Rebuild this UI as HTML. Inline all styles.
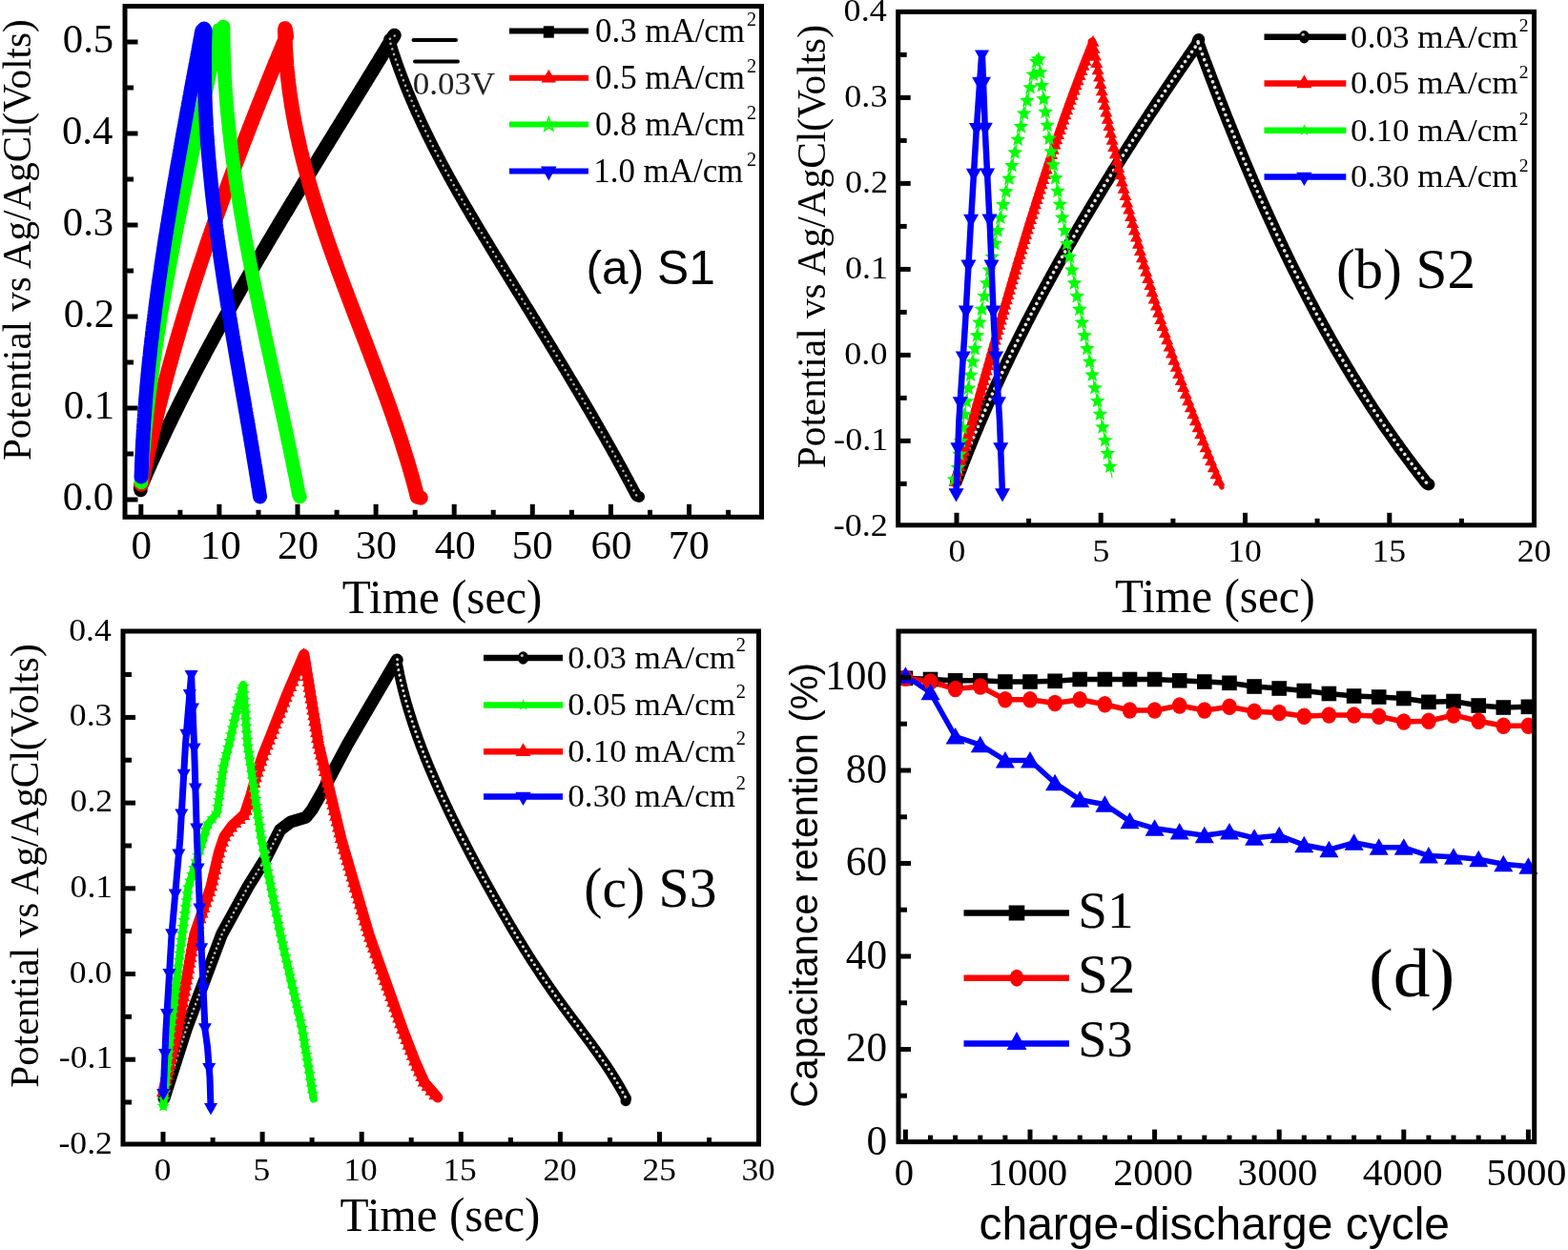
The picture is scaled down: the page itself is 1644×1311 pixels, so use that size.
<!DOCTYPE html>
<html><head><meta charset="utf-8"><title>Figure</title>
<style>html,body{margin:0;padding:0;background:#fff}body{width:1644px;height:1311px;overflow:hidden}svg{display:block}</style>
</head><body>
<svg xmlns="http://www.w3.org/2000/svg" width="1644" height="1311" viewBox="0 0 1644 1311">
<rect width="1644" height="1311" fill="#fff"/>
<text transform="translate(65.83,535.00) scale(1.0000,1)" font-family="'Liberation Serif','Times New Roman',serif" font-size="42.70" fill="#000">0.0</text>
<text transform="translate(66.69,439.00) scale(1.0000,1)" font-family="'Liberation Serif','Times New Roman',serif" font-size="42.70" fill="#000">0.1</text>
<text transform="translate(66.69,343.00) scale(1.0000,1)" font-family="'Liberation Serif','Times New Roman',serif" font-size="42.70" fill="#000">0.2</text>
<text transform="translate(65.83,247.00) scale(1.0000,1)" font-family="'Liberation Serif','Times New Roman',serif" font-size="42.70" fill="#000">0.3</text>
<text transform="translate(64.98,151.00) scale(1.0000,1)" font-family="'Liberation Serif','Times New Roman',serif" font-size="42.70" fill="#000">0.4</text>
<text transform="translate(65.83,55.00) scale(1.0000,1)" font-family="'Liberation Serif','Times New Roman',serif" font-size="42.70" fill="#000">0.5</text>
<text transform="translate(137.55,586.00) scale(1.0000,1)" font-family="'Liberation Serif','Times New Roman',serif" font-size="43.00" fill="#000">0</text>
<text transform="translate(209.63,586.00) scale(1.0000,1)" font-family="'Liberation Serif','Times New Roman',serif" font-size="43.00" fill="#000">10</text>
<text transform="translate(291.00,586.00) scale(1.0000,1)" font-family="'Liberation Serif','Times New Roman',serif" font-size="43.00" fill="#000">20</text>
<text transform="translate(372.89,586.00) scale(1.0000,1)" font-family="'Liberation Serif','Times New Roman',serif" font-size="43.00" fill="#000">30</text>
<text transform="translate(455.63,586.00) scale(1.0000,1)" font-family="'Liberation Serif','Times New Roman',serif" font-size="43.00" fill="#000">40</text>
<text transform="translate(536.87,586.00) scale(1.0000,1)" font-family="'Liberation Serif','Times New Roman',serif" font-size="43.00" fill="#000">50</text>
<text transform="translate(619.40,586.00) scale(1.0000,1)" font-family="'Liberation Serif','Times New Roman',serif" font-size="43.00" fill="#000">60</text>
<text transform="translate(700.86,586.00) scale(1.0000,1)" font-family="'Liberation Serif','Times New Roman',serif" font-size="43.00" fill="#000">70</text>
<text transform="translate(358.82,643.45) scale(0.9868,1)" font-family="'Liberation Serif','Times New Roman',serif" font-size="49.78" fill="#000">Time (sec)</text>
<text transform="translate(31.60,483.03) rotate(-90) scale(0.9976,1)" font-family="'Liberation Serif','Times New Roman',serif" font-size="41.20">Potential vs Ag/AgCl(Volts)</text>
<text transform="translate(614.52,297.67) scale(0.9821,1)" font-family="'Liberation Sans',Arial,sans-serif" font-size="50.64" fill="#000">(a) S1</text>
<line x1="433.5" y1="41.9" x2="478" y2="41.9" stroke="#000" stroke-width="4" stroke-linecap="round"/>
<line x1="435" y1="64.4" x2="480" y2="64.4" stroke="#000" stroke-width="4" stroke-linecap="round"/>
<text transform="translate(432.70,98.62) scale(1.0273,1)" font-family="'Liberation Serif','Times New Roman',serif" font-size="34.03" fill="#222">0.03V</text>
<polyline points="147.5,514.0 147.1,511.7 147.9,509.8 148.7,508.0 149.5,506.1 150.3,504.3 151.1,502.5 151.9,500.6 152.7,498.8 153.5,496.9 154.3,495.1 155.1,493.3 156.0,491.4 156.8,489.6 157.6,487.7 158.4,485.9 159.2,484.1 160.1,482.2 160.9,480.4 161.7,478.6 162.6,476.8 163.4,474.9 164.2,473.1 165.1,471.3 165.9,469.5 166.8,467.6 167.6,465.8 168.5,464.0 169.3,462.2 170.2,460.3 171.0,458.5 171.9,456.7 172.7,454.9 173.6,453.1 174.4,451.3 175.3,449.5 176.2,447.6 177.1,445.8 177.9,444.0 178.8,442.2 179.7,440.4 180.5,438.6 181.4,436.8 182.3,435.0 183.2,433.2 184.1,431.4 185.0,429.6 185.9,427.8 186.7,426.0 187.6,424.2 188.5,422.4 189.4,420.6 190.3,418.8 191.2,417.0 192.1,415.2 193.0,413.4 193.9,411.6 194.8,409.8 195.8,408.0 196.7,406.2 197.6,404.4 198.5,402.7 199.4,400.9 200.3,399.1 201.2,397.3 202.2,395.5 203.1,393.7 204.0,391.9 204.9,390.2 205.9,388.4 206.8,386.6 207.7,384.8 208.7,383.0 209.6,381.3 210.5,379.5 211.5,377.7 212.4,375.9 213.4,374.2 214.3,372.4 215.2,370.6 216.2,368.8 217.1,367.1 218.1,365.3 219.0,363.5 220.0,361.7 220.9,360.0 221.9,358.2 222.9,356.4 223.8,354.7 224.8,352.9 225.7,351.1 226.7,349.4 227.7,347.6 228.6,345.8 229.6,344.1 230.6,342.3 231.5,340.6 232.5,338.8 233.5,337.0 234.5,335.3 235.4,333.5 236.4,331.8 237.4,330.0 238.4,328.3 239.3,326.5 240.3,324.7 241.3,323.0 242.3,321.2 243.3,319.5 244.3,317.7 245.2,316.0 246.2,314.2 247.2,312.5 248.2,310.7 249.2,309.0 250.2,307.2 251.2,305.5 252.2,303.7 253.2,302.0 254.2,300.2 255.2,298.5 256.2,296.7 257.2,295.0 258.2,293.3 259.2,291.5 260.2,289.8 261.2,288.0 262.2,286.3 263.2,284.5 264.2,282.8 265.2,281.1 266.2,279.3 267.3,277.6 268.3,275.9 269.3,274.1 270.3,272.4 271.3,270.6 272.3,268.9 273.4,267.2 274.4,265.4 275.4,263.7 276.4,262.0 277.4,260.2 278.5,258.5 279.5,256.8 280.5,255.0 281.5,253.3 282.5,251.6 283.6,249.8 284.6,248.1 285.6,246.4 286.7,244.6 287.7,242.9 288.7,241.2 289.7,239.5 290.8,237.7 291.8,236.0 292.8,234.3 293.9,232.5 294.9,230.8 295.9,229.1 297.0,227.4 298.0,225.6 299.0,223.9 300.1,222.2 301.1,220.5 302.2,218.7 303.2,217.0 304.2,215.3 305.3,213.6 306.3,211.8 307.4,210.1 308.4,208.4 309.4,206.7 310.5,205.0 311.5,203.2 312.6,201.5 313.6,199.8 314.7,198.1 315.7,196.4 316.8,194.6 317.8,192.9 318.8,191.2 319.9,189.5 320.9,187.8 322.0,186.0 323.0,184.3 324.1,182.6 325.1,180.9 326.2,179.2 327.2,177.5 328.3,175.7 329.3,174.0 330.4,172.3 331.4,170.6 332.5,168.9 333.5,167.2 334.6,165.4 335.6,163.7 336.7,162.0 337.7,160.3 338.8,158.6 339.8,156.9 340.9,155.1 341.9,153.4 343.0,151.7 344.1,150.0 345.1,148.3 346.2,146.6 347.2,144.9 348.3,143.2 349.3,141.4 350.4,139.7 351.4,138.0 352.5,136.3 353.5,134.6 354.6,132.9 355.6,131.2 356.7,129.5 357.8,127.7 358.8,126.0 359.9,124.3 360.9,122.6 362.0,120.9 363.0,119.2 364.1,117.5 365.1,115.8 366.2,114.0 367.2,112.3 368.3,110.6 369.3,108.9 370.4,107.2 371.4,105.5 372.5,103.8 373.6,102.1 374.6,100.4 375.7,98.6 376.7,96.9 377.8,95.2 378.8,93.5 379.9,91.8 380.9,90.1 382.0,88.4 383.0,86.7 384.1,85.0 385.1,83.2 386.2,81.5 387.2,79.8 388.3,78.1 389.3,76.4 390.4,74.7 391.4,73.0 392.5,71.3 393.5,69.5 394.6,67.8 395.6,66.1 396.7,64.4 397.7,62.7 398.7,61.0 399.8,59.3 400.8,57.6 401.9,55.8 402.9,54.1 404.0,52.4 405.0,50.7 406.0,49.0 407.1,47.3 408.1,45.6 409.2,43.9 410.2,42.1 411.3,40.4 412.3,38.7 413.5,37.0" fill="none" stroke="#000" stroke-width="14.5" stroke-linejoin="round" stroke-linecap="round" />
<polyline points="413.8,37.5 408.1,41.3 408.7,43.2 409.3,45.1 409.9,47.0 410.5,48.9 411.1,50.8 411.7,52.7 412.3,54.6 412.9,56.5 413.6,58.4 414.2,60.3 414.8,62.1 415.5,64.0 416.1,65.9 416.8,67.8 417.5,69.6 418.1,71.5 418.8,73.4 419.5,75.3 420.2,77.1 420.9,79.0 421.6,80.8 422.3,82.7 423.0,84.5 423.7,86.4 424.5,88.2 425.2,90.1 425.9,91.9 426.7,93.8 427.4,95.6 428.2,97.5 428.9,99.3 429.7,101.1 430.5,103.0 431.2,104.8 432.0,106.6 432.8,108.4 433.6,110.3 434.4,112.1 435.2,113.9 436.0,115.7 436.8,117.5 437.6,119.4 438.5,121.2 439.3,123.0 440.1,124.8 440.9,126.6 441.8,128.4 442.6,130.2 443.5,132.0 444.3,133.8 445.2,135.6 446.1,137.4 446.9,139.2 447.8,141.0 448.7,142.8 449.6,144.6 450.4,146.4 451.3,148.1 452.2,149.9 453.1,151.7 454.0,153.5 454.9,155.3 455.8,157.0 456.7,158.8 457.7,160.6 458.6,162.4 459.5,164.1 460.4,165.9 461.4,167.7 462.3,169.5 463.2,171.2 464.2,173.0 465.1,174.7 466.1,176.5 467.0,178.3 468.0,180.0 468.9,181.8 469.9,183.5 470.8,185.3 471.8,187.1 472.8,188.8 473.7,190.6 474.7,192.3 475.7,194.1 476.7,195.8 477.7,197.6 478.7,199.3 479.6,201.1 480.6,202.8 481.6,204.6 482.6,206.3 483.6,208.0 484.6,209.8 485.6,211.5 486.6,213.3 487.6,215.0 488.6,216.7 489.7,218.5 490.7,220.2 491.7,221.9 492.7,223.7 493.7,225.4 494.7,227.1 495.8,228.9 496.8,230.6 497.8,232.3 498.9,234.1 499.9,235.8 500.9,237.5 501.9,239.3 503.0,241.0 504.0,242.7 505.1,244.4 506.1,246.2 507.1,247.9 508.2,249.6 509.2,251.3 510.3,253.1 511.3,254.8 512.4,256.5 513.4,258.2 514.4,260.0 515.5,261.7 516.5,263.4 517.6,265.1 518.6,266.9 519.7,268.6 520.7,270.3 521.8,272.0 522.9,273.7 523.9,275.5 525.0,277.2 526.0,278.9 527.1,280.6 528.1,282.3 529.2,284.1 530.2,285.8 531.3,287.5 532.3,289.2 533.4,290.9 534.5,292.7 535.5,294.4 536.6,296.1 537.6,297.8 538.7,299.5 539.7,301.2 540.8,303.0 541.8,304.7 542.9,306.4 544.0,308.1 545.0,309.8 546.1,311.6 547.1,313.3 548.2,315.0 549.2,316.7 550.3,318.4 551.3,320.2 552.4,321.9 553.5,323.6 554.5,325.3 555.6,327.0 556.6,328.8 557.7,330.5 558.7,332.2 559.8,333.9 560.8,335.6 561.9,337.4 562.9,339.1 564.0,340.8 565.0,342.5 566.1,344.2 567.1,346.0 568.2,347.7 569.2,349.4 570.3,351.1 571.3,352.8 572.4,354.6 573.4,356.3 574.5,358.0 575.5,359.7 576.6,361.5 577.6,363.2 578.7,364.9 579.7,366.6 580.7,368.3 581.8,370.1 582.8,371.8 583.9,373.5 584.9,375.2 585.9,377.0 587.0,378.7 588.0,380.4 589.1,382.1 590.1,383.9 591.1,385.6 592.2,387.3 593.2,389.0 594.2,390.8 595.3,392.5 596.3,394.2 597.3,396.0 598.4,397.7 599.4,399.4 600.4,401.1 601.5,402.9 602.5,404.6 603.5,406.3 604.5,408.1 605.6,409.8 606.6,411.5 607.6,413.2 608.6,415.0 609.6,416.7 610.7,418.4 611.7,420.2 612.7,421.9 613.7,423.6 614.7,425.4 615.7,427.1 616.8,428.9 617.8,430.6 618.8,432.3 619.8,434.1 620.8,435.8 621.8,437.5 622.8,439.3 623.8,441.0 624.8,442.8 625.8,444.5 626.8,446.2 627.8,448.0 628.8,449.7 629.8,451.5 630.8,453.2 631.8,454.9 632.8,456.7 633.8,458.4 634.8,460.2 635.7,461.9 636.7,463.7 637.7,465.4 638.7,467.2 639.7,468.9 640.7,470.7 641.6,472.4 642.6,474.2 643.6,475.9 644.6,477.7 645.5,479.4 646.5,481.2 647.5,482.9 648.4,484.7 649.4,486.4 650.4,488.2 651.3,489.9 652.3,491.7 653.2,493.4 654.2,495.2 655.1,497.0 656.1,498.7 657.0,500.5 658.0,502.2 658.9,504.0 659.9,505.8 660.8,507.5 661.8,509.3 662.7,511.1 663.6,512.8 664.6,514.6 665.5,516.4 666.4,518.1 667.4,519.9 670.0,521.0" fill="none" stroke="#000" stroke-width="12" stroke-linejoin="round" stroke-linecap="round" />
<polyline points="413.8,37.5 408.1,41.3 408.7,43.2 409.3,45.1 409.9,47.0 410.5,48.9 411.1,50.8 411.7,52.7 412.3,54.6 412.9,56.5 413.6,58.4 414.2,60.3 414.8,62.1 415.5,64.0 416.1,65.9 416.8,67.8 417.5,69.6 418.1,71.5 418.8,73.4 419.5,75.3 420.2,77.1 420.9,79.0 421.6,80.8 422.3,82.7 423.0,84.5 423.7,86.4 424.5,88.2 425.2,90.1 425.9,91.9 426.7,93.8 427.4,95.6 428.2,97.5 428.9,99.3 429.7,101.1 430.5,103.0 431.2,104.8 432.0,106.6 432.8,108.4 433.6,110.3 434.4,112.1 435.2,113.9 436.0,115.7 436.8,117.5 437.6,119.4 438.5,121.2 439.3,123.0 440.1,124.8 440.9,126.6 441.8,128.4 442.6,130.2 443.5,132.0 444.3,133.8 445.2,135.6 446.1,137.4 446.9,139.2 447.8,141.0 448.7,142.8 449.6,144.6 450.4,146.4 451.3,148.1 452.2,149.9 453.1,151.7 454.0,153.5 454.9,155.3 455.8,157.0 456.7,158.8 457.7,160.6 458.6,162.4 459.5,164.1 460.4,165.9 461.4,167.7 462.3,169.5 463.2,171.2 464.2,173.0 465.1,174.7 466.1,176.5 467.0,178.3 468.0,180.0 468.9,181.8 469.9,183.5 470.8,185.3 471.8,187.1 472.8,188.8 473.7,190.6 474.7,192.3 475.7,194.1 476.7,195.8 477.7,197.6 478.7,199.3 479.6,201.1 480.6,202.8 481.6,204.6 482.6,206.3 483.6,208.0 484.6,209.8 485.6,211.5 486.6,213.3 487.6,215.0 488.6,216.7 489.7,218.5 490.7,220.2 491.7,221.9 492.7,223.7 493.7,225.4 494.7,227.1 495.8,228.9 496.8,230.6 497.8,232.3 498.9,234.1 499.9,235.8 500.9,237.5 501.9,239.3 503.0,241.0 504.0,242.7 505.1,244.4 506.1,246.2 507.1,247.9 508.2,249.6 509.2,251.3 510.3,253.1 511.3,254.8 512.4,256.5 513.4,258.2 514.4,260.0 515.5,261.7 516.5,263.4 517.6,265.1 518.6,266.9 519.7,268.6 520.7,270.3 521.8,272.0 522.9,273.7 523.9,275.5 525.0,277.2 526.0,278.9 527.1,280.6 528.1,282.3 529.2,284.1 530.2,285.8 531.3,287.5 532.3,289.2 533.4,290.9 534.5,292.7 535.5,294.4 536.6,296.1 537.6,297.8 538.7,299.5 539.7,301.2 540.8,303.0 541.8,304.7 542.9,306.4 544.0,308.1 545.0,309.8 546.1,311.6 547.1,313.3 548.2,315.0 549.2,316.7 550.3,318.4 551.3,320.2 552.4,321.9 553.5,323.6 554.5,325.3 555.6,327.0 556.6,328.8 557.7,330.5 558.7,332.2 559.8,333.9 560.8,335.6 561.9,337.4 562.9,339.1 564.0,340.8 565.0,342.5 566.1,344.2 567.1,346.0 568.2,347.7 569.2,349.4 570.3,351.1 571.3,352.8 572.4,354.6 573.4,356.3 574.5,358.0 575.5,359.7 576.6,361.5 577.6,363.2 578.7,364.9 579.7,366.6 580.7,368.3 581.8,370.1 582.8,371.8 583.9,373.5 584.9,375.2 585.9,377.0 587.0,378.7 588.0,380.4 589.1,382.1 590.1,383.9 591.1,385.6 592.2,387.3 593.2,389.0 594.2,390.8 595.3,392.5 596.3,394.2 597.3,396.0 598.4,397.7 599.4,399.4 600.4,401.1 601.5,402.9 602.5,404.6 603.5,406.3 604.5,408.1 605.6,409.8 606.6,411.5 607.6,413.2 608.6,415.0 609.6,416.7 610.7,418.4 611.7,420.2 612.7,421.9 613.7,423.6 614.7,425.4 615.7,427.1 616.8,428.9 617.8,430.6 618.8,432.3 619.8,434.1 620.8,435.8 621.8,437.5 622.8,439.3 623.8,441.0 624.8,442.8 625.8,444.5 626.8,446.2 627.8,448.0 628.8,449.7 629.8,451.5 630.8,453.2 631.8,454.9 632.8,456.7 633.8,458.4 634.8,460.2 635.7,461.9 636.7,463.7 637.7,465.4 638.7,467.2 639.7,468.9 640.7,470.7 641.6,472.4 642.6,474.2 643.6,475.9 644.6,477.7 645.5,479.4 646.5,481.2 647.5,482.9 648.4,484.7 649.4,486.4 650.4,488.2 651.3,489.9 652.3,491.7 653.2,493.4 654.2,495.2 655.1,497.0 656.1,498.7 657.0,500.5 658.0,502.2 658.9,504.0 659.9,505.8 660.8,507.5 661.8,509.3 662.7,511.1 663.6,512.8 664.6,514.6 665.5,516.4 666.4,518.1 667.4,519.9 670.0,521.0" fill="none" stroke="#b0b0b0" stroke-width="2.6" stroke-linejoin="round" stroke-linecap="round" stroke-dasharray="0.01 5.80"/>
<polyline points="148.0,508.0 148.9,506.1 149.3,504.1 149.7,502.2 150.1,500.2 150.5,498.2 150.9,496.2 151.3,494.3 151.7,492.3 152.1,490.3 152.5,488.4 152.9,486.4 153.3,484.4 153.7,482.5 154.2,480.5 154.6,478.5 155.0,476.6 155.4,474.6 155.9,472.7 156.3,470.7 156.7,468.7 157.2,466.8 157.6,464.8 158.0,462.8 158.5,460.9 158.9,458.9 159.4,457.0 159.8,455.0 160.3,453.1 160.7,451.1 161.2,449.1 161.6,447.2 162.1,445.2 162.6,443.3 163.0,441.3 163.5,439.4 164.0,437.4 164.4,435.5 164.9,433.5 165.4,431.6 165.9,429.6 166.3,427.7 166.8,425.7 167.3,423.8 167.8,421.8 168.3,419.9 168.8,417.9 169.3,416.0 169.8,414.0 170.3,412.1 170.8,410.1 171.3,408.2 171.8,406.2 172.3,404.3 172.8,402.4 173.3,400.4 173.8,398.5 174.3,396.5 174.8,394.6 175.4,392.6 175.9,390.7 176.4,388.8 176.9,386.8 177.5,384.9 178.0,382.9 178.5,381.0 179.1,379.1 179.6,377.1 180.1,375.2 180.7,373.3 181.2,371.3 181.7,369.4 182.3,367.5 182.8,365.5 183.4,363.6 183.9,361.7 184.5,359.7 185.0,357.8 185.6,355.9 186.2,353.9 186.7,352.0 187.3,350.1 187.8,348.1 188.4,346.2 189.0,344.3 189.5,342.4 190.1,340.4 190.7,338.5 191.3,336.6 191.8,334.7 192.4,332.7 193.0,330.8 193.6,328.9 194.2,327.0 194.8,325.0 195.3,323.1 195.9,321.2 196.5,319.3 197.1,317.4 197.7,315.4 198.3,313.5 198.9,311.6 199.5,309.7 200.1,307.8 200.7,305.8 201.3,303.9 201.9,302.0 202.5,300.1 203.1,298.2 203.7,296.3 204.4,294.3 205.0,292.4 205.6,290.5 206.2,288.6 206.8,286.7 207.5,284.8 208.1,282.9 208.7,281.0 209.3,279.0 210.0,277.1 210.6,275.2 211.2,273.3 211.9,271.4 212.5,269.5 213.1,267.6 213.8,265.7 214.4,263.8 215.0,261.9 215.7,260.0 216.3,258.1 217.0,256.1 217.6,254.2 218.3,252.3 218.9,250.4 219.6,248.5 220.2,246.6 220.9,244.7 221.5,242.8 222.2,240.9 222.9,239.0 223.5,237.1 224.2,235.2 224.8,233.3 225.5,231.4 226.2,229.5 226.8,227.6 227.5,225.7 228.2,223.8 228.9,221.9 229.5,220.0 230.2,218.2 230.9,216.3 231.6,214.4 232.2,212.5 232.9,210.6 233.6,208.7 234.3,206.8 235.0,204.9 235.6,203.0 236.3,201.1 237.0,199.2 237.7,197.3 238.4,195.4 239.1,193.6 239.8,191.7 240.5,189.8 241.2,187.9 241.9,186.0 242.6,184.1 243.3,182.2 244.0,180.3 244.7,178.5 245.4,176.6 246.1,174.7 246.8,172.8 247.5,170.9 248.2,169.0 248.9,167.2 249.6,165.3 250.3,163.4 251.0,161.5 251.8,159.6 252.5,157.7 253.2,155.9 253.9,154.0 254.6,152.1 255.3,150.2 256.1,148.4 256.8,146.5 257.5,144.6 258.2,142.7 259.0,140.8 259.7,139.0 260.4,137.1 261.1,135.2 261.9,133.3 262.6,131.5 263.3,129.6 264.1,127.7 264.8,125.8 265.5,124.0 266.3,122.1 267.0,120.2 267.7,118.4 268.5,116.5 269.2,114.6 270.0,112.7 270.7,110.9 271.4,109.0 272.2,107.1 272.9,105.3 273.7,103.4 274.4,101.5 275.2,99.7 275.9,97.8 276.7,95.9 277.4,94.1 278.2,92.2 278.9,90.3 279.7,88.5 280.4,86.6 281.2,84.8 281.9,82.9 282.7,81.0 283.5,79.2 284.2,77.3 285.0,75.4 285.7,73.6 286.5,71.7 287.2,69.9 288.0,68.0 288.8,66.1 289.5,64.3 290.3,62.4 291.1,60.6 291.8,58.7 292.6,56.9 293.4,55.0 294.1,53.1 294.9,51.3 295.7,49.4 296.4,47.6 297.2,45.7 298.0,43.9 298.8,42.0 299.5,40.2 300.3,38.3 300.0,36.0 299.0,30.0 298.8,31.9 298.8,33.9 298.9,35.9 298.9,38.0 299.0,40.0 299.0,42.1 299.1,44.1 299.2,46.1 299.2,48.2 299.3,50.2 299.4,52.2 299.5,54.2 299.7,56.3 299.8,58.3 299.9,60.3 300.1,62.3 300.2,64.3 300.4,66.4 300.5,68.4 300.7,70.4 300.9,72.4 301.1,74.4 301.3,76.4 301.5,78.4 301.7,80.4 301.9,82.4 302.1,84.4 302.4,86.4 302.6,88.4 302.9,90.4 303.1,92.4 303.4,94.4 303.6,96.4 303.9,98.4 304.2,100.3 304.5,102.3 304.8,104.3 305.1,106.3 305.4,108.3 305.7,110.3 306.0,112.2 306.4,114.2 306.7,116.2 307.0,118.2 307.4,120.1 307.7,122.1 308.1,124.1 308.5,126.0 308.8,128.0 309.2,130.0 309.6,131.9 310.0,133.9 310.4,135.8 310.8,137.8 311.2,139.8 311.6,141.7 312.0,143.7 312.5,145.6 312.9,147.6 313.3,149.5 313.8,151.5 314.2,153.4 314.7,155.4 315.1,157.3 315.6,159.3 316.1,161.2 316.6,163.1 317.0,165.1 317.5,167.0 318.0,169.0 318.5,170.9 319.0,172.8 319.5,174.8 320.0,176.7 320.5,178.6 321.1,180.6 321.6,182.5 322.1,184.4 322.7,186.4 323.2,188.3 323.7,190.2 324.3,192.1 324.8,194.1 325.4,196.0 325.9,197.9 326.5,199.8 327.1,201.7 327.7,203.7 328.2,205.6 328.8,207.5 329.4,209.4 330.0,211.3 330.6,213.2 331.2,215.2 331.8,217.1 332.4,219.0 333.0,220.9 333.6,222.8 334.2,224.7 334.8,226.6 335.4,228.5 336.1,230.4 336.7,232.3 337.3,234.3 337.9,236.2 338.6,238.1 339.2,240.0 339.9,241.9 340.5,243.8 341.2,245.7 341.8,247.6 342.5,249.5 343.1,251.4 343.8,253.3 344.4,255.2 345.1,257.1 345.8,259.0 346.4,260.9 347.1,262.8 347.8,264.7 348.5,266.6 349.1,268.5 349.8,270.3 350.5,272.2 351.2,274.1 351.9,276.0 352.6,277.9 353.3,279.8 353.9,281.7 354.6,283.6 355.3,285.5 356.0,287.4 356.7,289.3 357.4,291.2 358.1,293.0 358.8,294.9 359.5,296.8 360.2,298.7 361.0,300.6 361.7,302.5 362.4,304.4 363.1,306.3 363.8,308.1 364.5,310.0 365.2,311.9 365.9,313.8 366.7,315.7 367.4,317.6 368.1,319.5 368.8,321.3 369.5,323.2 370.3,325.1 371.0,327.0 371.7,328.9 372.4,330.8 373.1,332.7 373.9,334.5 374.6,336.4 375.3,338.3 376.0,340.2 376.8,342.1 377.5,344.0 378.2,345.8 378.9,347.7 379.6,349.6 380.4,351.5 381.1,353.4 381.8,355.3 382.5,357.1 383.3,359.0 384.0,360.9 384.7,362.8 385.4,364.7 386.1,366.6 386.9,368.5 387.6,370.3 388.3,372.2 389.0,374.1 389.7,376.0 390.4,377.9 391.2,379.8 391.9,381.7 392.6,383.5 393.3,385.4 394.0,387.3 394.7,389.2 395.4,391.1 396.1,393.0 396.8,394.9 397.5,396.8 398.2,398.6 398.9,400.5 399.6,402.4 400.3,404.3 401.0,406.2 401.7,408.1 402.4,410.0 403.1,411.9 403.8,413.8 404.5,415.7 405.2,417.6 405.8,419.4 406.5,421.3 407.2,423.2 407.9,425.1 408.5,427.0 409.2,428.9 409.9,430.8 410.5,432.7 411.2,434.6 411.9,436.5 412.5,438.4 413.2,440.3 413.8,442.2 414.5,444.1 415.1,446.0 415.8,447.9 416.4,449.8 417.0,451.7 417.7,453.6 418.3,455.5 418.9,457.4 419.6,459.3 420.2,461.2 420.8,463.1 421.4,465.0 422.0,467.0 422.6,468.9 423.2,470.8 423.8,472.7 424.4,474.6 425.0,476.5 425.6,478.4 426.2,480.3 426.8,482.3 427.4,484.2 427.9,486.1 428.5,488.0 429.1,489.9 429.6,491.8 430.2,493.8 430.8,495.7 431.3,497.6 431.9,499.5 432.4,501.5 432.9,503.4 433.5,505.3 434.0,507.2 434.5,509.2 435.0,511.1 435.5,513.0 436.0,515.0 436.6,516.9 437.0,518.8 437.5,520.8 441.0,522.0" fill="none" stroke="#f00" stroke-width="15.5" stroke-linejoin="round" stroke-linecap="round" />
<polyline points="148.0,506.0 147.9,503.9 148.1,501.9 148.2,499.9 148.3,497.9 148.5,495.9 148.6,493.9 148.8,491.9 148.9,489.9 149.1,487.9 149.2,485.9 149.4,483.9 149.5,481.9 149.7,479.9 149.9,477.9 150.0,475.9 150.2,473.9 150.4,471.9 150.6,469.9 150.7,467.9 150.9,465.9 151.1,463.9 151.3,461.9 151.5,459.9 151.7,457.9 151.9,455.9 152.1,453.9 152.3,451.9 152.5,449.9 152.7,447.9 152.9,445.9 153.1,443.9 153.3,441.9 153.5,439.9 153.7,437.9 153.9,435.9 154.2,433.9 154.4,431.9 154.6,429.9 154.9,427.9 155.1,425.9 155.3,423.9 155.6,421.9 155.8,419.9 156.0,417.9 156.3,415.9 156.5,414.0 156.8,412.0 157.0,410.0 157.3,408.0 157.5,406.0 157.8,404.0 158.0,402.0 158.3,400.0 158.6,398.0 158.8,396.0 159.1,394.0 159.4,392.0 159.6,390.1 159.9,388.1 160.2,386.1 160.5,384.1 160.8,382.1 161.0,380.1 161.3,378.1 161.6,376.1 161.9,374.1 162.2,372.2 162.5,370.2 162.8,368.2 163.1,366.2 163.4,364.2 163.7,362.2 164.0,360.2 164.3,358.3 164.6,356.3 164.9,354.3 165.2,352.3 165.5,350.3 165.8,348.3 166.1,346.3 166.5,344.4 166.8,342.4 167.1,340.4 167.4,338.4 167.7,336.4 168.1,334.4 168.4,332.5 168.7,330.5 169.0,328.5 169.4,326.5 169.7,324.5 170.0,322.5 170.4,320.6 170.7,318.6 171.1,316.6 171.4,314.6 171.8,312.6 172.1,310.7 172.4,308.7 172.8,306.7 173.1,304.7 173.5,302.7 173.8,300.8 174.2,298.8 174.6,296.8 174.9,294.8 175.3,292.9 175.6,290.9 176.0,288.9 176.3,286.9 176.7,284.9 177.1,283.0 177.4,281.0 177.8,279.0 178.2,277.0 178.5,275.1 178.9,273.1 179.3,271.1 179.7,269.1 180.0,267.2 180.4,265.2 180.8,263.2 181.2,261.2 181.6,259.2 181.9,257.3 182.3,255.3 182.7,253.3 183.1,251.4 183.5,249.4 183.9,247.4 184.2,245.4 184.6,243.5 185.0,241.5 185.4,239.5 185.8,237.5 186.2,235.6 186.6,233.6 187.0,231.6 187.4,229.7 187.8,227.7 188.2,225.7 188.6,223.7 189.0,221.8 189.4,219.8 189.8,217.8 190.2,215.9 190.6,213.9 191.0,211.9 191.4,209.9 191.8,208.0 192.2,206.0 192.6,204.0 193.0,202.1 193.4,200.1 193.8,198.1 194.2,196.2 194.6,194.2 195.1,192.2 195.5,190.3 195.9,188.3 196.3,186.3 196.7,184.3 197.1,182.4 197.5,180.4 197.9,178.4 198.4,176.5 198.8,174.5 199.2,172.5 199.6,170.6 200.0,168.6 200.4,166.6 200.9,164.7 201.3,162.7 201.7,160.7 202.1,158.8 202.5,156.8 203.0,154.9 203.4,152.9 203.8,150.9 204.2,149.0 204.7,147.0 205.1,145.0 205.5,143.1 205.9,141.1 206.3,139.1 206.8,137.2 207.2,135.2 207.6,133.2 208.0,131.3 208.5,129.3 208.9,127.4 209.3,125.4 209.7,123.4 210.2,121.5 210.6,119.5 211.0,117.5 211.4,115.6 211.9,113.6 212.3,111.7 212.7,109.7 213.1,107.7 213.6,105.8 214.0,103.8 214.4,101.8 214.8,99.9 215.3,97.9 215.7,96.0 216.1,94.0 216.5,92.0 217.0,90.1 217.4,88.1 217.8,86.2 218.2,84.2 218.7,82.2 219.1,80.3 219.5,78.3 219.9,76.4 220.4,74.4 220.8,72.5 221.2,70.5 221.6,68.5 222.1,66.6 222.5,64.6 222.9,62.7 223.3,60.7 223.8,58.7 224.2,56.8 224.6,54.8 225.0,52.9 225.4,50.9 225.9,49.0 226.3,47.0 226.7,45.0 227.1,43.1 227.5,41.1 228.0,39.2 228.4,37.2 228.8,35.3 229.2,33.3 229.6,31.3 233.0,30.0 234.0,28.0 234.2,29.9 234.2,31.9 234.2,34.0 234.2,36.0 234.3,38.0 234.3,40.0 234.3,42.0 234.3,44.1 234.4,46.1 234.4,48.1 234.4,50.1 234.5,52.1 234.5,54.2 234.6,56.2 234.7,58.2 234.7,60.2 234.8,62.2 234.9,64.2 234.9,66.2 235.0,68.2 235.1,70.3 235.2,72.3 235.3,74.3 235.4,76.3 235.5,78.3 235.6,80.3 235.7,82.3 235.8,84.3 236.0,86.3 236.1,88.3 236.2,90.4 236.4,92.4 236.5,94.4 236.6,96.4 236.8,98.4 236.9,100.4 237.1,102.4 237.2,104.4 237.4,106.4 237.6,108.4 237.7,110.4 237.9,112.4 238.1,114.4 238.2,116.4 238.4,118.4 238.6,120.4 238.8,122.4 239.0,124.4 239.2,126.4 239.4,128.4 239.6,130.4 239.8,132.4 240.0,134.4 240.2,136.4 240.4,138.4 240.7,140.4 240.9,142.4 241.1,144.4 241.3,146.3 241.6,148.3 241.8,150.3 242.0,152.3 242.3,154.3 242.5,156.3 242.8,158.3 243.0,160.3 243.3,162.3 243.5,164.3 243.8,166.3 244.1,168.3 244.3,170.2 244.6,172.2 244.9,174.2 245.2,176.2 245.4,178.2 245.7,180.2 246.0,182.2 246.3,184.2 246.6,186.1 246.9,188.1 247.2,190.1 247.5,192.1 247.8,194.1 248.1,196.1 248.4,198.0 248.7,200.0 249.0,202.0 249.3,204.0 249.6,206.0 249.9,208.0 250.3,209.9 250.6,211.9 250.9,213.9 251.2,215.9 251.6,217.9 251.9,219.8 252.2,221.8 252.6,223.8 252.9,225.8 253.3,227.8 253.6,229.7 253.9,231.7 254.3,233.7 254.6,235.7 255.0,237.7 255.3,239.6 255.7,241.6 256.1,243.6 256.4,245.6 256.8,247.5 257.1,249.5 257.5,251.5 257.9,253.5 258.3,255.4 258.6,257.4 259.0,259.4 259.4,261.4 259.7,263.3 260.1,265.3 260.5,267.3 260.9,269.3 261.3,271.2 261.7,273.2 262.0,275.2 262.4,277.2 262.8,279.1 263.2,281.1 263.6,283.1 264.0,285.0 264.4,287.0 264.8,289.0 265.2,291.0 265.6,292.9 266.0,294.9 266.4,296.9 266.8,298.8 267.2,300.8 267.6,302.8 268.0,304.8 268.4,306.7 268.8,308.7 269.2,310.7 269.6,312.6 270.0,314.6 270.5,316.6 270.9,318.5 271.3,320.5 271.7,322.5 272.1,324.4 272.5,326.4 273.0,328.4 273.4,330.4 273.8,332.3 274.2,334.3 274.6,336.3 275.1,338.2 275.5,340.2 275.9,342.2 276.3,344.1 276.8,346.1 277.2,348.1 277.6,350.0 278.0,352.0 278.5,354.0 278.9,355.9 279.3,357.9 279.7,359.9 280.2,361.8 280.6,363.8 281.0,365.8 281.5,367.7 281.9,369.7 282.3,371.7 282.7,373.6 283.2,375.6 283.6,377.5 284.0,379.5 284.5,381.5 284.9,383.4 285.3,385.4 285.8,387.4 286.2,389.3 286.6,391.3 287.1,393.3 287.5,395.2 287.9,397.2 288.4,399.2 288.8,401.1 289.2,403.1 289.6,405.1 290.1,407.0 290.5,409.0 290.9,411.0 291.4,412.9 291.8,414.9 292.2,416.9 292.7,418.8 293.1,420.8 293.5,422.7 293.9,424.7 294.4,426.7 294.8,428.6 295.2,430.6 295.6,432.6 296.1,434.5 296.5,436.5 296.9,438.5 297.3,440.4 297.8,442.4 298.2,444.4 298.6,446.3 299.0,448.3 299.4,450.3 299.9,452.2 300.3,454.2 300.7,456.1 301.1,458.1 301.5,460.1 301.9,462.0 302.3,464.0 302.8,466.0 303.2,467.9 303.6,469.9 304.0,471.9 304.4,473.8 304.8,475.8 305.2,477.8 305.6,479.7 306.0,481.7 306.4,483.7 306.8,485.6 307.2,487.6 307.6,489.6 308.0,491.5 308.4,493.5 308.8,495.5 309.2,497.4 309.6,499.4 310.0,501.4 310.4,503.3 310.7,505.3 311.1,507.3 311.5,509.2 311.9,511.2 312.3,513.2 312.6,515.1 313.0,517.1 313.4,519.1 314.5,521.0" fill="none" stroke="#0f0" stroke-width="14.5" stroke-linejoin="round" stroke-linecap="round" />
<polyline points="148.0,500.0 148.1,498.0 148.2,496.0 148.3,494.0 148.4,492.0 148.4,490.0 148.5,487.9 148.6,485.9 148.7,483.9 148.8,481.9 148.8,479.9 148.9,477.9 149.0,475.9 149.1,473.9 149.2,471.8 149.3,469.8 149.4,467.8 149.5,465.8 149.6,463.8 149.7,461.8 149.9,459.8 150.0,457.8 150.1,455.8 150.2,453.8 150.3,451.7 150.5,449.7 150.6,447.7 150.7,445.7 150.9,443.7 151.0,441.7 151.1,439.7 151.3,437.7 151.4,435.7 151.6,433.7 151.7,431.7 151.9,429.7 152.0,427.7 152.2,425.7 152.3,423.7 152.5,421.6 152.6,419.6 152.8,417.6 153.0,415.6 153.1,413.6 153.3,411.6 153.5,409.6 153.7,407.6 153.8,405.6 154.0,403.6 154.2,401.6 154.4,399.6 154.6,397.6 154.8,395.6 154.9,393.6 155.1,391.6 155.3,389.6 155.5,387.6 155.7,385.6 155.9,383.6 156.1,381.6 156.3,379.6 156.5,377.6 156.7,375.6 157.0,373.6 157.2,371.6 157.4,369.6 157.6,367.6 157.8,365.6 158.0,363.6 158.3,361.6 158.5,359.6 158.7,357.6 158.9,355.6 159.2,353.6 159.4,351.6 159.6,349.6 159.9,347.6 160.1,345.6 160.3,343.6 160.6,341.6 160.8,339.6 161.1,337.6 161.3,335.6 161.6,333.6 161.8,331.6 162.1,329.6 162.3,327.6 162.6,325.6 162.8,323.6 163.1,321.7 163.3,319.7 163.6,317.7 163.9,315.7 164.1,313.7 164.4,311.7 164.7,309.7 164.9,307.7 165.2,305.7 165.5,303.7 165.7,301.7 166.0,299.7 166.3,297.7 166.6,295.7 166.8,293.7 167.1,291.8 167.4,289.8 167.7,287.8 168.0,285.8 168.3,283.8 168.6,281.8 168.8,279.8 169.1,277.8 169.4,275.8 169.7,273.8 170.0,271.8 170.3,269.8 170.6,267.9 170.9,265.9 171.2,263.9 171.5,261.9 171.8,259.9 172.1,257.9 172.4,255.9 172.7,253.9 173.0,251.9 173.3,250.0 173.6,248.0 174.0,246.0 174.3,244.0 174.6,242.0 174.9,240.0 175.2,238.0 175.5,236.0 175.9,234.0 176.2,232.1 176.5,230.1 176.8,228.1 177.1,226.1 177.5,224.1 177.8,222.1 178.1,220.1 178.4,218.2 178.8,216.2 179.1,214.2 179.4,212.2 179.7,210.2 180.1,208.2 180.4,206.2 180.7,204.3 181.1,202.3 181.4,200.3 181.7,198.3 182.1,196.3 182.4,194.3 182.8,192.3 183.1,190.4 183.4,188.4 183.8,186.4 184.1,184.4 184.5,182.4 184.8,180.4 185.1,178.5 185.5,176.5 185.8,174.5 186.2,172.5 186.5,170.5 186.9,168.5 187.2,166.6 187.6,164.6 187.9,162.6 188.3,160.6 188.6,158.6 189.0,156.6 189.3,154.7 189.7,152.7 190.0,150.7 190.4,148.7 190.7,146.7 191.1,144.8 191.4,142.8 191.8,140.8 192.2,138.8 192.5,136.8 192.9,134.9 193.2,132.9 193.6,130.9 193.9,128.9 194.3,126.9 194.7,124.9 195.0,123.0 195.4,121.0 195.7,119.0 196.1,117.0 196.5,115.1 196.8,113.1 197.2,111.1 197.5,109.1 197.9,107.1 198.3,105.2 198.6,103.2 199.0,101.2 199.4,99.2 199.7,97.2 200.1,95.3 200.4,93.3 200.8,91.3 201.2,89.3 201.5,87.3 201.9,85.4 202.3,83.4 202.6,81.4 203.0,79.4 203.4,77.5 203.7,75.5 204.1,73.5 204.5,71.5 204.8,69.5 205.2,67.6 205.6,65.6 205.9,63.6 206.3,61.6 206.7,59.7 207.0,57.7 207.4,55.7 207.8,53.7 208.1,51.8 208.5,49.8 208.8,47.8 209.2,45.8 209.6,43.9 209.9,41.9 210.3,39.9 210.7,37.9 211.0,35.9 211.4,34.0 212.0,32.0 214.0,30.0 215.1,31.9 215.0,33.9 215.0,35.9 214.9,37.9 214.8,40.0 214.8,42.0 214.7,44.0 214.7,46.0 214.6,48.1 214.6,50.1 214.6,52.1 214.5,54.1 214.5,56.1 214.5,58.2 214.5,60.2 214.5,62.2 214.5,64.2 214.5,66.3 214.5,68.3 214.5,70.3 214.5,72.3 214.5,74.3 214.5,76.3 214.5,78.4 214.5,80.4 214.6,82.4 214.6,84.4 214.6,86.4 214.7,88.4 214.7,90.5 214.8,92.5 214.8,94.5 214.9,96.5 214.9,98.5 215.0,100.5 215.0,102.6 215.1,104.6 215.2,106.6 215.3,108.6 215.3,110.6 215.4,112.6 215.5,114.6 215.6,116.6 215.7,118.6 215.8,120.7 215.9,122.7 216.0,124.7 216.1,126.7 216.2,128.7 216.3,130.7 216.4,132.7 216.6,134.7 216.7,136.7 216.8,138.7 216.9,140.8 217.1,142.8 217.2,144.8 217.3,146.8 217.5,148.8 217.6,150.8 217.8,152.8 217.9,154.8 218.1,156.8 218.2,158.8 218.4,160.8 218.6,162.8 218.7,164.8 218.9,166.8 219.1,168.8 219.3,170.8 219.4,172.8 219.6,174.8 219.8,176.8 220.0,178.8 220.2,180.8 220.4,182.8 220.6,184.8 220.8,186.8 221.0,188.8 221.2,190.8 221.4,192.8 221.6,194.8 221.8,196.8 222.0,198.8 222.2,200.8 222.4,202.8 222.6,204.8 222.9,206.8 223.1,208.8 223.3,210.8 223.6,212.8 223.8,214.8 224.0,216.8 224.3,218.8 224.5,220.8 224.7,222.8 225.0,224.8 225.2,226.8 225.5,228.8 225.7,230.8 226.0,232.8 226.2,234.8 226.5,236.8 226.7,238.8 227.0,240.8 227.3,242.8 227.5,244.8 227.8,246.8 228.1,248.8 228.3,250.8 228.6,252.8 228.9,254.7 229.1,256.7 229.4,258.7 229.7,260.7 230.0,262.7 230.3,264.7 230.6,266.7 230.8,268.7 231.1,270.7 231.4,272.7 231.7,274.7 232.0,276.7 232.3,278.7 232.6,280.6 232.9,282.6 233.2,284.6 233.5,286.6 233.8,288.6 234.1,290.6 234.4,292.6 234.7,294.6 235.0,296.6 235.3,298.6 235.6,300.6 235.9,302.5 236.2,304.5 236.6,306.5 236.9,308.5 237.2,310.5 237.5,312.5 237.8,314.5 238.1,316.5 238.5,318.5 238.8,320.4 239.1,322.4 239.4,324.4 239.7,326.4 240.1,328.4 240.4,330.4 240.7,332.4 241.1,334.4 241.4,336.3 241.7,338.3 242.0,340.3 242.4,342.3 242.7,344.3 243.0,346.3 243.4,348.3 243.7,350.3 244.0,352.2 244.4,354.2 244.7,356.2 245.1,358.2 245.4,360.2 245.7,362.2 246.1,364.2 246.4,366.1 246.7,368.1 247.1,370.1 247.4,372.1 247.8,374.1 248.1,376.1 248.4,378.1 248.8,380.0 249.1,382.0 249.5,384.0 249.8,386.0 250.2,388.0 250.5,390.0 250.8,392.0 251.2,393.9 251.5,395.9 251.9,397.9 252.2,399.9 252.6,401.9 252.9,403.9 253.3,405.8 253.6,407.8 253.9,409.8 254.3,411.8 254.6,413.8 255.0,415.8 255.3,417.8 255.7,419.7 256.0,421.7 256.4,423.7 256.7,425.7 257.0,427.7 257.4,429.7 257.7,431.6 258.1,433.6 258.4,435.6 258.8,437.6 259.1,439.6 259.4,441.6 259.8,443.5 260.1,445.5 260.5,447.5 260.8,449.5 261.1,451.5 261.5,453.5 261.8,455.5 262.2,457.4 262.5,459.4 262.8,461.4 263.2,463.4 263.5,465.4 263.8,467.4 264.2,469.3 264.5,471.3 264.8,473.3 265.2,475.3 265.5,477.3 265.8,479.3 266.1,481.2 266.5,483.2 266.8,485.2 267.1,487.2 267.5,489.2 267.8,491.2 268.1,493.2 268.4,495.1 268.7,497.1 269.1,499.1 269.4,501.1 269.7,503.1 270.0,505.1 270.3,507.0 270.6,509.0 271.0,511.0 271.3,513.0 271.6,515.0 271.9,517.0 272.2,519.0 272.5,521.0" fill="none" stroke="#00f" stroke-width="15" stroke-linejoin="round" stroke-linecap="round" />
<line x1="534" y1="32.5" x2="617" y2="32.5" stroke="#000" stroke-width="6"/>
<line x1="534" y1="81.75" x2="617" y2="81.75" stroke="#f00" stroke-width="6"/>
<line x1="534" y1="130.5" x2="617" y2="130.5" stroke="#0f0" stroke-width="6"/>
<line x1="534" y1="179.5" x2="617" y2="179.5" stroke="#00f" stroke-width="6"/>
<rect x="569.8" y="27.3" width="11" height="12.4" fill="#000"/>
<path d="M575.3,72.7 L583,86.4 L567.6,86.4Z" fill="#f00"/>
<path d="M575.3,123.3 L577.1,128.4 L582.4,128.5 L578.2,131.7 L579.7,136.9 L575.3,133.8 L570.9,136.9 L572.4,131.7 L568.2,128.5 L573.5,128.4Z" fill="none" stroke="#0f0" stroke-width="1.6"/>
<path d="M567,174.5 L583.5,174.5 L575.3,189.4Z" fill="#00f"/>
<text transform="translate(624.00,44.10) scale(1.0000,1)" font-family="'Liberation Serif','Times New Roman',serif" font-size="34.90" fill="#000">0.3 mA/cm</text>
<text transform="translate(782.89,27.00) scale(1.0000,1)" font-family="'Liberation Serif','Times New Roman',serif" font-size="20.30" fill="#000">2</text>
<text transform="translate(624.00,93.35) scale(1.0000,1)" font-family="'Liberation Serif','Times New Roman',serif" font-size="34.90" fill="#000">0.5 mA/cm</text>
<text transform="translate(782.89,76.25) scale(1.0000,1)" font-family="'Liberation Serif','Times New Roman',serif" font-size="20.30" fill="#000">2</text>
<text transform="translate(624.00,142.10) scale(1.0000,1)" font-family="'Liberation Serif','Times New Roman',serif" font-size="34.90" fill="#000">0.8 mA/cm</text>
<text transform="translate(782.89,125.00) scale(1.0000,1)" font-family="'Liberation Serif','Times New Roman',serif" font-size="20.30" fill="#000">2</text>
<text transform="translate(622.26,191.10) scale(1.0000,1)" font-family="'Liberation Serif','Times New Roman',serif" font-size="34.90" fill="#000">1.0 mA/cm</text>
<text transform="translate(782.89,174.00) scale(1.0000,1)" font-family="'Liberation Serif','Times New Roman',serif" font-size="20.30" fill="#000">2</text>
<text transform="translate(873.73,561.60) scale(1.0880,1)" font-family="'Liberation Serif','Times New Roman',serif" font-size="33.20" fill="#000">-0.2</text>
<text transform="translate(874.10,471.60) scale(1.0880,1)" font-family="'Liberation Serif','Times New Roman',serif" font-size="33.20" fill="#000">-0.1</text>
<text transform="translate(885.29,381.60) scale(1.0880,1)" font-family="'Liberation Serif','Times New Roman',serif" font-size="33.20" fill="#000">0.0</text>
<text transform="translate(886.02,291.60) scale(1.0880,1)" font-family="'Liberation Serif','Times New Roman',serif" font-size="33.20" fill="#000">0.1</text>
<text transform="translate(886.02,201.60) scale(1.0880,1)" font-family="'Liberation Serif','Times New Roman',serif" font-size="33.20" fill="#000">0.2</text>
<text transform="translate(885.29,111.60) scale(1.0880,1)" font-family="'Liberation Serif','Times New Roman',serif" font-size="33.20" fill="#000">0.3</text>
<text transform="translate(884.57,21.60) scale(1.0880,1)" font-family="'Liberation Serif','Times New Roman',serif" font-size="33.20" fill="#000">0.4</text>
<text transform="translate(994.58,588.70) scale(1.0500,1)" font-family="'Liberation Serif','Times New Roman',serif" font-size="34.00" fill="#000">0</text>
<text transform="translate(1145.47,588.70) scale(1.0500,1)" font-family="'Liberation Serif','Times New Roman',serif" font-size="34.00" fill="#000">5</text>
<text transform="translate(1287.26,588.70) scale(1.0500,1)" font-family="'Liberation Serif','Times New Roman',serif" font-size="34.00" fill="#000">10</text>
<text transform="translate(1438.51,588.70) scale(1.0500,1)" font-family="'Liberation Serif','Times New Roman',serif" font-size="34.00" fill="#000">15</text>
<text transform="translate(1590.65,588.70) scale(1.0500,1)" font-family="'Liberation Serif','Times New Roman',serif" font-size="34.00" fill="#000">20</text>
<text transform="translate(1169.12,641.87) scale(0.9899,1)" font-family="'Liberation Serif','Times New Roman',serif" font-size="49.67" fill="#000">Time (sec)</text>
<text transform="translate(864.80,491.24) rotate(-90) scale(1.0030,1)" font-family="'Liberation Serif','Times New Roman',serif" font-size="41.20">Potential vs Ag/AgCl(Volts)</text>
<text transform="translate(1400.94,301.72) scale(0.9938,1)" font-family="'Liberation Serif','Times New Roman',serif" font-size="59.44" fill="#000">(b) S2</text>
<polyline points="1002.5,505.0 1003.2,503.2 1003.9,501.3 1004.7,499.4 1005.4,497.5 1006.1,495.6 1006.8,493.8 1007.5,491.9 1008.3,490.0 1009.0,488.1 1009.7,486.2 1010.4,484.3 1011.2,482.5 1011.9,480.6 1012.7,478.7 1013.4,476.8 1014.1,475.0 1014.9,473.1 1015.6,471.2 1016.4,469.4 1017.2,467.5 1017.9,465.6 1018.7,463.8 1019.4,461.9 1020.2,460.0 1021.0,458.2 1021.7,456.3 1022.5,454.4 1023.3,452.6 1024.1,450.7 1024.9,448.9 1025.6,447.0 1026.4,445.2 1027.2,443.3 1028.0,441.5 1028.8,439.6 1029.6,437.8 1030.4,435.9 1031.2,434.1 1032.0,432.2 1032.8,430.4 1033.6,428.5 1034.4,426.7 1035.2,424.8 1036.0,423.0 1036.9,421.2 1037.7,419.3 1038.5,417.5 1039.3,415.6 1040.1,413.8 1041.0,412.0 1041.8,410.1 1042.6,408.3 1043.5,406.5 1044.3,404.7 1045.2,402.8 1046.0,401.0 1046.8,399.2 1047.7,397.3 1048.5,395.5 1049.4,393.7 1050.2,391.9 1051.1,390.1 1052.0,388.2 1052.8,386.4 1053.7,384.6 1054.5,382.8 1055.4,381.0 1056.3,379.1 1057.2,377.3 1058.0,375.5 1058.9,373.7 1059.8,371.9 1060.7,370.1 1061.5,368.3 1062.4,366.5 1063.3,364.7 1064.2,362.9 1065.1,361.1 1066.0,359.3 1066.9,357.4 1067.8,355.6 1068.7,353.8 1069.6,352.0 1070.5,350.2 1071.4,348.5 1072.3,346.7 1073.2,344.9 1074.1,343.1 1075.0,341.3 1075.9,339.5 1076.8,337.7 1077.8,335.9 1078.7,334.1 1079.6,332.3 1080.5,330.5 1081.5,328.7 1082.4,327.0 1083.3,325.2 1084.3,323.4 1085.2,321.6 1086.1,319.8 1087.1,318.1 1088.0,316.3 1088.9,314.5 1089.9,312.7 1090.8,310.9 1091.8,309.2 1092.7,307.4 1093.7,305.6 1094.6,303.8 1095.6,302.1 1096.5,300.3 1097.5,298.5 1098.5,296.8 1099.4,295.0 1100.4,293.2 1101.4,291.5 1102.3,289.7 1103.3,287.9 1104.3,286.2 1105.2,284.4 1106.2,282.7 1107.2,280.9 1108.2,279.1 1109.2,277.4 1110.1,275.6 1111.1,273.9 1112.1,272.1 1113.1,270.3 1114.1,268.6 1115.1,266.8 1116.1,265.1 1117.1,263.3 1118.1,261.6 1119.0,259.8 1120.0,258.1 1121.0,256.3 1122.1,254.6 1123.1,252.9 1124.1,251.1 1125.1,249.4 1126.1,247.6 1127.1,245.9 1128.1,244.1 1129.1,242.4 1130.1,240.7 1131.1,238.9 1132.2,237.2 1133.2,235.5 1134.2,233.7 1135.2,232.0 1136.2,230.2 1137.3,228.5 1138.3,226.8 1139.3,225.1 1140.4,223.3 1141.4,221.6 1142.4,219.9 1143.5,218.1 1144.5,216.4 1145.5,214.7 1146.6,213.0 1147.6,211.2 1148.7,209.5 1149.7,207.8 1150.7,206.1 1151.8,204.3 1152.8,202.6 1153.9,200.9 1154.9,199.2 1156.0,197.5 1157.0,195.8 1158.1,194.0 1159.2,192.3 1160.2,190.6 1161.3,188.9 1162.3,187.2 1163.4,185.5 1164.5,183.8 1165.5,182.0 1166.6,180.3 1167.6,178.6 1168.7,176.9 1169.8,175.2 1170.9,173.5 1171.9,171.8 1173.0,170.1 1174.1,168.4 1175.1,166.7 1176.2,165.0 1177.3,163.3 1178.4,161.6 1179.5,159.9 1180.5,158.2 1181.6,156.5 1182.7,154.8 1183.8,153.1 1184.9,151.4 1186.0,149.7 1187.1,148.0 1188.1,146.3 1189.2,144.6 1190.3,142.9 1191.4,141.2 1192.5,139.6 1193.6,137.9 1194.7,136.2 1195.8,134.5 1196.9,132.8 1198.0,131.1 1199.1,129.4 1200.2,127.7 1201.3,126.1 1202.4,124.4 1203.5,122.7 1204.6,121.0 1205.7,119.3 1206.8,117.7 1207.9,116.0 1209.1,114.3 1210.2,112.6 1211.3,110.9 1212.4,109.3 1213.5,107.6 1214.6,105.9 1215.7,104.2 1216.9,102.6 1218.0,100.9 1219.1,99.2 1220.2,97.5 1221.3,95.9 1222.5,94.2 1223.6,92.5 1224.7,90.9 1225.8,89.2 1227.0,87.5 1228.1,85.9 1229.2,84.2 1230.3,82.5 1231.5,80.9 1232.6,79.2 1233.7,77.5 1234.9,75.9 1236.0,74.2 1237.1,72.5 1238.3,70.9 1239.4,69.2 1240.5,67.6 1241.7,65.9 1242.8,64.2 1243.9,62.6 1245.1,60.9 1246.2,59.3 1247.3,57.6 1248.5,56.0 1249.6,54.3 1250.8,52.7 1251.9,51.0 1253.1,49.4 1254.2,47.7 1255.3,46.1 1256.0,44.0 1256.8,41.5 1255.9,44.0 1256.6,45.9 1257.3,47.8 1258.0,49.7 1258.6,51.6 1259.3,53.4 1260.0,55.3 1260.7,57.2 1261.4,59.1 1262.1,61.0 1262.8,62.9 1263.5,64.7 1264.3,66.6 1265.0,68.5 1265.7,70.4 1266.4,72.3 1267.1,74.1 1267.8,76.0 1268.5,77.9 1269.2,79.8 1269.9,81.6 1270.6,83.5 1271.4,85.4 1272.1,87.3 1272.8,89.2 1273.5,91.0 1274.2,92.9 1275.0,94.8 1275.7,96.7 1276.4,98.5 1277.1,100.4 1277.9,102.3 1278.6,104.2 1279.3,106.0 1280.0,107.9 1280.8,109.8 1281.5,111.7 1282.2,113.5 1283.0,115.4 1283.7,117.3 1284.5,119.2 1285.2,121.0 1285.9,122.9 1286.7,124.8 1287.4,126.7 1288.2,128.5 1288.9,130.4 1289.7,132.3 1290.4,134.1 1291.2,136.0 1291.9,137.9 1292.7,139.7 1293.4,141.6 1294.2,143.5 1294.9,145.3 1295.7,147.2 1296.5,149.1 1297.2,150.9 1298.0,152.8 1298.8,154.7 1299.5,156.5 1300.3,158.4 1301.1,160.3 1301.8,162.1 1302.6,164.0 1303.4,165.8 1304.2,167.7 1304.9,169.6 1305.7,171.4 1306.5,173.3 1307.3,175.1 1308.1,177.0 1308.9,178.8 1309.7,180.7 1310.4,182.6 1311.2,184.4 1312.0,186.3 1312.8,188.1 1313.6,190.0 1314.4,191.8 1315.2,193.7 1316.0,195.5 1316.8,197.4 1317.6,199.2 1318.4,201.1 1319.2,202.9 1320.1,204.8 1320.9,206.6 1321.7,208.5 1322.5,210.3 1323.3,212.1 1324.1,214.0 1325.0,215.8 1325.8,217.7 1326.6,219.5 1327.4,221.4 1328.3,223.2 1329.1,225.0 1329.9,226.9 1330.8,228.7 1331.6,230.5 1332.4,232.4 1333.3,234.2 1334.1,236.0 1335.0,237.9 1335.8,239.7 1336.6,241.5 1337.5,243.4 1338.3,245.2 1339.2,247.0 1340.1,248.8 1340.9,250.7 1341.8,252.5 1342.6,254.3 1343.5,256.1 1344.4,257.9 1345.2,259.8 1346.1,261.6 1347.0,263.4 1347.8,265.2 1348.7,267.0 1349.6,268.9 1350.5,270.7 1351.4,272.5 1352.2,274.3 1353.1,276.1 1354.0,277.9 1354.9,279.7 1355.8,281.5 1356.7,283.3 1357.6,285.1 1358.5,286.9 1359.4,288.7 1360.3,290.5 1361.2,292.3 1362.1,294.1 1363.0,295.9 1363.9,297.7 1364.8,299.5 1365.8,301.3 1366.7,303.1 1367.6,304.9 1368.5,306.7 1369.5,308.5 1370.4,310.3 1371.3,312.1 1372.2,313.8 1373.2,315.6 1374.1,317.4 1375.1,319.2 1376.0,321.0 1376.9,322.8 1377.9,324.5 1378.8,326.3 1379.8,328.1 1380.7,329.9 1381.7,331.6 1382.7,333.4 1383.6,335.2 1384.6,336.9 1385.5,338.7 1386.5,340.5 1387.5,342.2 1388.5,344.0 1389.4,345.8 1390.4,347.5 1391.4,349.3 1392.4,351.0 1393.4,352.8 1394.3,354.5 1395.3,356.3 1396.3,358.0 1397.3,359.8 1398.3,361.5 1399.3,363.3 1400.3,365.0 1401.3,366.8 1402.3,368.5 1403.4,370.3 1404.4,372.0 1405.4,373.7 1406.4,375.5 1407.4,377.2 1408.5,378.9 1409.5,380.7 1410.5,382.4 1411.5,384.1 1412.6,385.9 1413.6,387.6 1414.7,389.3 1415.7,391.0 1416.7,392.7 1417.8,394.5 1418.8,396.2 1419.9,397.9 1421.0,399.6 1422.0,401.3 1423.1,403.0 1424.1,404.7 1425.2,406.4 1426.3,408.1 1427.3,409.8 1428.4,411.5 1429.5,413.2 1430.6,414.9 1431.7,416.6 1432.8,418.3 1433.8,420.0 1434.9,421.7 1436.0,423.4 1437.1,425.1 1438.2,426.8 1439.3,428.5 1440.4,430.1 1441.6,431.8 1442.7,433.5 1443.8,435.2 1444.9,436.8 1446.0,438.5 1447.2,440.2 1448.3,441.9 1449.4,443.5 1450.5,445.2 1451.7,446.9 1452.8,448.5 1454.0,450.2 1455.1,451.8 1456.3,453.5 1457.4,455.1 1458.6,456.8 1459.7,458.4 1460.9,460.1 1462.1,461.7 1463.2,463.4 1464.4,465.0 1465.6,466.6 1466.7,468.3 1467.9,469.9 1469.1,471.6 1470.3,473.2 1471.5,474.8 1472.7,476.4 1473.9,478.1 1475.1,479.7 1476.3,481.3 1477.5,482.9 1478.7,484.5 1479.9,486.2 1481.1,487.8 1482.3,489.4 1483.6,491.0 1484.8,492.6 1486.0,494.2 1487.2,495.8 1488.5,497.4 1489.7,499.0 1491.0,500.6 1492.2,502.2 1493.4,503.8 1494.7,505.4 1496.0,506.9 1497.9,507.9" fill="none" stroke="#000" stroke-width="13" stroke-linejoin="round" stroke-linecap="round" />
<polyline points="1002.5,505.0 1003.2,503.2 1003.9,501.3 1004.7,499.4 1005.4,497.5 1006.1,495.6 1006.8,493.8 1007.5,491.9 1008.3,490.0 1009.0,488.1 1009.7,486.2 1010.4,484.3 1011.2,482.5 1011.9,480.6 1012.7,478.7 1013.4,476.8 1014.1,475.0 1014.9,473.1 1015.6,471.2 1016.4,469.4 1017.2,467.5 1017.9,465.6 1018.7,463.8 1019.4,461.9 1020.2,460.0 1021.0,458.2 1021.7,456.3 1022.5,454.4 1023.3,452.6 1024.1,450.7 1024.9,448.9 1025.6,447.0 1026.4,445.2 1027.2,443.3 1028.0,441.5 1028.8,439.6 1029.6,437.8 1030.4,435.9 1031.2,434.1 1032.0,432.2 1032.8,430.4 1033.6,428.5 1034.4,426.7 1035.2,424.8 1036.0,423.0 1036.9,421.2 1037.7,419.3 1038.5,417.5 1039.3,415.6 1040.1,413.8 1041.0,412.0 1041.8,410.1 1042.6,408.3 1043.5,406.5 1044.3,404.7 1045.2,402.8 1046.0,401.0 1046.8,399.2 1047.7,397.3 1048.5,395.5 1049.4,393.7 1050.2,391.9 1051.1,390.1 1052.0,388.2 1052.8,386.4 1053.7,384.6 1054.5,382.8 1055.4,381.0 1056.3,379.1 1057.2,377.3 1058.0,375.5 1058.9,373.7 1059.8,371.9 1060.7,370.1 1061.5,368.3 1062.4,366.5 1063.3,364.7 1064.2,362.9 1065.1,361.1 1066.0,359.3 1066.9,357.4 1067.8,355.6 1068.7,353.8 1069.6,352.0 1070.5,350.2 1071.4,348.5 1072.3,346.7 1073.2,344.9 1074.1,343.1 1075.0,341.3 1075.9,339.5 1076.8,337.7 1077.8,335.9 1078.7,334.1 1079.6,332.3 1080.5,330.5 1081.5,328.7 1082.4,327.0 1083.3,325.2 1084.3,323.4 1085.2,321.6 1086.1,319.8 1087.1,318.1 1088.0,316.3 1088.9,314.5 1089.9,312.7 1090.8,310.9 1091.8,309.2 1092.7,307.4 1093.7,305.6 1094.6,303.8 1095.6,302.1 1096.5,300.3 1097.5,298.5 1098.5,296.8 1099.4,295.0 1100.4,293.2 1101.4,291.5 1102.3,289.7 1103.3,287.9 1104.3,286.2 1105.2,284.4 1106.2,282.7 1107.2,280.9 1108.2,279.1 1109.2,277.4 1110.1,275.6 1111.1,273.9 1112.1,272.1 1113.1,270.3 1114.1,268.6 1115.1,266.8 1116.1,265.1 1117.1,263.3 1118.1,261.6 1119.0,259.8 1120.0,258.1 1121.0,256.3 1122.1,254.6 1123.1,252.9 1124.1,251.1 1125.1,249.4 1126.1,247.6 1127.1,245.9 1128.1,244.1 1129.1,242.4 1130.1,240.7 1131.1,238.9 1132.2,237.2 1133.2,235.5 1134.2,233.7 1135.2,232.0 1136.2,230.2 1137.3,228.5 1138.3,226.8 1139.3,225.1 1140.4,223.3 1141.4,221.6 1142.4,219.9 1143.5,218.1 1144.5,216.4 1145.5,214.7 1146.6,213.0 1147.6,211.2 1148.7,209.5 1149.7,207.8 1150.7,206.1 1151.8,204.3 1152.8,202.6 1153.9,200.9 1154.9,199.2 1156.0,197.5 1157.0,195.8 1158.1,194.0 1159.2,192.3 1160.2,190.6 1161.3,188.9 1162.3,187.2 1163.4,185.5 1164.5,183.8 1165.5,182.0 1166.6,180.3 1167.6,178.6 1168.7,176.9 1169.8,175.2 1170.9,173.5 1171.9,171.8 1173.0,170.1 1174.1,168.4 1175.1,166.7 1176.2,165.0 1177.3,163.3 1178.4,161.6 1179.5,159.9 1180.5,158.2 1181.6,156.5 1182.7,154.8 1183.8,153.1 1184.9,151.4 1186.0,149.7 1187.1,148.0 1188.1,146.3 1189.2,144.6 1190.3,142.9 1191.4,141.2 1192.5,139.6 1193.6,137.9 1194.7,136.2 1195.8,134.5 1196.9,132.8 1198.0,131.1 1199.1,129.4 1200.2,127.7 1201.3,126.1 1202.4,124.4 1203.5,122.7 1204.6,121.0 1205.7,119.3 1206.8,117.7 1207.9,116.0 1209.1,114.3 1210.2,112.6 1211.3,110.9 1212.4,109.3 1213.5,107.6 1214.6,105.9 1215.7,104.2 1216.9,102.6 1218.0,100.9 1219.1,99.2 1220.2,97.5 1221.3,95.9 1222.5,94.2 1223.6,92.5 1224.7,90.9 1225.8,89.2 1227.0,87.5 1228.1,85.9 1229.2,84.2 1230.3,82.5 1231.5,80.9 1232.6,79.2 1233.7,77.5 1234.9,75.9 1236.0,74.2 1237.1,72.5 1238.3,70.9 1239.4,69.2 1240.5,67.6 1241.7,65.9 1242.8,64.2 1243.9,62.6 1245.1,60.9 1246.2,59.3 1247.3,57.6 1248.5,56.0 1249.6,54.3 1250.8,52.7 1251.9,51.0 1253.1,49.4 1254.2,47.7 1255.3,46.1 1256.0,44.0 1256.8,41.5 1255.9,44.0 1256.6,45.9 1257.3,47.8 1258.0,49.7 1258.6,51.6 1259.3,53.4 1260.0,55.3 1260.7,57.2 1261.4,59.1 1262.1,61.0 1262.8,62.9 1263.5,64.7 1264.3,66.6 1265.0,68.5 1265.7,70.4 1266.4,72.3 1267.1,74.1 1267.8,76.0 1268.5,77.9 1269.2,79.8 1269.9,81.6 1270.6,83.5 1271.4,85.4 1272.1,87.3 1272.8,89.2 1273.5,91.0 1274.2,92.9 1275.0,94.8 1275.7,96.7 1276.4,98.5 1277.1,100.4 1277.9,102.3 1278.6,104.2 1279.3,106.0 1280.0,107.9 1280.8,109.8 1281.5,111.7 1282.2,113.5 1283.0,115.4 1283.7,117.3 1284.5,119.2 1285.2,121.0 1285.9,122.9 1286.7,124.8 1287.4,126.7 1288.2,128.5 1288.9,130.4 1289.7,132.3 1290.4,134.1 1291.2,136.0 1291.9,137.9 1292.7,139.7 1293.4,141.6 1294.2,143.5 1294.9,145.3 1295.7,147.2 1296.5,149.1 1297.2,150.9 1298.0,152.8 1298.8,154.7 1299.5,156.5 1300.3,158.4 1301.1,160.3 1301.8,162.1 1302.6,164.0 1303.4,165.8 1304.2,167.7 1304.9,169.6 1305.7,171.4 1306.5,173.3 1307.3,175.1 1308.1,177.0 1308.9,178.8 1309.7,180.7 1310.4,182.6 1311.2,184.4 1312.0,186.3 1312.8,188.1 1313.6,190.0 1314.4,191.8 1315.2,193.7 1316.0,195.5 1316.8,197.4 1317.6,199.2 1318.4,201.1 1319.2,202.9 1320.1,204.8 1320.9,206.6 1321.7,208.5 1322.5,210.3 1323.3,212.1 1324.1,214.0 1325.0,215.8 1325.8,217.7 1326.6,219.5 1327.4,221.4 1328.3,223.2 1329.1,225.0 1329.9,226.9 1330.8,228.7 1331.6,230.5 1332.4,232.4 1333.3,234.2 1334.1,236.0 1335.0,237.9 1335.8,239.7 1336.6,241.5 1337.5,243.4 1338.3,245.2 1339.2,247.0 1340.1,248.8 1340.9,250.7 1341.8,252.5 1342.6,254.3 1343.5,256.1 1344.4,257.9 1345.2,259.8 1346.1,261.6 1347.0,263.4 1347.8,265.2 1348.7,267.0 1349.6,268.9 1350.5,270.7 1351.4,272.5 1352.2,274.3 1353.1,276.1 1354.0,277.9 1354.9,279.7 1355.8,281.5 1356.7,283.3 1357.6,285.1 1358.5,286.9 1359.4,288.7 1360.3,290.5 1361.2,292.3 1362.1,294.1 1363.0,295.9 1363.9,297.7 1364.8,299.5 1365.8,301.3 1366.7,303.1 1367.6,304.9 1368.5,306.7 1369.5,308.5 1370.4,310.3 1371.3,312.1 1372.2,313.8 1373.2,315.6 1374.1,317.4 1375.1,319.2 1376.0,321.0 1376.9,322.8 1377.9,324.5 1378.8,326.3 1379.8,328.1 1380.7,329.9 1381.7,331.6 1382.7,333.4 1383.6,335.2 1384.6,336.9 1385.5,338.7 1386.5,340.5 1387.5,342.2 1388.5,344.0 1389.4,345.8 1390.4,347.5 1391.4,349.3 1392.4,351.0 1393.4,352.8 1394.3,354.5 1395.3,356.3 1396.3,358.0 1397.3,359.8 1398.3,361.5 1399.3,363.3 1400.3,365.0 1401.3,366.8 1402.3,368.5 1403.4,370.3 1404.4,372.0 1405.4,373.7 1406.4,375.5 1407.4,377.2 1408.5,378.9 1409.5,380.7 1410.5,382.4 1411.5,384.1 1412.6,385.9 1413.6,387.6 1414.7,389.3 1415.7,391.0 1416.7,392.7 1417.8,394.5 1418.8,396.2 1419.9,397.9 1421.0,399.6 1422.0,401.3 1423.1,403.0 1424.1,404.7 1425.2,406.4 1426.3,408.1 1427.3,409.8 1428.4,411.5 1429.5,413.2 1430.6,414.9 1431.7,416.6 1432.8,418.3 1433.8,420.0 1434.9,421.7 1436.0,423.4 1437.1,425.1 1438.2,426.8 1439.3,428.5 1440.4,430.1 1441.6,431.8 1442.7,433.5 1443.8,435.2 1444.9,436.8 1446.0,438.5 1447.2,440.2 1448.3,441.9 1449.4,443.5 1450.5,445.2 1451.7,446.9 1452.8,448.5 1454.0,450.2 1455.1,451.8 1456.3,453.5 1457.4,455.1 1458.6,456.8 1459.7,458.4 1460.9,460.1 1462.1,461.7 1463.2,463.4 1464.4,465.0 1465.6,466.6 1466.7,468.3 1467.9,469.9 1469.1,471.6 1470.3,473.2 1471.5,474.8 1472.7,476.4 1473.9,478.1 1475.1,479.7 1476.3,481.3 1477.5,482.9 1478.7,484.5 1479.9,486.2 1481.1,487.8 1482.3,489.4 1483.6,491.0 1484.8,492.6 1486.0,494.2 1487.2,495.8 1488.5,497.4 1489.7,499.0 1491.0,500.6 1492.2,502.2 1493.4,503.8 1494.7,505.4 1496.0,506.9 1497.9,507.9" fill="none" stroke="#e2e2e2" stroke-width="3.6" stroke-linejoin="round" stroke-linecap="round" stroke-dasharray="0.01 6.20"/>
<polyline points="1001.0,505.0 1001.8,503.1 1002.4,501.2 1002.9,499.3 1003.5,497.3 1004.0,495.4 1004.6,493.5 1005.2,491.5 1005.7,489.6 1006.3,487.7 1006.8,485.7 1007.4,483.8 1007.9,481.9 1008.5,479.9 1009.1,478.0 1009.6,476.1 1010.2,474.1 1010.7,472.2 1011.3,470.3 1011.8,468.3 1012.4,466.4 1012.9,464.4 1013.5,462.5 1014.0,460.6 1014.6,458.6 1015.1,456.7 1015.7,454.8 1016.2,452.8 1016.8,450.9 1017.3,449.0 1017.9,447.0 1018.4,445.1 1019.0,443.1 1019.5,441.2 1020.1,439.3 1020.6,437.3 1021.2,435.4 1021.7,433.5 1022.3,431.5 1022.8,429.6 1023.4,427.6 1023.9,425.7 1024.5,423.8 1025.0,421.8 1025.6,419.9 1026.1,418.0 1026.7,416.0 1027.2,414.1 1027.8,412.1 1028.3,410.2 1028.9,408.3 1029.4,406.3 1029.9,404.4 1030.5,402.5 1031.0,400.5 1031.6,398.6 1032.1,396.6 1032.7,394.7 1033.2,392.8 1033.8,390.8 1034.3,388.9 1034.9,387.0 1035.4,385.0 1036.0,383.1 1036.5,381.1 1037.1,379.2 1037.6,377.3 1038.1,375.3 1038.7,373.4 1039.2,371.5 1039.8,369.5 1040.3,367.6 1040.9,365.6 1041.4,363.7 1042.0,361.8 1042.5,359.8 1043.1,357.9 1043.6,356.0 1044.2,354.0 1044.7,352.1 1045.3,350.1 1045.8,348.2 1046.4,346.3 1046.9,344.3 1047.5,342.4 1048.1,340.5 1048.6,338.5 1049.2,336.6 1049.7,334.7 1050.3,332.7 1050.8,330.8 1051.4,328.9 1051.9,326.9 1052.5,325.0 1053.0,323.0 1053.6,321.1 1054.2,319.2 1054.7,317.2 1055.3,315.3 1055.8,313.4 1056.4,311.4 1057.0,309.5 1057.5,307.6 1058.1,305.6 1058.6,303.7 1059.2,301.8 1059.8,299.8 1060.3,297.9 1060.9,296.0 1061.5,294.0 1062.0,292.1 1062.6,290.2 1063.2,288.3 1063.7,286.3 1064.3,284.4 1064.9,282.5 1065.4,280.5 1066.0,278.6 1066.6,276.7 1067.2,274.7 1067.7,272.8 1068.3,270.9 1068.9,269.0 1069.5,267.0 1070.0,265.1 1070.6,263.2 1071.2,261.2 1071.8,259.3 1072.3,257.4 1072.9,255.5 1073.5,253.5 1074.1,251.6 1074.7,249.7 1075.3,247.8 1075.8,245.8 1076.4,243.9 1077.0,242.0 1077.6,240.1 1078.2,238.1 1078.8,236.2 1079.4,234.3 1080.0,232.4 1080.6,230.4 1081.2,228.5 1081.8,226.6 1082.4,224.7 1083.0,222.8 1083.6,220.8 1084.2,218.9 1084.8,217.0 1085.4,215.1 1086.0,213.1 1086.6,211.2 1087.2,209.3 1087.8,207.4 1088.4,205.5 1089.0,203.6 1089.6,201.6 1090.2,199.7 1090.8,197.8 1091.4,195.9 1092.1,194.0 1092.7,192.1 1093.3,190.1 1093.9,188.2 1094.5,186.3 1095.2,184.4 1095.8,182.5 1096.4,180.6 1097.0,178.7 1097.7,176.8 1098.3,174.8 1098.9,172.9 1099.6,171.0 1100.2,169.1 1100.8,167.2 1101.5,165.3 1102.1,163.4 1102.7,161.5 1103.4,159.6 1104.0,157.7 1104.7,155.7 1105.3,153.8 1106.0,151.9 1106.6,150.0 1107.3,148.1 1107.9,146.2 1108.6,144.3 1109.2,142.4 1109.9,140.5 1110.5,138.6 1111.2,136.7 1111.9,134.8 1112.5,132.9 1113.2,131.0 1113.9,129.1 1114.5,127.2 1115.2,125.3 1115.9,123.4 1116.5,121.5 1117.2,119.6 1117.9,117.7 1118.6,115.8 1119.3,113.9 1119.9,112.0 1120.6,110.1 1121.3,108.2 1122.0,106.4 1122.7,104.5 1123.4,102.6 1124.1,100.7 1124.8,98.8 1125.5,96.9 1126.2,95.0 1126.9,93.1 1127.6,91.2 1128.3,89.3 1129.0,87.5 1129.7,85.6 1130.4,83.7 1131.1,81.8 1131.8,79.9 1132.5,78.0 1133.3,76.1 1134.0,74.3 1134.7,72.4 1135.4,70.5 1136.1,68.6 1136.9,66.7 1137.6,64.9 1138.3,63.0 1139.1,61.1 1139.8,59.2 1140.6,57.4 1141.3,55.5 1142.0,53.6 1142.8,51.7 1143.5,49.9 1144.3,48.0 1145.0,46.1 1145.0,44.0" fill="none" stroke="#f00" stroke-width="9" stroke-linejoin="round" stroke-linecap="round" />
<path d="M1001.0,498.0 L1007.5,509.7 L994.5,509.7Z M1002.8,492.8 L1009.3,504.5 L996.3,504.5Z M1004.3,487.5 L1010.8,499.2 L997.8,499.2Z M1005.8,482.2 L1012.3,493.9 L999.3,493.9Z M1007.3,476.9 L1013.8,488.6 L1000.8,488.6Z M1008.9,471.6 L1015.4,483.3 L1002.4,483.3Z M1010.4,466.4 L1016.9,478.1 L1003.9,478.1Z M1011.9,461.1 L1018.4,472.8 L1005.4,472.8Z M1013.4,455.8 L1019.9,467.5 L1006.9,467.5Z M1014.9,450.5 L1021.4,462.2 L1008.4,462.2Z M1016.4,445.2 L1022.9,456.9 L1009.9,456.9Z M1017.9,439.9 L1024.4,451.6 L1011.4,451.6Z M1019.4,434.6 L1025.9,446.3 L1012.9,446.3Z M1020.9,429.3 L1027.4,441.0 L1014.4,441.0Z M1022.4,424.0 L1028.9,435.7 L1015.9,435.7Z M1023.9,418.7 L1030.4,430.4 L1017.4,430.4Z M1025.4,413.4 L1031.9,425.1 L1018.9,425.1Z M1026.9,408.2 L1033.4,419.9 L1020.4,419.9Z M1028.4,402.9 L1034.9,414.6 L1021.9,414.6Z M1029.9,397.6 L1036.4,409.3 L1023.4,409.3Z M1031.4,392.3 L1037.9,404.0 L1024.9,404.0Z M1032.9,387.0 L1039.4,398.7 L1026.4,398.7Z M1034.4,381.7 L1040.9,393.4 L1027.9,393.4Z M1035.9,376.4 L1042.4,388.1 L1029.4,388.1Z M1037.4,371.1 L1043.9,382.8 L1030.9,382.8Z M1038.9,365.8 L1045.4,377.5 L1032.4,377.5Z M1040.4,360.5 L1046.9,372.2 L1033.9,372.2Z M1041.9,355.2 L1048.4,366.9 L1035.4,366.9Z M1043.4,349.9 L1049.9,361.6 L1036.9,361.6Z M1044.9,344.6 L1051.4,356.3 L1038.4,356.3Z M1046.4,339.4 L1052.9,351.1 L1039.9,351.1Z M1047.9,334.1 L1054.4,345.8 L1041.4,345.8Z M1049.4,328.8 L1055.9,340.5 L1042.9,340.5Z M1050.9,323.5 L1057.4,335.2 L1044.4,335.2Z M1052.4,318.2 L1058.9,329.9 L1045.9,329.9Z M1053.9,312.9 L1060.4,324.6 L1047.4,324.6Z M1055.5,307.6 L1062.0,319.3 L1049.0,319.3Z M1057.0,302.4 L1063.5,314.1 L1050.5,314.1Z M1058.5,297.1 L1065.0,308.8 L1052.0,308.8Z M1060.1,291.8 L1066.6,303.5 L1053.6,303.5Z M1061.6,286.5 L1068.1,298.2 L1055.1,298.2Z M1063.2,281.2 L1069.7,292.9 L1056.7,292.9Z M1064.7,276.0 L1071.2,287.7 L1058.2,287.7Z M1066.3,270.7 L1072.8,282.4 L1059.8,282.4Z M1067.8,265.4 L1074.3,277.1 L1061.3,277.1Z M1069.4,260.1 L1075.9,271.8 L1062.9,271.8Z M1071.0,254.9 L1077.5,266.6 L1064.5,266.6Z M1072.6,249.6 L1079.1,261.3 L1066.1,261.3Z M1074.2,244.3 L1080.7,256.0 L1067.7,256.0Z M1075.8,239.1 L1082.3,250.8 L1069.3,250.8Z M1077.4,233.8 L1083.9,245.5 L1070.9,245.5Z M1079.0,228.6 L1085.5,240.3 L1072.5,240.3Z M1080.6,223.3 L1087.1,235.0 L1074.1,235.0Z M1082.2,218.0 L1088.7,229.7 L1075.7,229.7Z M1083.9,212.8 L1090.4,224.5 L1077.4,224.5Z M1085.5,207.6 L1092.0,219.3 L1079.0,219.3Z M1087.2,202.3 L1093.7,214.0 L1080.7,214.0Z M1088.8,197.1 L1095.3,208.8 L1082.3,208.8Z M1090.5,191.8 L1097.0,203.5 L1084.0,203.5Z M1092.2,186.6 L1098.7,198.3 L1085.7,198.3Z M1093.9,181.4 L1100.4,193.1 L1087.4,193.1Z M1095.6,176.1 L1102.1,187.8 L1089.1,187.8Z M1097.3,170.9 L1103.8,182.6 L1090.8,182.6Z M1099.0,165.7 L1105.5,177.4 L1092.5,177.4Z M1100.7,160.5 L1107.2,172.2 L1094.2,172.2Z M1102.5,155.2 L1109.0,166.9 L1096.0,166.9Z M1104.2,150.0 L1110.7,161.7 L1097.7,161.7Z M1106.0,144.8 L1112.5,156.5 L1099.5,156.5Z M1107.8,139.6 L1114.3,151.3 L1101.3,151.3Z M1109.6,134.4 L1116.1,146.1 L1103.1,146.1Z M1111.4,129.2 L1117.9,140.9 L1104.9,140.9Z M1113.2,124.0 L1119.7,135.7 L1106.7,135.7Z M1115.0,118.8 L1121.5,130.5 L1108.5,130.5Z M1116.8,113.6 L1123.3,125.3 L1110.3,125.3Z M1118.7,108.5 L1125.2,120.2 L1112.2,120.2Z M1120.6,103.3 L1127.1,115.0 L1114.1,115.0Z M1122.4,98.1 L1128.9,109.8 L1115.9,109.8Z M1124.3,93.0 L1130.8,104.7 L1117.8,104.7Z M1126.2,87.8 L1132.7,99.5 L1119.7,99.5Z M1128.1,82.6 L1134.6,94.3 L1121.6,94.3Z M1130.1,77.5 L1136.6,89.2 L1123.6,89.2Z M1132.0,72.3 L1138.5,84.0 L1125.5,84.0Z M1134.0,67.2 L1140.5,78.9 L1127.5,78.9Z M1136.0,62.1 L1142.5,73.8 L1129.5,73.8Z M1138.0,57.0 L1144.5,68.7 L1131.5,68.7Z M1140.0,51.8 L1146.5,63.5 L1133.5,63.5Z M1142.0,46.7 L1148.5,58.4 L1135.5,58.4Z M1144.0,41.6 L1150.5,53.3 L1137.5,53.3Z" fill="#f00"/>
<polyline points="1146.0,44.0 1146.1,46.1 1146.5,48.1 1146.8,50.0 1147.2,52.0 1147.5,54.0 1147.9,56.0 1148.2,58.0 1148.6,59.9 1148.9,61.9 1149.3,63.9 1149.7,65.9 1150.0,67.8 1150.4,69.8 1150.7,71.8 1151.1,73.8 1151.5,75.8 1151.9,77.7 1152.2,79.7 1152.6,81.7 1153.0,83.7 1153.4,85.6 1153.7,87.6 1154.1,89.6 1154.5,91.6 1154.9,93.5 1155.3,95.5 1155.7,97.5 1156.1,99.5 1156.5,101.4 1156.9,103.4 1157.3,105.4 1157.7,107.3 1158.1,109.3 1158.5,111.3 1158.9,113.3 1159.3,115.2 1159.7,117.2 1160.1,119.2 1160.5,121.1 1160.9,123.1 1161.3,125.1 1161.8,127.0 1162.2,129.0 1162.6,131.0 1163.0,132.9 1163.4,134.9 1163.9,136.9 1164.3,138.8 1164.7,140.8 1165.2,142.8 1165.6,144.7 1166.0,146.7 1166.5,148.7 1166.9,150.6 1167.4,152.6 1167.8,154.6 1168.2,156.5 1168.7,158.5 1169.1,160.4 1169.6,162.4 1170.0,164.4 1170.5,166.3 1171.0,168.3 1171.4,170.2 1171.9,172.2 1172.3,174.2 1172.8,176.1 1173.3,178.1 1173.7,180.0 1174.2,182.0 1174.7,184.0 1175.1,185.9 1175.6,187.9 1176.1,189.8 1176.6,191.8 1177.0,193.7 1177.5,195.7 1178.0,197.6 1178.5,199.6 1179.0,201.6 1179.5,203.5 1180.0,205.5 1180.5,207.4 1181.0,209.4 1181.4,211.3 1181.9,213.3 1182.4,215.2 1182.9,217.2 1183.4,219.1 1184.0,221.1 1184.5,223.0 1185.0,225.0 1185.5,226.9 1186.0,228.9 1186.5,230.8 1187.0,232.8 1187.5,234.7 1188.1,236.6 1188.6,238.6 1189.1,240.5 1189.6,242.5 1190.1,244.4 1190.7,246.4 1191.2,248.3 1191.7,250.2 1192.3,252.2 1192.8,254.1 1193.3,256.1 1193.9,258.0 1194.4,260.0 1195.0,261.9 1195.5,263.8 1196.0,265.8 1196.6,267.7 1197.1,269.6 1197.7,271.6 1198.2,273.5 1198.8,275.5 1199.4,277.4 1199.9,279.3 1200.5,281.3 1201.0,283.2 1201.6,285.1 1202.2,287.1 1202.7,289.0 1203.3,290.9 1203.9,292.9 1204.4,294.8 1205.0,296.7 1205.6,298.6 1206.2,300.6 1206.7,302.5 1207.3,304.4 1207.9,306.4 1208.5,308.3 1209.1,310.2 1209.7,312.1 1210.2,314.1 1210.8,316.0 1211.4,317.9 1212.0,319.8 1212.6,321.8 1213.2,323.7 1213.8,325.6 1214.4,327.5 1215.0,329.5 1215.6,331.4 1216.2,333.3 1216.8,335.2 1217.4,337.1 1218.0,339.1 1218.7,341.0 1219.3,342.9 1219.9,344.8 1220.5,346.7 1221.1,348.6 1221.7,350.6 1222.4,352.5 1223.0,354.4 1223.6,356.3 1224.3,358.2 1224.9,360.1 1225.5,362.0 1226.1,363.9 1226.8,365.9 1227.4,367.8 1228.1,369.7 1228.7,371.6 1229.3,373.5 1230.0,375.4 1230.6,377.3 1231.3,379.2 1231.9,381.1 1232.6,383.0 1233.2,384.9 1233.9,386.8 1234.5,388.7 1235.2,390.6 1235.8,392.5 1236.5,394.5 1237.2,396.4 1237.8,398.3 1238.5,400.2 1239.2,402.1 1239.8,404.0 1240.5,405.8 1241.2,407.7 1241.8,409.6 1242.5,411.5 1243.2,413.4 1243.9,415.3 1244.5,417.2 1245.2,419.1 1245.9,421.0 1246.6,422.9 1247.3,424.8 1248.0,426.7 1248.7,428.6 1249.3,430.5 1250.0,432.4 1250.7,434.2 1251.4,436.1 1252.1,438.0 1252.8,439.9 1253.5,441.8 1254.2,443.7 1254.9,445.6 1255.6,447.5 1256.3,449.3 1257.1,451.2 1257.8,453.1 1258.5,455.0 1259.2,456.9 1259.9,458.7 1260.6,460.6 1261.3,462.5 1262.1,464.4 1262.8,466.3 1263.5,468.1 1264.2,470.0 1265.0,471.9 1265.7,473.8 1266.4,475.6 1267.2,477.5 1267.9,479.4 1268.6,481.3 1269.4,483.1 1270.1,485.0 1270.8,486.9 1271.6,488.7 1272.3,490.6 1273.1,492.5 1273.8,494.3 1274.6,496.2 1275.3,498.1 1276.1,499.9 1276.8,501.8 1277.6,503.7 1278.3,505.5 1279.1,507.4 1279.8,509.2 1281.0,511.0" fill="none" stroke="#f00" stroke-width="5" stroke-linejoin="round" stroke-linecap="round" />
<path d="M1146.0,37.0 L1152.5,48.7 L1139.5,48.7Z M1147.1,44.4 L1153.6,56.1 L1140.6,56.1Z M1148.4,51.8 L1154.9,63.5 L1141.9,63.5Z M1149.7,59.2 L1156.2,70.9 L1143.2,70.9Z M1151.1,66.5 L1157.6,78.2 L1144.6,78.2Z M1152.5,73.9 L1159.0,85.6 L1146.0,85.6Z M1153.9,81.3 L1160.4,93.0 L1147.4,93.0Z M1155.3,88.6 L1161.8,100.3 L1148.8,100.3Z M1156.8,96.0 L1163.3,107.7 L1150.3,107.7Z M1158.3,103.3 L1164.8,115.0 L1151.8,115.0Z M1159.8,110.7 L1166.3,122.4 L1153.3,122.4Z M1161.3,118.0 L1167.8,129.7 L1154.8,129.7Z M1162.9,125.4 L1169.4,137.1 L1156.4,137.1Z M1164.5,132.7 L1171.0,144.4 L1158.0,144.4Z M1166.1,140.0 L1172.6,151.7 L1159.6,151.7Z M1167.7,147.3 L1174.2,159.0 L1161.2,159.0Z M1169.4,154.6 L1175.9,166.3 L1162.9,166.3Z M1171.1,161.9 L1177.6,173.6 L1164.6,173.6Z M1172.8,169.2 L1179.3,180.9 L1166.3,180.9Z M1174.6,176.5 L1181.1,188.2 L1168.1,188.2Z M1176.3,183.8 L1182.8,195.5 L1169.8,195.5Z M1178.1,191.1 L1184.6,202.8 L1171.6,202.8Z M1180.0,198.4 L1186.5,210.1 L1173.5,210.1Z M1181.8,205.7 L1188.3,217.4 L1175.3,217.4Z M1183.7,212.9 L1190.2,224.6 L1177.2,224.6Z M1185.6,220.2 L1192.1,231.9 L1179.1,231.9Z M1187.5,227.4 L1194.0,239.1 L1181.0,239.1Z M1189.4,234.7 L1195.9,246.4 L1182.9,246.4Z M1191.4,241.9 L1197.9,253.6 L1184.9,253.6Z M1193.4,249.1 L1199.9,260.8 L1186.9,260.8Z M1195.4,256.4 L1201.9,268.1 L1188.9,268.1Z M1197.4,263.6 L1203.9,275.3 L1190.9,275.3Z M1199.5,270.8 L1206.0,282.5 L1193.0,282.5Z M1201.6,278.0 L1208.1,289.7 L1195.1,289.7Z M1203.7,285.2 L1210.2,296.9 L1197.2,296.9Z M1205.8,292.4 L1212.3,304.1 L1199.3,304.1Z M1208.0,299.6 L1214.5,311.3 L1201.5,311.3Z M1210.1,306.7 L1216.6,318.4 L1203.6,318.4Z M1212.4,313.9 L1218.9,325.6 L1205.9,325.6Z M1214.6,321.1 L1221.1,332.8 L1208.1,332.8Z M1216.8,328.2 L1223.3,339.9 L1210.3,339.9Z M1219.1,335.4 L1225.6,347.1 L1212.6,347.1Z M1221.4,342.5 L1227.9,354.2 L1214.9,354.2Z M1223.7,349.6 L1230.2,361.3 L1217.2,361.3Z M1226.1,356.8 L1232.6,368.5 L1219.6,368.5Z M1228.5,363.9 L1235.0,375.6 L1222.0,375.6Z M1230.9,371.0 L1237.4,382.7 L1224.4,382.7Z M1233.3,378.1 L1239.8,389.8 L1226.8,389.8Z M1235.7,385.2 L1242.2,396.9 L1229.2,396.9Z M1238.2,392.3 L1244.7,404.0 L1231.7,404.0Z M1240.7,399.3 L1247.2,411.0 L1234.2,411.0Z M1243.2,406.4 L1249.7,418.1 L1236.7,418.1Z M1245.7,413.5 L1252.2,425.2 L1239.2,425.2Z M1248.3,420.5 L1254.8,432.2 L1241.8,432.2Z M1250.9,427.6 L1257.4,439.3 L1244.4,439.3Z M1253.5,434.6 L1260.0,446.3 L1247.0,446.3Z M1256.1,441.6 L1262.6,453.3 L1249.6,453.3Z M1258.7,448.6 L1265.2,460.3 L1252.2,460.3Z M1261.4,455.6 L1267.9,467.3 L1254.9,467.3Z M1264.1,462.6 L1270.6,474.3 L1257.6,474.3Z M1266.8,469.6 L1273.3,481.3 L1260.3,481.3Z M1269.6,476.6 L1276.1,488.3 L1263.1,488.3Z M1272.3,483.6 L1278.8,495.3 L1265.8,495.3Z M1275.1,490.5 L1281.6,502.2 L1268.6,502.2Z M1277.9,497.5 L1284.4,509.2 L1271.4,509.2Z" fill="#f00"/>
<polyline points="1000.5,503.0 1003.1,501.4 1003.3,499.4 1003.5,497.4 1003.8,495.4 1004.0,493.4 1004.2,491.4 1004.4,489.4 1004.7,487.4 1004.9,485.4 1005.1,483.4 1005.4,481.4 1005.6,479.4 1005.8,477.4 1006.1,475.4 1006.3,473.4 1006.5,471.4 1006.8,469.4 1007.0,467.4 1007.3,465.4 1007.5,463.4 1007.8,461.4 1008.0,459.4 1008.3,457.4 1008.6,455.4 1008.8,453.4 1009.1,451.4 1009.4,449.4 1009.6,447.4 1009.9,445.4 1010.2,443.4 1010.4,441.4 1010.7,439.4 1011.0,437.5 1011.3,435.5 1011.5,433.5 1011.8,431.5 1012.1,429.5 1012.4,427.5 1012.7,425.5 1013.0,423.5 1013.3,421.5 1013.5,419.5 1013.8,417.5 1014.1,415.5 1014.4,413.6 1014.7,411.6 1015.0,409.6 1015.3,407.6 1015.6,405.6 1015.9,403.6 1016.3,401.6 1016.6,399.6 1016.9,397.7 1017.2,395.7 1017.5,393.7 1017.8,391.7 1018.1,389.7 1018.5,387.7 1018.8,385.7 1019.1,383.8 1019.4,381.8 1019.7,379.8 1020.1,377.8 1020.4,375.8 1020.7,373.8 1021.1,371.9 1021.4,369.9 1021.7,367.9 1022.1,365.9 1022.4,363.9 1022.7,361.9 1023.1,360.0 1023.4,358.0 1023.8,356.0 1024.1,354.0 1024.5,352.0 1024.8,350.1 1025.2,348.1 1025.5,346.1 1025.9,344.1 1026.2,342.1 1026.6,340.2 1026.9,338.2 1027.3,336.2 1027.7,334.2 1028.0,332.3 1028.4,330.3 1028.7,328.3 1029.1,326.3 1029.5,324.3 1029.8,322.4 1030.2,320.4 1030.6,318.4 1031.0,316.4 1031.3,314.5 1031.7,312.5 1032.1,310.5 1032.5,308.5 1032.8,306.6 1033.2,304.6 1033.6,302.6 1034.0,300.7 1034.4,298.7 1034.8,296.7 1035.1,294.7 1035.5,292.8 1035.9,290.8 1036.3,288.8 1036.7,286.8 1037.1,284.9 1037.5,282.9 1037.9,280.9 1038.3,279.0 1038.7,277.0 1039.1,275.0 1039.5,273.0 1039.9,271.1 1040.3,269.1 1040.7,267.1 1041.1,265.2 1041.5,263.2 1041.9,261.2 1042.3,259.3 1042.7,257.3 1043.1,255.3 1043.5,253.3 1043.9,251.4 1044.4,249.4 1044.8,247.4 1045.2,245.5 1045.6,243.5 1046.0,241.5 1046.4,239.6 1046.8,237.6 1047.3,235.6 1047.7,233.7 1048.1,231.7 1048.5,229.7 1049.0,227.8 1049.4,225.8 1049.8,223.8 1050.2,221.9 1050.7,219.9 1051.1,217.9 1051.5,216.0 1051.9,214.0 1052.4,212.0 1052.8,210.1 1053.2,208.1 1053.7,206.2 1054.1,204.2 1054.5,202.2 1055.0,200.3 1055.4,198.3 1055.8,196.3 1056.3,194.4 1056.7,192.4 1057.2,190.4 1057.6,188.5 1058.0,186.5 1058.5,184.6 1058.9,182.6 1059.4,180.6 1059.8,178.7 1060.3,176.7 1060.7,174.7 1061.2,172.8 1061.6,170.8 1062.0,168.9 1062.5,166.9 1062.9,164.9 1063.4,163.0 1063.8,161.0 1064.3,159.0 1064.7,157.1 1065.2,155.1 1065.7,153.2 1066.1,151.2 1066.6,149.2 1067.0,147.3 1067.5,145.3 1067.9,143.4 1068.4,141.4 1068.8,139.4 1069.3,137.5 1069.8,135.5 1070.2,133.6 1070.7,131.6 1071.1,129.6 1071.6,127.7 1072.1,125.7 1072.5,123.8 1073.0,121.8 1073.4,119.8 1073.9,117.9 1074.4,115.9 1074.8,114.0 1075.3,112.0 1075.8,110.0 1076.2,108.1 1076.7,106.1 1077.1,104.2 1077.6,102.2 1078.1,100.3 1078.5,98.3 1079.0,96.3 1079.5,94.4 1079.9,92.4 1080.4,90.5 1080.9,88.5 1081.4,86.5 1081.8,84.6 1082.3,82.6 1082.8,80.7 1083.2,78.7 1083.7,76.8 1084.2,74.8 1084.6,72.8 1085.1,70.9 1085.6,68.9 1086.1,67.0 1086.5,65.0 1087.0,63.0 1087.5,61.1 1087.9,59.1 1087.5,57.0 1088.5,57.0 1088.6,59.0 1088.8,61.0 1089.1,63.0 1089.3,65.0 1089.5,67.0 1089.7,69.0 1090.0,71.0 1090.2,73.0 1090.5,75.0 1090.7,77.0 1090.9,79.0 1091.2,81.0 1091.4,83.0 1091.7,85.0 1091.9,87.0 1092.2,89.0 1092.4,91.0 1092.7,93.0 1092.9,95.0 1093.2,97.0 1093.5,99.0 1093.7,101.0 1094.0,103.0 1094.3,105.0 1094.5,107.0 1094.8,109.0 1095.1,110.9 1095.3,112.9 1095.6,114.9 1095.9,116.9 1096.2,118.9 1096.4,120.9 1096.7,122.9 1097.0,124.9 1097.3,126.9 1097.6,128.9 1097.9,130.9 1098.2,132.9 1098.4,134.9 1098.7,136.8 1099.0,138.8 1099.3,140.8 1099.6,142.8 1099.9,144.8 1100.2,146.8 1100.5,148.8 1100.8,150.8 1101.1,152.8 1101.4,154.8 1101.8,156.7 1102.1,158.7 1102.4,160.7 1102.7,162.7 1103.0,164.7 1103.3,166.7 1103.6,168.7 1104.0,170.7 1104.3,172.6 1104.6,174.6 1104.9,176.6 1105.2,178.6 1105.6,180.6 1105.9,182.6 1106.2,184.6 1106.5,186.5 1106.9,188.5 1107.2,190.5 1107.5,192.5 1107.9,194.5 1108.2,196.5 1108.5,198.5 1108.9,200.4 1109.2,202.4 1109.5,204.4 1109.9,206.4 1110.2,208.4 1110.6,210.4 1110.9,212.3 1111.3,214.3 1111.6,216.3 1112.0,218.3 1112.3,220.3 1112.6,222.2 1113.0,224.2 1113.3,226.2 1113.7,228.2 1114.1,230.2 1114.4,232.2 1114.8,234.1 1115.1,236.1 1115.5,238.1 1115.8,240.1 1116.2,242.1 1116.5,244.0 1116.9,246.0 1117.3,248.0 1117.6,250.0 1118.0,252.0 1118.4,253.9 1118.7,255.9 1119.1,257.9 1119.4,259.9 1119.8,261.9 1120.2,263.8 1120.6,265.8 1120.9,267.8 1121.3,269.8 1121.7,271.8 1122.0,273.7 1122.4,275.7 1122.8,277.7 1123.1,279.7 1123.5,281.6 1123.9,283.6 1124.3,285.6 1124.6,287.6 1125.0,289.6 1125.4,291.5 1125.8,293.5 1126.1,295.5 1126.5,297.5 1126.9,299.4 1127.3,301.4 1127.7,303.4 1128.0,305.4 1128.4,307.4 1128.8,309.3 1129.2,311.3 1129.6,313.3 1130.0,315.3 1130.3,317.2 1130.7,319.2 1131.1,321.2 1131.5,323.2 1131.9,325.1 1132.3,327.1 1132.6,329.1 1133.0,331.1 1133.4,333.0 1133.8,335.0 1134.2,337.0 1134.6,339.0 1135.0,340.9 1135.3,342.9 1135.7,344.9 1136.1,346.9 1136.5,348.9 1136.9,350.8 1137.3,352.8 1137.7,354.8 1138.1,356.8 1138.4,358.7 1138.8,360.7 1139.2,362.7 1139.6,364.7 1140.0,366.6 1140.4,368.6 1140.8,370.6 1141.2,372.6 1141.6,374.5 1141.9,376.5 1142.3,378.5 1142.7,380.5 1143.1,382.4 1143.5,384.4 1143.9,386.4 1144.3,388.4 1144.7,390.3 1145.1,392.3 1145.4,394.3 1145.8,396.3 1146.2,398.2 1146.6,400.2 1147.0,402.2 1147.4,404.2 1147.8,406.1 1148.2,408.1 1148.5,410.1 1148.9,412.1 1149.3,414.0 1149.7,416.0 1150.1,418.0 1150.5,420.0 1150.9,421.9 1151.3,423.9 1151.6,425.9 1152.0,427.9 1152.4,429.8 1152.8,431.8 1153.2,433.8 1153.6,435.8 1153.9,437.7 1154.3,439.7 1154.7,441.7 1155.1,443.7 1155.5,445.6 1155.9,447.6 1156.2,449.6 1156.6,451.6 1157.0,453.5 1157.4,455.5 1157.8,457.5 1158.1,459.5 1158.5,461.4 1158.9,463.4 1159.3,465.4 1159.6,467.4 1160.0,469.4 1160.4,471.3 1160.8,473.3 1161.1,475.3 1161.5,477.3 1161.9,479.2 1162.3,481.2 1162.6,483.2 1163.0,485.2 1163.4,487.1 1163.7,489.1 1164.1,491.1 1164.5,493.1 1164.8,495.1 1165.2,497.0 1165.6,499.0 1166.0,501.0" fill="none" stroke="#0f0" stroke-width="1.2" stroke-linejoin="round" stroke-linecap="round" />
<path d="M1000.5,494.8 L1002.7,500.0 L1008.3,500.5 L1004.0,504.1 L1005.3,509.6 L1000.5,506.7 L995.7,509.6 L997.0,504.1 L992.7,500.5 L998.3,500.0Z M1004.3,482.3 L1006.5,487.5 L1012.1,488.0 L1007.8,491.7 L1009.1,497.2 L1004.3,494.2 L999.5,497.2 L1000.8,491.7 L996.5,488.0 L1002.1,487.5Z M1005.9,468.4 L1008.1,473.6 L1013.7,474.1 L1009.4,477.8 L1010.7,483.3 L1005.9,480.3 L1001.1,483.3 L1002.4,477.8 L998.1,474.1 L1003.7,473.6Z M1007.6,454.5 L1009.8,459.7 L1015.4,460.2 L1011.1,463.9 L1012.4,469.4 L1007.6,466.4 L1002.8,469.4 L1004.1,463.9 L999.8,460.2 L1005.5,459.7Z M1009.4,440.6 L1011.6,445.9 L1017.2,446.3 L1012.9,450.0 L1014.2,455.5 L1009.4,452.5 L1004.6,455.5 L1005.9,450.0 L1001.6,446.3 L1007.3,445.9Z M1011.3,426.8 L1013.5,432.0 L1019.1,432.4 L1014.8,436.1 L1016.1,441.6 L1011.3,438.7 L1006.5,441.6 L1007.8,436.1 L1003.5,432.4 L1009.2,432.0Z M1013.3,412.9 L1015.5,418.1 L1021.1,418.6 L1016.8,422.3 L1018.1,427.7 L1013.3,424.8 L1008.5,427.7 L1009.8,422.3 L1005.5,418.6 L1011.1,418.1Z M1015.4,399.1 L1017.6,404.3 L1023.2,404.7 L1018.9,408.4 L1020.2,413.9 L1015.4,411.0 L1010.6,413.9 L1011.9,408.4 L1007.6,404.7 L1013.2,404.3Z M1017.5,385.2 L1019.7,390.5 L1025.3,390.9 L1021.0,394.6 L1022.4,400.1 L1017.5,397.1 L1012.7,400.1 L1014.0,394.6 L1009.7,390.9 L1015.4,390.5Z M1019.8,371.4 L1021.9,376.6 L1027.6,377.1 L1023.3,380.8 L1024.6,386.2 L1019.8,383.3 L1015.0,386.2 L1016.3,380.8 L1012.0,377.1 L1017.6,376.6Z M1022.1,357.6 L1024.3,362.8 L1029.9,363.3 L1025.6,366.9 L1026.9,372.4 L1022.1,369.5 L1017.3,372.4 L1018.6,366.9 L1014.3,363.3 L1019.9,362.8Z M1024.5,343.8 L1026.6,349.0 L1032.3,349.5 L1028.0,353.2 L1029.3,358.6 L1024.5,355.7 L1019.7,358.6 L1021.0,353.2 L1016.7,349.5 L1022.3,349.0Z M1026.9,330.0 L1029.1,335.2 L1034.7,335.7 L1030.4,339.4 L1031.8,344.9 L1026.9,341.9 L1022.1,344.9 L1023.4,339.4 L1019.1,335.7 L1024.8,335.2Z M1029.5,316.3 L1031.6,321.5 L1037.3,321.9 L1033.0,325.6 L1034.3,331.1 L1029.5,328.2 L1024.6,331.1 L1025.9,325.6 L1021.7,321.9 L1027.3,321.5Z M1032.1,302.5 L1034.2,307.7 L1039.8,308.2 L1035.6,311.8 L1036.9,317.3 L1032.1,314.4 L1027.2,317.3 L1028.5,311.8 L1024.3,308.2 L1029.9,307.7Z M1034.7,288.8 L1036.9,294.0 L1042.5,294.4 L1038.2,298.1 L1039.5,303.6 L1034.7,300.6 L1029.9,303.6 L1031.2,298.1 L1026.9,294.4 L1032.5,294.0Z M1037.4,275.0 L1039.6,280.2 L1045.2,280.7 L1040.9,284.4 L1042.2,289.9 L1037.4,286.9 L1032.6,289.9 L1033.9,284.4 L1029.6,280.7 L1035.3,280.2Z M1040.2,261.3 L1042.4,266.5 L1048.0,267.0 L1043.7,270.6 L1045.0,276.1 L1040.2,273.2 L1035.4,276.1 L1036.7,270.6 L1032.4,267.0 L1038.0,266.5Z M1043.0,247.6 L1045.2,252.8 L1050.8,253.3 L1046.5,256.9 L1047.8,262.4 L1043.0,259.5 L1038.2,262.4 L1039.5,256.9 L1035.2,253.3 L1040.9,252.8Z M1045.9,233.9 L1048.1,239.1 L1053.7,239.6 L1049.4,243.2 L1050.7,248.7 L1045.9,245.8 L1041.1,248.7 L1042.4,243.2 L1038.1,239.6 L1043.7,239.1Z M1048.8,220.2 L1051.0,225.4 L1056.6,225.9 L1052.3,229.5 L1053.6,235.0 L1048.8,232.1 L1044.0,235.0 L1045.3,229.5 L1041.0,225.9 L1046.7,225.4Z M1051.8,206.5 L1054.0,211.7 L1059.6,212.2 L1055.3,215.9 L1056.6,221.3 L1051.8,218.4 L1047.0,221.3 L1048.3,215.9 L1044.0,212.2 L1049.6,211.7Z M1054.8,192.8 L1057.0,198.1 L1062.6,198.5 L1058.3,202.2 L1059.6,207.7 L1054.8,204.7 L1050.0,207.7 L1051.3,202.2 L1047.0,198.5 L1052.6,198.1Z M1057.9,179.2 L1060.0,184.4 L1065.7,184.8 L1061.4,188.5 L1062.7,194.0 L1057.9,191.1 L1053.0,194.0 L1054.3,188.5 L1050.1,184.8 L1055.7,184.4Z M1060.9,165.5 L1063.1,170.7 L1068.7,171.2 L1064.4,174.9 L1065.8,180.4 L1060.9,177.4 L1056.1,180.4 L1057.4,174.9 L1053.1,171.2 L1058.8,170.7Z M1064.1,151.9 L1066.2,157.1 L1071.9,157.5 L1067.6,161.2 L1068.9,166.7 L1064.1,163.8 L1059.2,166.7 L1060.6,161.2 L1056.3,157.5 L1061.9,157.1Z M1067.2,138.2 L1069.4,143.4 L1075.0,143.9 L1070.7,147.6 L1072.0,153.1 L1067.2,150.1 L1062.4,153.1 L1063.7,147.6 L1059.4,143.9 L1065.0,143.4Z M1070.4,124.6 L1072.6,129.8 L1078.2,130.3 L1073.9,133.9 L1075.2,139.4 L1070.4,136.5 L1065.6,139.4 L1066.9,133.9 L1062.6,130.3 L1068.2,129.8Z M1073.6,111.0 L1075.8,116.2 L1081.4,116.6 L1077.1,120.3 L1078.4,125.8 L1073.6,122.9 L1068.8,125.8 L1070.1,120.3 L1065.8,116.6 L1071.4,116.2Z M1076.8,97.3 L1079.0,102.6 L1084.6,103.0 L1080.3,106.7 L1081.6,112.2 L1076.8,109.2 L1072.0,112.2 L1073.3,106.7 L1069.0,103.0 L1074.7,102.6Z M1080.1,83.7 L1082.2,88.9 L1087.9,89.4 L1083.6,93.1 L1084.9,98.6 L1080.1,95.6 L1075.2,98.6 L1076.6,93.1 L1072.3,89.4 L1077.9,88.9Z M1083.3,70.1 L1085.5,75.3 L1091.1,75.8 L1086.8,79.5 L1088.1,84.9 L1083.3,82.0 L1078.5,84.9 L1079.8,79.5 L1075.5,75.8 L1081.2,75.3Z M1086.6,56.5 L1088.8,61.7 L1094.4,62.2 L1090.1,65.8 L1091.4,71.3 L1086.6,68.4 L1081.8,71.3 L1083.1,65.8 L1078.8,62.2 L1084.4,61.7Z M1088.9,53.9 L1091.1,59.1 L1096.7,59.5 L1092.5,63.2 L1093.8,68.7 L1088.9,65.8 L1084.1,68.7 L1085.4,63.2 L1081.1,59.5 L1086.8,59.1Z M1090.6,67.8 L1092.7,73.0 L1098.4,73.4 L1094.1,77.1 L1095.4,82.6 L1090.6,79.7 L1085.7,82.6 L1087.1,77.1 L1082.8,73.4 L1088.4,73.0Z M1092.3,81.7 L1094.5,86.9 L1100.1,87.3 L1095.8,91.0 L1097.1,96.5 L1092.3,93.6 L1087.5,96.5 L1088.8,91.0 L1084.5,87.3 L1090.1,86.9Z M1094.1,95.6 L1096.3,100.8 L1101.9,101.2 L1097.6,104.9 L1098.9,110.4 L1094.1,107.4 L1089.3,110.4 L1090.6,104.9 L1086.3,101.2 L1091.9,100.8Z M1096.0,109.4 L1098.1,114.6 L1103.8,115.1 L1099.5,118.8 L1100.8,124.3 L1096.0,121.3 L1091.2,124.3 L1092.5,118.8 L1088.2,115.1 L1093.8,114.6Z M1098.0,123.3 L1100.1,128.5 L1105.8,128.9 L1101.5,132.6 L1102.8,138.1 L1098.0,135.2 L1093.1,138.1 L1094.4,132.6 L1090.2,128.9 L1095.8,128.5Z M1100.0,137.1 L1102.2,142.3 L1107.8,142.8 L1103.5,146.5 L1104.8,152.0 L1100.0,149.0 L1095.2,152.0 L1096.5,146.5 L1092.2,142.8 L1097.8,142.3Z M1102.1,151.0 L1104.3,156.2 L1109.9,156.6 L1105.6,160.3 L1107.0,165.8 L1102.1,162.9 L1097.3,165.8 L1098.6,160.3 L1094.3,156.6 L1100.0,156.2Z M1104.3,164.8 L1106.5,170.0 L1112.1,170.5 L1107.8,174.1 L1109.1,179.6 L1104.3,176.7 L1099.5,179.6 L1100.8,174.1 L1096.5,170.5 L1102.2,170.0Z M1106.6,178.6 L1108.8,183.8 L1114.4,184.3 L1110.1,188.0 L1111.4,193.4 L1106.6,190.5 L1101.8,193.4 L1103.1,188.0 L1098.8,184.3 L1104.4,183.8Z M1108.9,192.4 L1111.1,197.6 L1116.7,198.1 L1112.4,201.8 L1113.7,207.3 L1108.9,204.3 L1104.1,207.3 L1105.4,201.8 L1101.1,198.1 L1106.7,197.6Z M1111.3,206.2 L1113.4,211.4 L1119.1,211.9 L1114.8,215.6 L1116.1,221.1 L1111.3,218.1 L1106.5,221.1 L1107.8,215.6 L1103.5,211.9 L1109.1,211.4Z M1113.7,220.0 L1115.9,225.2 L1121.5,225.7 L1117.2,229.3 L1118.5,234.8 L1113.7,231.9 L1108.9,234.8 L1110.2,229.3 L1105.9,225.7 L1111.5,225.2Z M1116.2,233.8 L1118.3,239.0 L1124.0,239.5 L1119.7,243.1 L1121.0,248.6 L1116.2,245.7 L1111.4,248.6 L1112.7,243.1 L1108.4,239.5 L1114.0,239.0Z M1118.7,247.6 L1120.9,252.8 L1126.5,253.2 L1122.2,256.9 L1123.5,262.4 L1118.7,259.4 L1113.9,262.4 L1115.2,256.9 L1110.9,253.2 L1116.5,252.8Z M1121.2,261.3 L1123.4,266.5 L1129.0,267.0 L1124.8,270.7 L1126.1,276.2 L1121.2,273.2 L1116.4,276.2 L1117.7,270.7 L1113.4,267.0 L1119.1,266.5Z M1123.8,275.1 L1126.0,280.3 L1131.6,280.7 L1127.3,284.4 L1128.6,289.9 L1123.8,287.0 L1119.0,289.9 L1120.3,284.4 L1116.0,280.7 L1121.7,280.3Z M1126.4,288.8 L1128.6,294.1 L1134.2,294.5 L1130.0,298.2 L1131.3,303.7 L1126.4,300.7 L1121.6,303.7 L1122.9,298.2 L1118.6,294.5 L1124.3,294.1Z M1129.1,302.6 L1131.3,307.8 L1136.9,308.3 L1132.6,311.9 L1133.9,317.4 L1129.1,314.5 L1124.3,317.4 L1125.6,311.9 L1121.3,308.3 L1126.9,307.8Z M1131.8,316.3 L1133.9,321.5 L1139.5,322.0 L1135.3,325.7 L1136.6,331.2 L1131.8,328.2 L1126.9,331.2 L1128.2,325.7 L1124.0,322.0 L1129.6,321.5Z M1134.4,330.1 L1136.6,335.3 L1142.2,335.7 L1137.9,339.4 L1139.3,344.9 L1134.4,342.0 L1129.6,344.9 L1130.9,339.4 L1126.6,335.7 L1132.3,335.3Z M1137.1,343.8 L1139.3,349.0 L1144.9,349.5 L1140.6,353.1 L1141.9,358.6 L1137.1,355.7 L1132.3,358.6 L1133.6,353.1 L1129.3,349.5 L1135.0,349.0Z M1139.8,357.5 L1142.0,362.8 L1147.6,363.2 L1143.3,366.9 L1144.6,372.4 L1139.8,369.4 L1135.0,372.4 L1136.3,366.9 L1132.0,363.2 L1137.7,362.8Z M1142.5,371.3 L1144.7,376.5 L1150.3,376.9 L1146.0,380.6 L1147.3,386.1 L1142.5,383.2 L1137.7,386.1 L1139.0,380.6 L1134.7,376.9 L1140.4,376.5Z M1145.2,385.0 L1147.4,390.2 L1153.0,390.7 L1148.7,394.4 L1150.1,399.9 L1145.2,396.9 L1140.4,399.9 L1141.7,394.4 L1137.4,390.7 L1143.1,390.2Z M1147.9,398.8 L1150.1,404.0 L1155.7,404.4 L1151.4,408.1 L1152.8,413.6 L1147.9,410.6 L1143.1,413.6 L1144.4,408.1 L1140.1,404.4 L1145.8,404.0Z M1150.6,412.5 L1152.8,417.7 L1158.4,418.2 L1154.1,421.8 L1155.4,427.3 L1150.6,424.4 L1145.8,427.3 L1147.1,421.8 L1142.8,418.2 L1148.5,417.7Z M1153.3,426.2 L1155.5,431.4 L1161.1,431.9 L1156.8,435.6 L1158.1,441.1 L1153.3,438.1 L1148.5,441.1 L1149.8,435.6 L1145.5,431.9 L1151.1,431.4Z M1156.0,440.0 L1158.1,445.2 L1163.8,445.6 L1159.5,449.3 L1160.8,454.8 L1156.0,451.9 L1151.1,454.8 L1152.5,449.3 L1148.2,445.6 L1153.8,445.2Z M1158.6,453.7 L1160.8,458.9 L1166.4,459.4 L1162.1,463.1 L1163.4,468.6 L1158.6,465.6 L1153.8,468.6 L1155.1,463.1 L1150.8,459.4 L1156.4,458.9Z M1161.2,467.5 L1163.4,472.7 L1169.0,473.1 L1164.7,476.8 L1166.0,482.3 L1161.2,479.4 L1156.4,482.3 L1157.7,476.8 L1153.4,473.1 L1159.0,472.7Z M1163.8,481.2 L1166.0,486.5 L1171.6,486.9 L1167.3,490.6 L1168.6,496.1 L1163.8,493.1 L1159.0,496.1 L1160.3,490.6 L1156.0,486.9 L1161.6,486.5Z" fill="#0f0"/>
<polyline points="1002.5,518.0 1005.5,440.0 1012.0,340.0 1017.5,240.0 1023.5,140.0 1029.0,60.0 1030.0,60.0 1033.0,140.0 1038.0,240.0 1042.0,340.0 1048.0,440.0 1051.0,518.0" fill="none" stroke="#00f" stroke-width="6.5" stroke-linejoin="round" stroke-linecap="round" />
<path d="M1029.5,66.1 L1037.0,52.6 L1022.0,52.6Z" fill="#00f"/>
<path d="M1002.5,526.6 L1010.5,512.2 L994.5,512.2Z M1004.3,478.7 L1012.3,464.3 L996.3,464.3Z M1006.7,430.7 L1014.7,416.3 L998.7,416.3Z M1009.8,382.8 L1017.8,368.4 L1001.8,368.4Z M1012.8,334.9 L1020.8,320.5 L1004.8,320.5Z M1015.4,287.0 L1023.4,272.6 L1007.4,272.6Z M1018.1,239.1 L1026.1,224.7 L1010.1,224.7Z M1020.9,191.2 L1028.9,176.8 L1012.9,176.8Z M1023.9,143.3 L1031.9,128.9 L1015.9,128.9Z M1027.2,95.4 L1035.2,81.0 L1019.2,81.0Z" fill="#00f"/>
<path d="M1051.0,526.6 L1059.0,512.2 L1043.0,512.2Z M1049.2,478.7 L1057.2,464.3 L1041.2,464.3Z M1046.9,430.7 L1054.9,416.3 L1038.9,416.3Z M1044.1,382.8 L1052.1,368.4 L1036.1,368.4Z M1041.4,334.9 L1049.4,320.5 L1033.4,320.5Z M1039.5,286.9 L1047.5,272.5 L1031.5,272.5Z M1037.5,239.0 L1045.5,224.6 L1029.5,224.6Z M1035.1,191.0 L1043.1,176.6 L1027.1,176.6Z M1032.8,143.1 L1040.8,128.7 L1024.8,128.7Z M1031.0,95.1 L1039.0,80.7 L1023.0,80.7Z" fill="#00f"/>
<line x1="1325.5" y1="38.75" x2="1411.3" y2="38.75" stroke="#000" stroke-width="6.5"/>
<ellipse cx="1367.4" cy="38.75" rx="5.5" ry="6.8" fill="#000"/>
<circle cx="1366.2" cy="36.25" r="1.6" fill="#bbb"/>
<text transform="translate(1416.10,49.60) scale(1.0330,1)" font-family="'Liberation Serif','Times New Roman',serif" font-size="34.00" fill="#000">0.03 mA/cm</text>
<text transform="translate(1592.82,33.15) scale(1.0000,1)" font-family="'Liberation Serif','Times New Roman',serif" font-size="19.60" fill="#000">2</text>
<line x1="1325.5" y1="87.5" x2="1411.3" y2="87.5" stroke="#f00" stroke-width="6.5"/>
<path d="M1367.4,78.5 L1375.4,92.3 L1359.4,92.3Z" fill="#f00"/>
<text transform="translate(1416.10,98.35) scale(1.0330,1)" font-family="'Liberation Serif','Times New Roman',serif" font-size="34.00" fill="#000">0.05 mA/cm</text>
<text transform="translate(1592.82,81.90) scale(1.0000,1)" font-family="'Liberation Serif','Times New Roman',serif" font-size="19.60" fill="#000">2</text>
<line x1="1325.5" y1="136.75" x2="1411.3" y2="136.75" stroke="#0f0" stroke-width="6.5"/>
<path d="M1367.4,130.2 L1368.9,134.6 L1373.6,134.7 L1369.9,137.6 L1371.2,142.0 L1367.4,139.3 L1363.6,142.0 L1364.9,137.6 L1361.2,134.7 L1365.9,134.6Z" fill="#0f0"/>
<text transform="translate(1416.10,147.60) scale(1.0330,1)" font-family="'Liberation Serif','Times New Roman',serif" font-size="34.00" fill="#000">0.10 mA/cm</text>
<text transform="translate(1592.82,131.15) scale(1.0000,1)" font-family="'Liberation Serif','Times New Roman',serif" font-size="19.60" fill="#000">2</text>
<line x1="1325.5" y1="185.5" x2="1411.3" y2="185.5" stroke="#00f" stroke-width="6.5"/>
<path d="M1359.2,180.7 L1375.6000000000001,180.7 L1367.4,195.1Z" fill="#00f"/>
<text transform="translate(1416.10,196.35) scale(1.0330,1)" font-family="'Liberation Serif','Times New Roman',serif" font-size="34.00" fill="#000">0.30 mA/cm</text>
<text transform="translate(1592.82,179.90) scale(1.0000,1)" font-family="'Liberation Serif','Times New Roman',serif" font-size="19.60" fill="#000">2</text>
<text transform="translate(61.44,1209.90) scale(1.0550,1)" font-family="'Liberation Serif','Times New Roman',serif" font-size="33.80" fill="#000">-0.2</text>
<text transform="translate(61.80,1120.20) scale(1.0550,1)" font-family="'Liberation Serif','Times New Roman',serif" font-size="33.80" fill="#000">-0.1</text>
<text transform="translate(72.85,1030.50) scale(1.0550,1)" font-family="'Liberation Serif','Times New Roman',serif" font-size="33.80" fill="#000">0.0</text>
<text transform="translate(73.57,940.80) scale(1.0550,1)" font-family="'Liberation Serif','Times New Roman',serif" font-size="33.80" fill="#000">0.1</text>
<text transform="translate(73.57,851.10) scale(1.0550,1)" font-family="'Liberation Serif','Times New Roman',serif" font-size="33.80" fill="#000">0.2</text>
<text transform="translate(72.85,761.40) scale(1.0550,1)" font-family="'Liberation Serif','Times New Roman',serif" font-size="33.80" fill="#000">0.3</text>
<text transform="translate(72.14,671.70) scale(1.0550,1)" font-family="'Liberation Serif','Times New Roman',serif" font-size="33.80" fill="#000">0.4</text>
<text transform="translate(161.85,1237.80) scale(1.0500,1)" font-family="'Liberation Serif','Times New Roman',serif" font-size="33.70" fill="#000">0</text>
<text transform="translate(265.60,1237.80) scale(1.0500,1)" font-family="'Liberation Serif','Times New Roman',serif" font-size="33.70" fill="#000">5</text>
<text transform="translate(360.32,1237.80) scale(1.0500,1)" font-family="'Liberation Serif','Times New Roman',serif" font-size="33.70" fill="#000">10</text>
<text transform="translate(464.42,1237.80) scale(1.0500,1)" font-family="'Liberation Serif','Times New Roman',serif" font-size="33.70" fill="#000">15</text>
<text transform="translate(569.41,1237.80) scale(1.0500,1)" font-family="'Liberation Serif','Times New Roman',serif" font-size="33.70" fill="#000">20</text>
<text transform="translate(673.51,1237.80) scale(1.0500,1)" font-family="'Liberation Serif','Times New Roman',serif" font-size="33.70" fill="#000">25</text>
<text transform="translate(777.43,1237.80) scale(1.0500,1)" font-family="'Liberation Serif','Times New Roman',serif" font-size="33.70" fill="#000">30</text>
<text transform="translate(356.62,1290.90) scale(0.9838,1)" font-family="'Liberation Serif','Times New Roman',serif" font-size="50.00" fill="#000">Time (sec)</text>
<text transform="translate(39.80,1140.84) rotate(-90) scale(1.0036,1)" font-family="'Liberation Serif','Times New Roman',serif" font-size="41.20">Potential vs Ag/AgCl(Volts)</text>
<text transform="translate(612.30,951.12) scale(0.9691,1)" font-family="'Liberation Serif','Times New Roman',serif" font-size="59.44" fill="#000">(c) S3</text>
<polyline points="172.0,1152.0 195.0,1080.0 232.5,980.0 260.0,930.0 278.7,900.0 293.6,870.5 304.8,862.0 320.8,857.2 327.2,849.2 338.5,829.4 364.7,780.0 388.0,740.0 416.2,692.0" fill="none" stroke="#000" stroke-width="13" stroke-linejoin="round" stroke-linecap="round" />
<polyline points="172.0,1152.0 172.6,1150.1 173.2,1148.2 173.8,1146.3 174.4,1144.4 175.0,1142.5 175.7,1140.6 176.3,1138.7 176.9,1136.8 177.5,1134.9 178.1,1132.9 178.7,1131.0 179.3,1129.1 179.9,1127.2 180.5,1125.3 181.1,1123.4 181.7,1121.5 182.3,1119.6 183.0,1117.7 183.6,1115.8 184.2,1113.9 184.8,1112.0 185.4,1110.1 186.0,1108.2 186.6,1106.3 187.2,1104.4 187.8,1102.5 188.4,1100.6 189.0,1098.7 189.6,1096.8 190.3,1094.8 190.9,1092.9 191.5,1091.0 192.1,1089.1 192.7,1087.2 193.3,1085.3 193.9,1083.4 194.5,1081.5 195.1,1079.6 195.8,1077.7 196.6,1075.9 197.3,1074.0 198.0,1072.1 198.7,1070.2 199.4,1068.4 200.1,1066.5 200.8,1064.6 201.5,1062.8 202.2,1060.9 202.9,1059.0 203.6,1057.1 204.3,1055.3 205.0,1053.4 205.7,1051.5 206.4,1049.6 207.1,1047.8 207.8,1045.9 208.5,1044.0 209.2,1042.2 209.9,1040.3 210.6,1038.4 211.3,1036.5 212.0,1034.7 212.7,1032.8 213.4,1030.9 214.1,1029.0 214.8,1027.2 215.5,1025.3 216.2,1023.4 216.9,1021.6 217.6,1019.7 218.3,1017.8 219.0,1015.9 219.7,1014.1 220.4,1012.2 221.1,1010.3 221.8,1008.4 222.5,1006.6 223.2,1004.7 223.9,1002.8 224.6,1001.0 225.3,999.1 226.0,997.2 226.7,995.3 227.4,993.5 228.2,991.6 228.9,989.7 229.6,987.9 230.3,986.0 231.0,984.1 231.7,982.2 232.4,980.4 233.3,978.6 234.2,976.8 235.2,975.1 236.2,973.3 237.1,971.6 238.1,969.8 239.1,968.1 240.0,966.3 241.0,964.6 242.0,962.8 242.9,961.1 243.9,959.3 244.8,957.6 245.8,955.8 246.8,954.1 247.7,952.3 248.7,950.5 249.7,948.8 250.6,947.0 251.6,945.3 252.6,943.5 253.5,941.8 254.5,940.0 255.4,938.3 256.4,936.5 257.4,934.8 258.3,933.0 259.3,931.3 260.3,929.5 261.3,927.8 262.4,926.1 263.5,924.4 264.5,922.7 265.6,921.0 266.6,919.3 267.7,917.7 268.8,916.0 269.8,914.3 270.9,912.6 271.9,910.9 273.0,909.2 274.0,907.5 275.1,905.8 276.2,904.1 277.2,902.4 278.3,900.7 279.2,898.9 280.1,897.1 281.0,895.4 281.9,893.6 282.8,891.8 283.7,890.0 284.7,888.2 285.6,886.4 286.5,884.6 287.4,882.9 288.3,881.1 289.2,879.3 290.1,877.5 291.0,875.7 291.9,873.9 292.8,872.1 293.7,870.4 295.3,869.2" fill="none" stroke="#b8b8b8" stroke-width="2.6" stroke-linecap="round" stroke-dasharray="0.01 5.2"/>
<polyline points="416.6,691.6 416.1,693.6 416.5,695.6 416.8,697.6 417.2,699.6 417.6,701.6 418.0,703.5 418.4,705.5 418.8,707.5 419.2,709.4 419.6,711.4 420.1,713.4 420.5,715.3 421.0,717.3 421.5,719.2 421.9,721.2 422.4,723.1 422.9,725.1 423.4,727.0 423.9,729.0 424.4,730.9 425.0,732.8 425.5,734.8 426.0,736.7 426.6,738.6 427.2,740.6 427.7,742.5 428.3,744.4 428.9,746.3 429.5,748.2 430.1,750.1 430.7,752.1 431.3,754.0 431.9,755.9 432.5,757.8 433.1,759.7 433.8,761.6 434.4,763.5 435.1,765.4 435.7,767.2 436.4,769.1 437.1,771.0 437.7,772.9 438.4,774.8 439.1,776.7 439.8,778.5 440.5,780.4 441.2,782.3 441.9,784.2 442.6,786.0 443.3,787.9 444.1,789.8 444.8,791.6 445.5,793.5 446.3,795.4 447.0,797.2 447.8,799.1 448.5,800.9 449.3,802.8 450.1,804.6 450.8,806.5 451.6,808.3 452.4,810.2 453.2,812.0 454.0,813.9 454.8,815.7 455.6,817.5 456.4,819.4 457.2,821.2 458.0,823.0 458.8,824.9 459.6,826.7 460.4,828.5 461.2,830.4 462.1,832.2 462.9,834.0 463.7,835.8 464.6,837.7 465.4,839.5 466.3,841.3 467.1,843.1 468.0,844.9 468.8,846.7 469.7,848.6 470.5,850.4 471.4,852.2 472.3,854.0 473.1,855.8 474.0,857.6 474.9,859.4 475.8,861.2 476.7,863.0 477.5,864.8 478.4,866.6 479.3,868.4 480.2,870.2 481.1,872.0 482.0,873.8 482.9,875.6 483.8,877.4 484.7,879.2 485.7,881.0 486.6,882.8 487.5,884.5 488.4,886.3 489.3,888.1 490.3,889.9 491.2,891.7 492.1,893.5 493.0,895.2 494.0,897.0 494.9,898.8 495.9,900.6 496.8,902.3 497.7,904.1 498.7,905.9 499.6,907.7 500.6,909.4 501.5,911.2 502.5,913.0 503.5,914.7 504.4,916.5 505.4,918.3 506.3,920.0 507.3,921.8 508.3,923.6 509.2,925.3 510.2,927.1 511.2,928.8 512.2,930.6 513.1,932.3 514.1,934.1 515.1,935.8 516.1,937.6 517.0,939.3 518.0,941.1 519.0,942.8 520.0,944.6 521.0,946.3 522.0,948.1 523.0,949.8 524.0,951.6 525.0,953.3 526.0,955.1 527.0,956.8 528.0,958.5 529.0,960.3 530.0,962.0 531.0,963.7 532.0,965.5 533.0,967.2 534.0,968.9 535.0,970.7 536.1,972.4 537.1,974.1 538.1,975.8 539.1,977.6 540.2,979.3 541.2,981.0 542.2,982.7 543.3,984.4 544.3,986.1 545.4,987.9 546.4,989.6 547.5,991.3 548.5,993.0 549.6,994.7 550.6,996.4 551.7,998.1 552.8,999.8 553.8,1001.5 554.9,1003.2 556.0,1004.9 557.0,1006.6 558.1,1008.2 559.2,1009.9 560.3,1011.6 561.4,1013.3 562.5,1015.0 563.6,1016.6 564.7,1018.3 565.8,1020.0 566.9,1021.7 568.0,1023.3 569.1,1025.0 570.2,1026.7 571.3,1028.3 572.5,1030.0 573.6,1031.6 574.7,1033.3 575.9,1034.9 577.0,1036.6 578.2,1038.2 579.3,1039.9 580.5,1041.5 581.6,1043.2 582.8,1044.8 583.9,1046.4 585.1,1048.1 586.3,1049.7 587.5,1051.3 588.6,1052.9 589.8,1054.6 591.0,1056.2 592.2,1057.8 593.4,1059.4 594.6,1061.0 595.8,1062.6 597.0,1064.3 598.2,1065.9 599.4,1067.5 600.6,1069.1 601.8,1070.7 603.0,1072.3 604.2,1073.9 605.4,1075.5 606.6,1077.1 607.8,1078.7 609.0,1080.4 610.2,1082.0 611.4,1083.6 612.6,1085.2 613.8,1086.8 615.0,1088.4 616.2,1090.0 617.4,1091.6 618.6,1093.3 619.8,1094.9 620.9,1096.5 622.1,1098.1 623.3,1099.8 624.5,1101.4 625.6,1103.0 626.8,1104.6 627.9,1106.3 629.1,1107.9 630.2,1109.6 631.4,1111.2 632.5,1112.9 633.6,1114.5 634.8,1116.2 635.9,1117.8 637.0,1119.5 638.1,1121.2 639.2,1122.8 640.3,1124.5 641.4,1126.2 642.4,1127.9 643.5,1129.6 644.5,1131.3 645.6,1133.0 646.6,1134.7 647.7,1136.4 648.7,1138.1 649.7,1139.9 650.7,1141.6 651.7,1143.3 652.7,1145.1 653.6,1146.8 654.6,1148.6 655.5,1150.4 656.5,1152.1 656.0,1154.7" fill="none" stroke="#000" stroke-width="11" stroke-linejoin="round" stroke-linecap="round" />
<polyline points="416.6,691.6 416.1,693.6 416.5,695.6 416.8,697.6 417.2,699.6 417.6,701.6 418.0,703.5 418.4,705.5 418.8,707.5 419.2,709.4 419.6,711.4 420.1,713.4 420.5,715.3 421.0,717.3 421.5,719.2 421.9,721.2 422.4,723.1 422.9,725.1 423.4,727.0 423.9,729.0 424.4,730.9 425.0,732.8 425.5,734.8 426.0,736.7 426.6,738.6 427.2,740.6 427.7,742.5 428.3,744.4 428.9,746.3 429.5,748.2 430.1,750.1 430.7,752.1 431.3,754.0 431.9,755.9 432.5,757.8 433.1,759.7 433.8,761.6 434.4,763.5 435.1,765.4 435.7,767.2 436.4,769.1 437.1,771.0 437.7,772.9 438.4,774.8 439.1,776.7 439.8,778.5 440.5,780.4 441.2,782.3 441.9,784.2 442.6,786.0 443.3,787.9 444.1,789.8 444.8,791.6 445.5,793.5 446.3,795.4 447.0,797.2 447.8,799.1 448.5,800.9 449.3,802.8 450.1,804.6 450.8,806.5 451.6,808.3 452.4,810.2 453.2,812.0 454.0,813.9 454.8,815.7 455.6,817.5 456.4,819.4 457.2,821.2 458.0,823.0 458.8,824.9 459.6,826.7 460.4,828.5 461.2,830.4 462.1,832.2 462.9,834.0 463.7,835.8 464.6,837.7 465.4,839.5 466.3,841.3 467.1,843.1 468.0,844.9 468.8,846.7 469.7,848.6 470.5,850.4 471.4,852.2 472.3,854.0 473.1,855.8 474.0,857.6 474.9,859.4 475.8,861.2 476.7,863.0 477.5,864.8 478.4,866.6 479.3,868.4 480.2,870.2 481.1,872.0 482.0,873.8 482.9,875.6 483.8,877.4 484.7,879.2 485.7,881.0 486.6,882.8 487.5,884.5 488.4,886.3 489.3,888.1 490.3,889.9 491.2,891.7 492.1,893.5 493.0,895.2 494.0,897.0 494.9,898.8 495.9,900.6 496.8,902.3 497.7,904.1 498.7,905.9 499.6,907.7 500.6,909.4 501.5,911.2 502.5,913.0 503.5,914.7 504.4,916.5 505.4,918.3 506.3,920.0 507.3,921.8 508.3,923.6 509.2,925.3 510.2,927.1 511.2,928.8 512.2,930.6 513.1,932.3 514.1,934.1 515.1,935.8 516.1,937.6 517.0,939.3 518.0,941.1 519.0,942.8 520.0,944.6 521.0,946.3 522.0,948.1 523.0,949.8 524.0,951.6 525.0,953.3 526.0,955.1 527.0,956.8 528.0,958.5 529.0,960.3 530.0,962.0 531.0,963.7 532.0,965.5 533.0,967.2 534.0,968.9 535.0,970.7 536.1,972.4 537.1,974.1 538.1,975.8 539.1,977.6 540.2,979.3 541.2,981.0 542.2,982.7 543.3,984.4 544.3,986.1 545.4,987.9 546.4,989.6 547.5,991.3 548.5,993.0 549.6,994.7 550.6,996.4 551.7,998.1 552.8,999.8 553.8,1001.5 554.9,1003.2 556.0,1004.9 557.0,1006.6 558.1,1008.2 559.2,1009.9 560.3,1011.6 561.4,1013.3 562.5,1015.0 563.6,1016.6 564.7,1018.3 565.8,1020.0 566.9,1021.7 568.0,1023.3 569.1,1025.0 570.2,1026.7 571.3,1028.3 572.5,1030.0 573.6,1031.6 574.7,1033.3 575.9,1034.9 577.0,1036.6 578.2,1038.2 579.3,1039.9 580.5,1041.5 581.6,1043.2 582.8,1044.8 583.9,1046.4 585.1,1048.1 586.3,1049.7 587.5,1051.3 588.6,1052.9 589.8,1054.6 591.0,1056.2 592.2,1057.8 593.4,1059.4 594.6,1061.0 595.8,1062.6 597.0,1064.3 598.2,1065.9 599.4,1067.5 600.6,1069.1 601.8,1070.7 603.0,1072.3 604.2,1073.9 605.4,1075.5 606.6,1077.1 607.8,1078.7 609.0,1080.4 610.2,1082.0 611.4,1083.6 612.6,1085.2 613.8,1086.8 615.0,1088.4 616.2,1090.0 617.4,1091.6 618.6,1093.3 619.8,1094.9 620.9,1096.5 622.1,1098.1 623.3,1099.8 624.5,1101.4 625.6,1103.0 626.8,1104.6 627.9,1106.3 629.1,1107.9 630.2,1109.6 631.4,1111.2 632.5,1112.9 633.6,1114.5 634.8,1116.2 635.9,1117.8 637.0,1119.5 638.1,1121.2 639.2,1122.8 640.3,1124.5 641.4,1126.2 642.4,1127.9 643.5,1129.6 644.5,1131.3 645.6,1133.0 646.6,1134.7 647.7,1136.4 648.7,1138.1 649.7,1139.9 650.7,1141.6 651.7,1143.3 652.7,1145.1 653.6,1146.8 654.6,1148.6 655.5,1150.4 656.5,1152.1 656.0,1154.7" fill="none" stroke="#d8d8d8" stroke-width="3.0" stroke-linejoin="round" stroke-linecap="round" stroke-dasharray="0.01 5.60"/>
<polyline points="171.0,1145.0 186.0,1080.0 203.8,980.0 221.0,930.0 229.5,893.5 234.9,877.5 243.4,865.7 256.2,854.0 262.7,834.8 268.5,813.0 275.4,792.0 284.0,770.7 300.0,730.0 318.8,686.0 318.8,686.0 334.0,780.0 357.9,880.0 387.0,980.0 422.5,1080.0 435.0,1112.5 445.0,1135.0 458.8,1151.0" fill="none" stroke="#f00" stroke-width="11" stroke-linejoin="round" stroke-linecap="round" />
<path d="M171.0,1137.4 L178.0,1150.0 L164.0,1150.0Z M172.3,1131.6 L179.3,1144.2 L165.3,1144.2Z M173.7,1125.7 L180.7,1138.3 L166.7,1138.3Z M175.0,1119.9 L182.0,1132.5 L168.0,1132.5Z M176.4,1114.1 L183.4,1126.7 L169.4,1126.7Z M177.7,1108.2 L184.7,1120.8 L170.7,1120.8Z M179.1,1102.4 L186.1,1115.0 L172.1,1115.0Z M180.4,1096.5 L187.4,1109.1 L173.4,1109.1Z M181.8,1090.7 L188.8,1103.3 L174.8,1103.3Z M183.1,1084.8 L190.1,1097.4 L176.1,1097.4Z M184.5,1079.0 L191.5,1091.6 L177.5,1091.6Z M185.8,1073.1 L192.8,1085.7 L178.8,1085.7Z M186.9,1067.2 L193.9,1079.8 L179.9,1079.8Z M188.0,1061.3 L195.0,1073.9 L181.0,1073.9Z M189.0,1055.4 L196.0,1068.0 L182.0,1068.0Z M190.1,1049.5 L197.1,1062.1 L183.1,1062.1Z M191.1,1043.6 L198.1,1056.2 L184.1,1056.2Z M192.2,1037.7 L199.2,1050.3 L185.2,1050.3Z M193.2,1031.8 L200.2,1044.4 L186.2,1044.4Z M194.3,1025.9 L201.3,1038.5 L187.3,1038.5Z M195.3,1020.0 L202.3,1032.6 L188.3,1032.6Z M196.4,1014.1 L203.4,1026.7 L189.4,1026.7Z M197.4,1008.2 L204.4,1020.8 L190.4,1020.8Z M198.5,1002.2 L205.5,1014.8 L191.5,1014.8Z M199.5,996.3 L206.5,1008.9 L192.5,1008.9Z M200.6,990.4 L207.6,1003.0 L193.6,1003.0Z M201.6,984.5 L208.6,997.1 L194.6,997.1Z M202.7,978.6 L209.7,991.2 L195.7,991.2Z M203.7,972.7 L210.7,985.3 L196.7,985.3Z M205.6,967.0 L212.6,979.6 L198.6,979.6Z M207.6,961.4 L214.6,974.0 L200.6,974.0Z M209.5,955.7 L216.5,968.3 L202.5,968.3Z M211.5,950.0 L218.5,962.6 L204.5,962.6Z M213.4,944.3 L220.4,956.9 L206.4,956.9Z M215.4,938.7 L222.4,951.3 L208.4,951.3Z M217.4,933.0 L224.4,945.6 L210.4,945.6Z M219.3,927.3 L226.3,939.9 L212.3,939.9Z M221.2,921.6 L228.2,934.2 L214.2,934.2Z M222.6,915.8 L229.6,928.4 L215.6,928.4Z M223.9,909.9 L230.9,922.5 L216.9,922.5Z M225.3,904.1 L232.3,916.7 L218.3,916.7Z M226.6,898.3 L233.6,910.9 L219.6,910.9Z M228.0,892.4 L235.0,905.0 L221.0,905.0Z M229.4,886.6 L236.4,899.2 L222.4,899.2Z M231.2,880.9 L238.2,893.5 L224.2,893.5Z M233.1,875.2 L240.1,887.8 L226.1,887.8Z M235.2,869.6 L242.2,882.2 L228.2,882.2Z M238.7,864.7 L245.7,877.3 L231.7,877.3Z M242.2,859.8 L249.2,872.4 L235.2,872.4Z M246.3,855.5 L253.3,868.1 L239.3,868.1Z M250.7,851.4 L257.7,864.0 L243.7,864.0Z M255.2,847.4 L262.2,860.0 L248.2,860.0Z M257.7,842.1 L264.7,854.7 L250.7,854.7Z M259.6,836.4 L266.6,849.0 L252.6,849.0Z M261.5,830.7 L268.5,843.3 L254.5,843.3Z M263.3,825.0 L270.3,837.6 L256.3,837.6Z M264.8,819.2 L271.8,831.8 L257.8,831.8Z M266.4,813.4 L273.4,826.0 L259.4,826.0Z M267.9,807.6 L274.9,820.2 L260.9,820.2Z M269.7,801.9 L276.7,814.5 L262.7,814.5Z M271.5,796.2 L278.5,808.8 L264.5,808.8Z M273.4,790.5 L280.4,803.1 L266.4,803.1Z M275.3,784.8 L282.3,797.4 L268.3,797.4Z M277.5,779.2 L284.5,791.8 L270.5,791.8Z M279.8,773.6 L286.8,786.2 L272.8,786.2Z M282.0,768.1 L289.0,780.7 L275.0,780.7Z M284.3,762.5 L291.3,775.1 L277.3,775.1Z M286.4,756.9 L293.4,769.5 L279.4,769.5Z M288.6,751.3 L295.6,763.9 L281.6,763.9Z M290.8,745.8 L297.8,758.4 L283.8,758.4Z M293.0,740.2 L300.0,752.8 L286.0,752.8Z M295.2,734.6 L302.2,747.2 L288.2,747.2Z M297.4,729.0 L304.4,741.6 L290.4,741.6Z M299.6,723.4 L306.6,736.0 L292.6,736.0Z M301.9,717.9 L308.9,730.5 L294.9,730.5Z M304.3,712.4 L311.3,725.0 L297.3,725.0Z M306.6,706.8 L313.6,719.4 L299.6,719.4Z M309.0,701.3 L316.0,713.9 L302.0,713.9Z M311.4,695.8 L318.4,708.4 L304.4,708.4Z M313.7,690.3 L320.7,702.9 L306.7,702.9Z M316.1,684.8 L323.1,697.4 L309.1,697.4Z M318.4,679.2 L325.4,691.8 L311.4,691.8Z M319.6,683.5 L326.6,696.1 L312.6,696.1Z M320.5,689.4 L327.5,702.0 L313.5,702.0Z M321.5,695.3 L328.5,707.9 L314.5,707.9Z M322.5,701.3 L329.5,713.9 L315.5,713.9Z M323.4,707.2 L330.4,719.8 L316.4,719.8Z M324.4,713.1 L331.4,725.7 L317.4,725.7Z M325.3,719.0 L332.3,731.6 L318.3,731.6Z M326.3,725.0 L333.3,737.6 L319.3,737.6Z M327.3,730.9 L334.3,743.5 L320.3,743.5Z M328.2,736.8 L335.2,749.4 L321.2,749.4Z M329.2,742.7 L336.2,755.3 L322.2,755.3Z M330.1,748.6 L337.1,761.2 L323.1,761.2Z M331.1,754.6 L338.1,767.2 L324.1,767.2Z M332.1,760.5 L339.1,773.1 L325.1,773.1Z M333.0,766.4 L340.0,779.0 L326.0,779.0Z M334.0,772.3 L341.0,784.9 L327.0,784.9Z M335.4,778.2 L342.4,790.8 L328.4,790.8Z M336.8,784.0 L343.8,796.6 L329.8,796.6Z M338.2,789.8 L345.2,802.4 L331.2,802.4Z M339.6,795.7 L346.6,808.3 L332.6,808.3Z M340.9,801.5 L347.9,814.1 L333.9,814.1Z M342.3,807.4 L349.3,820.0 L335.3,820.0Z M343.7,813.2 L350.7,825.8 L336.7,825.8Z M345.1,819.0 L352.1,831.6 L338.1,831.6Z M346.5,824.9 L353.5,837.5 L339.5,837.5Z M347.9,830.7 L354.9,843.3 L340.9,843.3Z M349.3,836.5 L356.3,849.1 L342.3,849.1Z M350.7,842.4 L357.7,855.0 L343.7,855.0Z M352.1,848.2 L359.1,860.8 L345.1,860.8Z M353.5,854.0 L360.5,866.6 L346.5,866.6Z M354.9,859.9 L361.9,872.5 L347.9,872.5Z M356.3,865.7 L363.3,878.3 L349.3,878.3Z M357.7,871.5 L364.7,884.1 L350.7,884.1Z M359.3,877.3 L366.3,889.9 L352.3,889.9Z M361.0,883.1 L368.0,895.7 L354.0,895.7Z M362.7,888.8 L369.7,901.4 L355.7,901.4Z M364.3,894.6 L371.3,907.2 L357.3,907.2Z M366.0,900.4 L373.0,913.0 L359.0,913.0Z M367.7,906.1 L374.7,918.7 L360.7,918.7Z M369.4,911.9 L376.4,924.5 L362.4,924.5Z M371.1,917.6 L378.1,930.2 L364.1,930.2Z M372.7,923.4 L379.7,936.0 L365.7,936.0Z M374.4,929.2 L381.4,941.8 L367.4,941.8Z M376.1,934.9 L383.1,947.5 L369.1,947.5Z M377.8,940.7 L384.8,953.3 L370.8,953.3Z M379.4,946.4 L386.4,959.0 L372.4,959.0Z M381.1,952.2 L388.1,964.8 L374.1,964.8Z M382.8,958.0 L389.8,970.6 L375.8,970.6Z M384.5,963.7 L391.5,976.3 L377.5,976.3Z M386.1,969.5 L393.1,982.1 L379.1,982.1Z M388.0,975.2 L395.0,987.8 L381.0,987.8Z M390.0,980.9 L397.0,993.5 L383.0,993.5Z M392.0,986.5 L399.0,999.1 L385.0,999.1Z M394.0,992.2 L401.0,1004.8 L387.0,1004.8Z M396.0,997.8 L403.0,1010.4 L389.0,1010.4Z M398.0,1003.5 L405.0,1016.1 L391.0,1016.1Z M400.0,1009.1 L407.0,1021.7 L393.0,1021.7Z M402.0,1014.8 L409.0,1027.4 L395.0,1027.4Z M404.0,1020.4 L411.0,1033.0 L397.0,1033.0Z M406.0,1026.1 L413.0,1038.7 L399.0,1038.7Z M408.1,1031.7 L415.1,1044.3 L401.1,1044.3Z M410.1,1037.4 L417.1,1050.0 L403.1,1050.0Z M412.1,1043.1 L419.1,1055.7 L405.1,1055.7Z M414.1,1048.7 L421.1,1061.3 L407.1,1061.3Z M416.1,1054.4 L423.1,1067.0 L409.1,1067.0Z M418.1,1060.0 L425.1,1072.6 L411.1,1072.6Z M420.1,1065.7 L427.1,1078.3 L413.1,1078.3Z M422.1,1071.3 L429.1,1083.9 L415.1,1083.9Z M424.2,1076.9 L431.2,1089.5 L417.2,1089.5Z M426.4,1082.5 L433.4,1095.1 L419.4,1095.1Z M428.5,1088.1 L435.5,1100.7 L421.5,1100.7Z M430.7,1093.7 L437.7,1106.3 L423.7,1106.3Z M432.8,1099.3 L439.8,1111.9 L425.8,1111.9Z M435.0,1104.9 L442.0,1117.5 L428.0,1117.5Z M437.4,1110.4 L444.4,1123.0 L430.4,1123.0Z M439.9,1115.9 L446.9,1128.5 L432.9,1128.5Z M442.3,1121.4 L449.3,1134.0 L435.3,1134.0Z M444.7,1126.9 L451.7,1139.5 L437.7,1139.5Z M448.5,1131.5 L455.5,1144.1 L441.5,1144.1Z M452.4,1136.1 L459.4,1148.7 L445.4,1148.7Z M456.3,1140.6 L463.3,1153.2 L449.3,1153.2Z" fill="#f00"/>
<polyline points="171.2,1160.0 179.0,1080.0 191.0,980.0 197.5,930.0 213.0,880.0 217.5,865.0 227.5,852.5 234.0,805.0 240.3,780.0 247.0,750.0 255.0,718.0 255.0,718.0 259.4,780.0 274.0,880.0 294.0,980.0 317.0,1080.0 328.8,1152.5" fill="none" stroke="#0f0" stroke-width="8" stroke-linejoin="round" stroke-linecap="round" />
<path d="M171.2,1153.2 L173.0,1157.5 L177.7,1157.9 L174.2,1160.9 L175.2,1165.5 L171.2,1163.1 L167.3,1165.5 L168.3,1160.9 L164.8,1157.9 L169.5,1157.5Z M171.9,1146.2 L173.7,1150.6 L178.4,1150.9 L174.8,1154.0 L175.9,1158.5 L171.9,1156.1 L167.9,1158.5 L169.0,1154.0 L165.5,1150.9 L170.1,1150.6Z M172.6,1139.3 L174.4,1143.6 L179.1,1144.0 L175.5,1147.0 L176.6,1151.6 L172.6,1149.1 L168.6,1151.6 L169.7,1147.0 L166.1,1144.0 L170.8,1143.6Z M173.3,1132.3 L175.1,1136.6 L179.7,1137.0 L176.2,1140.0 L177.3,1144.6 L173.3,1142.2 L169.3,1144.6 L170.4,1140.0 L166.8,1137.0 L171.5,1136.6Z M173.9,1125.3 L175.7,1129.7 L180.4,1130.0 L176.9,1133.1 L177.9,1137.6 L173.9,1135.2 L170.0,1137.6 L171.0,1133.1 L167.5,1130.0 L172.2,1129.7Z M174.6,1118.4 L176.4,1122.7 L181.1,1123.1 L177.5,1126.1 L178.6,1130.7 L174.6,1128.2 L170.6,1130.7 L171.7,1126.1 L168.2,1123.1 L172.8,1122.7Z M175.3,1111.4 L177.1,1115.7 L181.8,1116.1 L178.2,1119.1 L179.3,1123.7 L175.3,1121.3 L171.3,1123.7 L172.4,1119.1 L168.8,1116.1 L173.5,1115.7Z M176.0,1104.4 L177.8,1108.8 L182.4,1109.1 L178.9,1112.2 L180.0,1116.7 L176.0,1114.3 L172.0,1116.7 L173.1,1112.2 L169.5,1109.1 L174.2,1108.8Z M176.6,1097.5 L178.4,1101.8 L183.1,1102.2 L179.6,1105.2 L180.6,1109.8 L176.6,1107.3 L172.7,1109.8 L173.7,1105.2 L170.2,1102.2 L174.9,1101.8Z M177.3,1090.5 L179.1,1094.8 L183.8,1095.2 L180.2,1098.2 L181.3,1102.8 L177.3,1100.4 L173.3,1102.8 L174.4,1098.2 L170.9,1095.2 L175.5,1094.8Z M178.0,1083.5 L179.8,1087.9 L184.5,1088.2 L180.9,1091.3 L182.0,1095.8 L178.0,1093.4 L174.0,1095.8 L175.1,1091.3 L171.5,1088.2 L176.2,1087.9Z M178.7,1076.6 L180.5,1080.9 L185.1,1081.3 L181.6,1084.3 L182.7,1088.9 L178.7,1086.4 L174.7,1088.9 L175.8,1084.3 L172.2,1081.3 L176.9,1080.9Z M179.4,1069.6 L181.2,1073.9 L185.9,1074.3 L182.3,1077.3 L183.4,1081.9 L179.4,1079.5 L175.4,1081.9 L176.5,1077.3 L173.0,1074.3 L177.6,1073.9Z M180.3,1062.7 L182.1,1067.0 L186.7,1067.3 L183.2,1070.4 L184.3,1075.0 L180.3,1072.5 L176.3,1075.0 L177.4,1070.4 L173.8,1067.3 L178.5,1067.0Z M181.1,1055.7 L182.9,1060.0 L187.6,1060.4 L184.0,1063.4 L185.1,1068.0 L181.1,1065.6 L177.1,1068.0 L178.2,1063.4 L174.6,1060.4 L179.3,1060.0Z M181.9,1048.7 L183.7,1053.1 L188.4,1053.4 L184.8,1056.5 L185.9,1061.1 L181.9,1058.6 L177.9,1061.1 L179.0,1056.5 L175.5,1053.4 L180.1,1053.1Z M182.8,1041.8 L184.6,1046.1 L189.2,1046.5 L185.7,1049.5 L186.8,1054.1 L182.8,1051.7 L178.8,1054.1 L179.9,1049.5 L176.3,1046.5 L181.0,1046.1Z M183.6,1034.8 L185.4,1039.2 L190.1,1039.5 L186.5,1042.6 L187.6,1047.2 L183.6,1044.7 L179.6,1047.2 L180.7,1042.6 L177.1,1039.5 L181.8,1039.2Z M184.4,1027.9 L186.2,1032.2 L190.9,1032.6 L187.3,1035.6 L188.4,1040.2 L184.4,1037.8 L180.4,1040.2 L181.5,1035.6 L178.0,1032.6 L182.6,1032.2Z M185.3,1020.9 L187.1,1025.3 L191.7,1025.6 L188.2,1028.7 L189.3,1033.3 L185.3,1030.8 L181.3,1033.3 L182.4,1028.7 L178.8,1025.6 L183.5,1025.3Z M186.1,1014.0 L187.9,1018.3 L192.6,1018.7 L189.0,1021.7 L190.1,1026.3 L186.1,1023.9 L182.1,1026.3 L183.2,1021.7 L179.6,1018.7 L184.3,1018.3Z M186.9,1007.0 L188.7,1011.4 L193.4,1011.7 L189.8,1014.8 L190.9,1019.4 L186.9,1016.9 L182.9,1019.4 L184.0,1014.8 L180.5,1011.7 L185.1,1011.4Z M187.8,1000.1 L189.6,1004.4 L194.2,1004.8 L190.7,1007.8 L191.8,1012.4 L187.8,1010.0 L183.8,1012.4 L184.9,1007.8 L181.3,1004.8 L186.0,1004.4Z M188.6,993.1 L190.4,997.5 L195.1,997.8 L191.5,1000.9 L192.6,1005.5 L188.6,1003.0 L184.6,1005.5 L185.7,1000.9 L182.1,997.8 L186.8,997.5Z M189.4,986.2 L191.2,990.5 L195.9,990.9 L192.4,993.9 L193.4,998.5 L189.4,996.1 L185.4,998.5 L186.5,993.9 L183.0,990.9 L187.6,990.5Z M190.3,979.2 L192.1,983.6 L196.7,983.9 L193.2,987.0 L194.3,991.5 L190.3,989.1 L186.3,991.5 L187.4,987.0 L183.8,983.9 L188.5,983.6Z M191.1,972.3 L192.9,976.6 L197.6,977.0 L194.0,980.0 L195.1,984.6 L191.1,982.2 L187.1,984.6 L188.2,980.0 L184.6,977.0 L189.3,976.6Z M192.0,965.4 L193.8,969.7 L198.5,970.1 L194.9,973.1 L196.0,977.7 L192.0,975.2 L188.0,977.7 L189.1,973.1 L185.6,970.1 L190.2,969.7Z M192.9,958.4 L194.7,962.7 L199.4,963.1 L195.8,966.2 L196.9,970.7 L192.9,968.3 L188.9,970.7 L190.0,966.2 L186.5,963.1 L191.1,962.7Z M193.8,951.5 L195.6,955.8 L200.3,956.2 L196.7,959.2 L197.8,963.8 L193.8,961.3 L189.8,963.8 L190.9,959.2 L187.4,956.2 L192.0,955.8Z M194.7,944.5 L196.5,948.9 L201.2,949.2 L197.6,952.3 L198.7,956.8 L194.7,954.4 L190.7,956.8 L191.8,952.3 L188.3,949.2 L192.9,948.9Z M195.6,937.6 L197.4,941.9 L202.1,942.3 L198.5,945.3 L199.6,949.9 L195.6,947.5 L191.6,949.9 L192.7,945.3 L189.2,942.3 L193.8,941.9Z M196.5,930.6 L198.3,935.0 L203.0,935.3 L199.4,938.4 L200.5,943.0 L196.5,940.5 L192.5,943.0 L193.6,938.4 L190.1,935.3 L194.7,935.0Z M197.4,923.7 L199.2,928.0 L203.9,928.4 L200.3,931.5 L201.4,936.0 L197.4,933.6 L193.4,936.0 L194.5,931.5 L191.0,928.4 L195.6,928.0Z M199.4,917.0 L201.2,921.3 L205.9,921.7 L202.3,924.7 L203.4,929.3 L199.4,926.9 L195.4,929.3 L196.5,924.7 L193.0,921.7 L197.6,921.3Z M201.5,910.3 L203.3,914.6 L208.0,915.0 L204.4,918.1 L205.5,922.6 L201.5,920.2 L197.5,922.6 L198.6,918.1 L195.0,915.0 L199.7,914.6Z M203.6,903.6 L205.4,908.0 L210.0,908.3 L206.5,911.4 L207.6,915.9 L203.6,913.5 L199.6,915.9 L200.7,911.4 L197.1,908.3 L201.8,908.0Z M205.6,896.9 L207.4,901.3 L212.1,901.6 L208.5,904.7 L209.6,909.2 L205.6,906.8 L201.6,909.2 L202.7,904.7 L199.2,901.6 L203.8,901.3Z M207.7,890.3 L209.5,894.6 L214.2,895.0 L210.6,898.0 L211.7,902.6 L207.7,900.1 L203.7,902.6 L204.8,898.0 L201.2,895.0 L205.9,894.6Z M209.8,883.6 L211.6,887.9 L216.3,888.3 L212.7,891.3 L213.8,895.9 L209.8,893.4 L205.8,895.9 L206.9,891.3 L203.3,888.3 L208.0,887.9Z M211.9,876.9 L213.7,881.2 L218.3,881.6 L214.8,884.6 L215.9,889.2 L211.9,886.7 L207.9,889.2 L208.9,884.6 L205.4,881.6 L210.1,881.2Z M213.9,870.2 L215.7,874.5 L220.4,874.9 L216.8,877.9 L217.9,882.5 L213.9,880.1 L209.9,882.5 L211.0,877.9 L207.4,874.9 L212.1,874.5Z M215.9,863.5 L217.7,867.8 L222.4,868.2 L218.8,871.2 L219.9,875.8 L215.9,873.3 L211.9,875.8 L213.0,871.2 L209.4,868.2 L214.1,867.8Z M218.4,857.0 L220.2,861.4 L224.9,861.7 L221.3,864.8 L222.4,869.3 L218.4,866.9 L214.4,869.3 L215.5,864.8 L212.0,861.7 L216.6,861.4Z M222.8,851.6 L224.6,855.9 L229.3,856.3 L225.7,859.3 L226.8,863.9 L222.8,861.4 L218.8,863.9 L219.9,859.3 L216.3,856.3 L221.0,855.9Z M227.2,846.1 L229.0,850.4 L233.6,850.8 L230.1,853.9 L231.2,858.4 L227.2,856.0 L223.2,858.4 L224.3,853.9 L220.7,850.8 L225.4,850.4Z M228.4,839.3 L230.2,843.6 L234.8,844.0 L231.3,847.0 L232.4,851.6 L228.4,849.1 L224.4,851.6 L225.5,847.0 L221.9,844.0 L226.6,843.6Z M229.3,832.4 L231.1,836.7 L235.8,837.1 L232.2,840.1 L233.3,844.7 L229.3,842.2 L225.3,844.7 L226.4,840.1 L222.9,837.1 L227.5,836.7Z M230.3,825.4 L232.1,829.7 L236.7,830.1 L233.2,833.2 L234.3,837.7 L230.3,835.3 L226.3,837.7 L227.4,833.2 L223.8,830.1 L228.5,829.7Z M231.2,818.5 L233.0,822.8 L237.7,823.2 L234.1,826.2 L235.2,830.8 L231.2,828.3 L227.2,830.8 L228.3,826.2 L224.8,823.2 L229.4,822.8Z M232.2,811.5 L234.0,815.9 L238.6,816.2 L235.1,819.3 L236.2,823.8 L232.2,821.4 L228.2,823.8 L229.3,819.3 L225.7,816.2 L230.4,815.9Z M233.1,804.6 L234.9,808.9 L239.6,809.3 L236.0,812.4 L237.1,816.9 L233.1,814.5 L229.1,816.9 L230.2,812.4 L226.7,809.3 L231.3,808.9Z M234.1,797.7 L235.9,802.0 L240.6,802.4 L237.0,805.4 L238.1,810.0 L234.1,807.5 L230.1,810.0 L231.2,805.4 L227.7,802.4 L232.3,802.0Z M235.8,790.9 L237.6,795.2 L242.3,795.6 L238.8,798.6 L239.8,803.2 L235.8,800.8 L231.8,803.2 L232.9,798.6 L229.4,795.6 L234.0,795.2Z M237.6,784.1 L239.3,788.4 L244.0,788.8 L240.5,791.9 L241.5,796.4 L237.6,794.0 L233.6,796.4 L234.6,791.9 L231.1,788.8 L235.8,788.4Z M239.3,777.3 L241.1,781.6 L245.7,782.0 L242.2,785.1 L243.3,789.6 L239.3,787.2 L235.3,789.6 L236.4,785.1 L232.8,782.0 L237.5,781.6Z M240.9,770.5 L242.7,774.8 L247.4,775.2 L243.8,778.3 L244.9,782.8 L240.9,780.4 L236.9,782.8 L238.0,778.3 L234.4,775.2 L239.1,774.8Z M242.4,763.7 L244.2,768.0 L248.9,768.4 L245.3,771.4 L246.4,776.0 L242.4,773.5 L238.4,776.0 L239.5,771.4 L236.0,768.4 L240.6,768.0Z M244.0,756.9 L245.7,761.2 L250.4,761.6 L246.9,764.6 L247.9,769.2 L244.0,766.7 L240.0,769.2 L241.0,764.6 L237.5,761.6 L242.2,761.2Z M245.5,750.0 L247.3,754.3 L251.9,754.7 L248.4,757.8 L249.5,762.3 L245.5,759.9 L241.5,762.3 L242.6,757.8 L239.0,754.7 L243.7,754.3Z M247.0,743.2 L248.8,747.5 L253.5,747.9 L249.9,750.9 L251.0,755.5 L247.0,753.1 L243.0,755.5 L244.1,750.9 L240.5,747.9 L245.2,747.5Z M248.7,736.4 L250.5,740.7 L255.2,741.1 L251.6,744.1 L252.7,748.7 L248.7,746.3 L244.7,748.7 L245.8,744.1 L242.2,741.1 L246.9,740.7Z M250.4,729.6 L252.2,733.9 L256.9,734.3 L253.3,737.4 L254.4,741.9 L250.4,739.5 L246.4,741.9 L247.5,737.4 L243.9,734.3 L248.6,733.9Z M252.1,722.8 L253.9,727.1 L258.6,727.5 L255.0,730.6 L256.1,735.1 L252.1,732.7 L248.1,735.1 L249.2,730.6 L245.6,727.5 L250.3,727.1Z M253.8,716.0 L255.6,720.4 L260.3,720.7 L256.7,723.8 L257.8,728.3 L253.8,725.9 L249.8,728.3 L250.9,723.8 L247.3,720.7 L252.0,720.4Z M255.1,713.2 L256.9,717.5 L261.6,717.9 L258.1,721.0 L259.1,725.5 L255.1,723.1 L251.1,725.5 L252.2,721.0 L248.7,717.9 L253.3,717.5Z M255.6,720.2 L257.4,724.5 L262.1,724.9 L258.5,727.9 L259.6,732.5 L255.6,730.1 L251.6,732.5 L252.7,727.9 L249.2,724.9 L253.8,724.5Z M256.1,727.2 L257.9,731.5 L262.6,731.9 L259.0,734.9 L260.1,739.5 L256.1,737.0 L252.1,739.5 L253.2,734.9 L249.7,731.9 L254.3,731.5Z M256.6,734.2 L258.4,738.5 L263.1,738.9 L259.5,741.9 L260.6,746.5 L256.6,744.0 L252.6,746.5 L253.7,741.9 L250.2,738.9 L254.8,738.5Z M257.1,741.1 L258.9,745.5 L263.6,745.8 L260.0,748.9 L261.1,753.4 L257.1,751.0 L253.1,753.4 L254.2,748.9 L250.7,745.8 L255.3,745.5Z M257.6,748.1 L259.4,752.5 L264.1,752.8 L260.5,755.9 L261.6,760.4 L257.6,758.0 L253.6,760.4 L254.7,755.9 L251.2,752.8 L255.8,752.5Z M258.1,755.1 L259.9,759.4 L264.6,759.8 L261.0,762.9 L262.1,767.4 L258.1,765.0 L254.1,767.4 L255.2,762.9 L251.6,759.8 L256.3,759.4Z M258.6,762.1 L260.4,766.4 L265.1,766.8 L261.5,769.8 L262.6,774.4 L258.6,772.0 L254.6,774.4 L255.7,769.8 L252.1,766.8 L256.8,766.4Z M259.1,769.1 L260.9,773.4 L265.6,773.8 L262.0,776.8 L263.1,781.4 L259.1,778.9 L255.1,781.4 L256.2,776.8 L252.6,773.8 L257.3,773.4Z M259.8,776.0 L261.6,780.4 L266.3,780.7 L262.7,783.8 L263.8,788.3 L259.8,785.9 L255.8,788.3 L256.9,783.8 L253.3,780.7 L258.0,780.4Z M260.8,783.0 L262.6,787.3 L267.3,787.7 L263.7,790.7 L264.8,795.3 L260.8,792.8 L256.8,795.3 L257.9,790.7 L254.4,787.7 L259.0,787.3Z M261.8,789.9 L263.6,794.2 L268.3,794.6 L264.7,797.6 L265.8,802.2 L261.8,799.8 L257.8,802.2 L258.9,797.6 L255.4,794.6 L260.0,794.2Z M262.8,796.8 L264.6,801.1 L269.3,801.5 L265.8,804.6 L266.8,809.1 L262.8,806.7 L258.9,809.1 L259.9,804.6 L256.4,801.5 L261.0,801.1Z M263.9,803.7 L265.7,808.1 L270.3,808.4 L266.8,811.5 L267.9,816.0 L263.9,813.6 L259.9,816.0 L260.9,811.5 L257.4,808.4 L262.1,808.1Z M264.9,810.7 L266.7,815.0 L271.3,815.4 L267.8,818.4 L268.9,823.0 L264.9,820.5 L260.9,823.0 L262.0,818.4 L258.4,815.4 L263.1,815.0Z M265.9,817.6 L267.7,821.9 L272.3,822.3 L268.8,825.3 L269.9,829.9 L265.9,827.5 L261.9,829.9 L263.0,825.3 L259.4,822.3 L264.1,821.9Z M266.9,824.5 L268.7,828.8 L273.4,829.2 L269.8,832.3 L270.9,836.8 L266.9,834.4 L262.9,836.8 L264.0,832.3 L260.4,829.2 L265.1,828.8Z M267.9,831.5 L269.7,835.8 L274.4,836.1 L270.8,839.2 L271.9,843.8 L267.9,841.3 L263.9,843.8 L265.0,839.2 L261.4,836.1 L266.1,835.8Z M268.9,838.4 L270.7,842.7 L275.4,843.1 L271.8,846.1 L272.9,850.7 L268.9,848.2 L264.9,850.7 L266.0,846.1 L262.4,843.1 L267.1,842.7Z M269.9,845.3 L271.7,849.6 L276.4,850.0 L272.8,853.0 L273.9,857.6 L269.9,855.2 L265.9,857.6 L267.0,853.0 L263.5,850.0 L268.1,849.6Z M270.9,852.2 L272.7,856.6 L277.4,856.9 L273.8,860.0 L274.9,864.5 L270.9,862.1 L266.9,864.5 L268.0,860.0 L264.5,856.9 L269.1,856.6Z M271.9,859.2 L273.7,863.5 L278.4,863.9 L274.9,866.9 L275.9,871.5 L271.9,869.0 L268.0,871.5 L269.0,866.9 L265.5,863.9 L270.2,863.5Z M273.0,866.1 L274.8,870.4 L279.4,870.8 L275.9,873.8 L277.0,878.4 L273.0,875.9 L269.0,878.4 L270.1,873.8 L266.5,870.8 L271.2,870.4Z M274.0,873.0 L275.8,877.3 L280.4,877.7 L276.9,880.8 L278.0,885.3 L274.0,882.9 L270.0,885.3 L271.1,880.8 L267.5,877.7 L272.2,877.3Z M275.3,879.9 L277.1,884.2 L281.8,884.6 L278.2,887.6 L279.3,892.2 L275.3,889.7 L271.3,892.2 L272.4,887.6 L268.9,884.6 L273.5,884.2Z M276.7,886.7 L278.5,891.1 L283.2,891.4 L279.6,894.5 L280.7,899.0 L276.7,896.6 L272.7,899.0 L273.8,894.5 L270.2,891.4 L274.9,891.1Z M278.1,893.6 L279.9,897.9 L284.5,898.3 L281.0,901.3 L282.1,905.9 L278.1,903.5 L274.1,905.9 L275.2,901.3 L271.6,898.3 L276.3,897.9Z M279.5,900.5 L281.3,904.8 L285.9,905.2 L282.4,908.2 L283.5,912.8 L279.5,910.3 L275.5,912.8 L276.5,908.2 L273.0,905.2 L277.7,904.8Z M280.8,907.3 L282.6,911.7 L287.3,912.0 L283.7,915.1 L284.8,919.6 L280.8,917.2 L276.8,919.6 L277.9,915.1 L274.4,912.0 L279.0,911.7Z M282.2,914.2 L284.0,918.5 L288.7,918.9 L285.1,921.9 L286.2,926.5 L282.2,924.1 L278.2,926.5 L279.3,921.9 L275.7,918.9 L280.4,918.5Z M283.6,921.1 L285.4,925.4 L290.0,925.8 L286.5,928.8 L287.6,933.4 L283.6,930.9 L279.6,933.4 L280.7,928.8 L277.1,925.8 L281.8,925.4Z M284.9,927.9 L286.7,932.2 L291.4,932.6 L287.9,935.7 L288.9,940.2 L284.9,937.8 L280.9,940.2 L282.0,935.7 L278.5,932.6 L283.1,932.2Z M286.3,934.8 L288.1,939.1 L292.8,939.5 L289.2,942.5 L290.3,947.1 L286.3,944.6 L282.3,947.1 L283.4,942.5 L279.9,939.5 L284.5,939.1Z M287.7,941.7 L289.5,946.0 L294.2,946.4 L290.6,949.4 L291.7,954.0 L287.7,951.5 L283.7,954.0 L284.8,949.4 L281.2,946.4 L285.9,946.0Z M289.1,948.5 L290.9,952.8 L295.5,953.2 L292.0,956.3 L293.1,960.8 L289.1,958.4 L285.1,960.8 L286.2,956.3 L282.6,953.2 L287.3,952.8Z M290.4,955.4 L292.2,959.7 L296.9,960.1 L293.3,963.1 L294.4,967.7 L290.4,965.2 L286.4,967.7 L287.5,963.1 L284.0,960.1 L288.6,959.7Z M291.8,962.2 L293.6,966.6 L298.3,966.9 L294.7,970.0 L295.8,974.5 L291.8,972.1 L287.8,974.5 L288.9,970.0 L285.3,966.9 L290.0,966.6Z M293.2,969.1 L295.0,973.4 L299.6,973.8 L296.1,976.9 L297.2,981.4 L293.2,979.0 L289.2,981.4 L290.3,976.9 L286.7,973.8 L291.4,973.4Z M294.6,976.0 L296.4,980.3 L301.1,980.7 L297.5,983.7 L298.6,988.3 L294.6,985.8 L290.6,988.3 L291.7,983.7 L288.2,980.7 L292.8,980.3Z M296.2,982.8 L298.0,987.1 L302.7,987.5 L299.1,990.5 L300.2,995.1 L296.2,992.6 L292.2,995.1 L293.3,990.5 L289.7,987.5 L294.4,987.1Z M297.8,989.6 L299.6,993.9 L304.2,994.3 L300.7,997.3 L301.8,1001.9 L297.8,999.5 L293.8,1001.9 L294.9,997.3 L291.3,994.3 L296.0,993.9Z M299.3,996.4 L301.1,1000.7 L305.8,1001.1 L302.3,1004.2 L303.3,1008.7 L299.3,1006.3 L295.3,1008.7 L296.4,1004.2 L292.9,1001.1 L297.5,1000.7Z M300.9,1003.2 L302.7,1007.6 L307.4,1007.9 L303.8,1011.0 L304.9,1015.5 L300.9,1013.1 L296.9,1015.5 L298.0,1011.0 L294.4,1007.9 L299.1,1007.6Z M302.5,1010.1 L304.3,1014.4 L308.9,1014.8 L305.4,1017.8 L306.5,1022.4 L302.5,1019.9 L298.5,1022.4 L299.6,1017.8 L296.0,1014.8 L300.7,1014.4Z M304.0,1016.9 L305.8,1021.2 L310.5,1021.6 L307.0,1024.6 L308.0,1029.2 L304.0,1026.7 L300.1,1029.2 L301.1,1024.6 L297.6,1021.6 L302.2,1021.2Z M305.6,1023.7 L307.4,1028.0 L312.1,1028.4 L308.5,1031.5 L309.6,1036.0 L305.6,1033.6 L301.6,1036.0 L302.7,1031.5 L299.1,1028.4 L303.8,1028.0Z M307.2,1030.5 L309.0,1034.9 L313.7,1035.2 L310.1,1038.3 L311.2,1042.8 L307.2,1040.4 L303.2,1042.8 L304.3,1038.3 L300.7,1035.2 L305.4,1034.9Z M308.8,1037.4 L310.6,1041.7 L315.2,1042.1 L311.7,1045.1 L312.8,1049.7 L308.8,1047.2 L304.8,1049.7 L305.8,1045.1 L302.3,1042.1 L307.0,1041.7Z M310.3,1044.2 L312.1,1048.5 L316.8,1048.9 L313.2,1051.9 L314.3,1056.5 L310.3,1054.0 L306.3,1056.5 L307.4,1051.9 L303.9,1048.9 L308.5,1048.5Z M311.9,1051.0 L313.7,1055.3 L318.4,1055.7 L314.8,1058.7 L315.9,1063.3 L311.9,1060.9 L307.9,1063.3 L309.0,1058.7 L305.4,1055.7 L310.1,1055.3Z M313.5,1057.8 L315.3,1062.1 L319.9,1062.5 L316.4,1065.6 L317.5,1070.1 L313.5,1067.7 L309.5,1070.1 L310.6,1065.6 L307.0,1062.5 L311.7,1062.1Z M315.0,1064.6 L316.8,1069.0 L321.5,1069.3 L317.9,1072.4 L319.0,1076.9 L315.0,1074.5 L311.0,1076.9 L312.1,1072.4 L308.6,1069.3 L313.2,1069.0Z M316.6,1071.5 L318.4,1075.8 L323.1,1076.2 L319.5,1079.2 L320.6,1083.8 L316.6,1081.3 L312.6,1083.8 L313.7,1079.2 L310.1,1076.2 L314.8,1075.8Z M317.8,1078.3 L319.6,1082.7 L324.3,1083.0 L320.7,1086.1 L321.8,1090.7 L317.8,1088.2 L313.8,1090.7 L314.9,1086.1 L311.4,1083.0 L316.0,1082.7Z M319.0,1085.3 L320.8,1089.6 L325.4,1090.0 L321.9,1093.0 L323.0,1097.6 L319.0,1095.1 L315.0,1097.6 L316.0,1093.0 L312.5,1090.0 L317.2,1089.6Z M320.1,1092.2 L321.9,1096.5 L326.5,1096.9 L323.0,1099.9 L324.1,1104.5 L320.1,1102.0 L316.1,1104.5 L317.2,1099.9 L313.6,1096.9 L318.3,1096.5Z M321.2,1099.1 L323.0,1103.4 L327.7,1103.8 L324.1,1106.8 L325.2,1111.4 L321.2,1108.9 L317.2,1111.4 L318.3,1106.8 L314.7,1103.8 L319.4,1103.4Z M322.3,1106.0 L324.1,1110.3 L328.8,1110.7 L325.2,1113.7 L326.3,1118.3 L322.3,1115.8 L318.3,1118.3 L319.4,1113.7 L315.8,1110.7 L320.5,1110.3Z M323.4,1112.9 L325.2,1117.2 L329.9,1117.6 L326.3,1120.6 L327.4,1125.2 L323.4,1122.8 L319.4,1125.2 L320.5,1120.6 L317.0,1117.6 L321.6,1117.2Z M324.6,1119.8 L326.4,1124.1 L331.0,1124.5 L327.5,1127.6 L328.6,1132.1 L324.6,1129.7 L320.6,1132.1 L321.6,1127.6 L318.1,1124.5 L322.8,1124.1Z M325.7,1126.7 L327.5,1131.0 L332.1,1131.4 L328.6,1134.5 L329.7,1139.0 L325.7,1136.6 L321.7,1139.0 L322.8,1134.5 L319.2,1131.4 L323.9,1131.0Z M326.8,1133.6 L328.6,1138.0 L333.3,1138.3 L329.7,1141.4 L330.8,1145.9 L326.8,1143.5 L322.8,1145.9 L323.9,1141.4 L320.3,1138.3 L325.0,1138.0Z M327.9,1140.5 L329.7,1144.9 L334.4,1145.2 L330.8,1148.3 L331.9,1152.8 L327.9,1150.4 L323.9,1152.8 L325.0,1148.3 L321.4,1145.2 L326.1,1144.9Z" fill="#0f0"/>
<polyline points="171.2,1147.0 174.0,1080.0 180.0,980.0 188.8,880.0 194.5,780.0 200.6,707.0 200.6,707.0 203.5,780.0 206.5,880.0 210.5,980.0 215.0,1080.0 217.5,1098.0 220.0,1130.0 221.0,1162.0" fill="none" stroke="#00f" stroke-width="7" stroke-linejoin="round" stroke-linecap="round" />
<path d="M200.6,715.6 L207.6,703.0 L193.6,703.0Z" fill="#00f"/>
<path d="M171.2,1154.6 L178.2,1142.0 L164.2,1142.0Z M173.0,1112.6 L180.0,1100.0 L166.0,1100.0Z M175.0,1070.6 L182.0,1058.0 L168.0,1058.0Z M177.5,1028.7 L184.5,1016.1 L170.5,1016.1Z M180.1,986.8 L187.1,974.2 L173.1,974.2Z M183.7,945.0 L190.7,932.4 L176.7,932.4Z M187.4,903.1 L194.4,890.5 L180.4,890.5Z M190.3,861.2 L197.3,848.6 L183.3,848.6Z M192.7,819.3 L199.7,806.7 L185.7,806.7Z M195.4,777.4 L202.4,764.8 L188.4,764.8Z M198.8,735.5 L205.8,722.9 L191.8,722.9Z" fill="#00f"/>
<path d="M221.0,1169.6 L228.0,1157.0 L214.0,1157.0Z M219.2,1127.6 L226.2,1115.0 L212.2,1115.0Z M214.9,1085.8 L221.9,1073.2 L207.9,1073.2Z M213.0,1043.9 L220.0,1031.3 L206.0,1031.3Z M211.1,1001.9 L218.1,989.3 L204.1,989.3Z M209.4,960.0 L216.4,947.4 L202.4,947.4Z M207.7,918.0 L214.7,905.4 L200.7,905.4Z M206.2,876.0 L213.2,863.4 L199.2,863.4Z M204.9,834.1 L211.9,821.5 L197.9,821.5Z M203.6,792.1 L210.6,779.5 L196.6,779.5Z M202.0,750.1 L209.0,737.5 L195.0,737.5Z" fill="#00f"/>
<line x1="507" y1="690" x2="590" y2="690" stroke="#000" stroke-width="6.5"/>
<ellipse cx="548.5" cy="690" rx="5.5" ry="6.8" fill="#000"/>
<circle cx="547.3" cy="687.5" r="1.6" fill="#bbb"/>
<text transform="translate(595.29,700.80) scale(1.0630,1)" font-family="'Liberation Serif','Times New Roman',serif" font-size="33.10" fill="#000">0.03 mA/cm</text>
<text transform="translate(771.68,682.80) scale(1.0000,1)" font-family="'Liberation Serif','Times New Roman',serif" font-size="20.40" fill="#000">2</text>
<line x1="507" y1="739.5" x2="590" y2="739.5" stroke="#0f0" stroke-width="6.5"/>
<path d="M548.5,733.0 L550.0,737.4 L554.7,737.5 L551.0,740.3 L552.3,744.8 L548.5,742.1 L544.7,744.8 L546.0,740.3 L542.3,737.5 L547.0,737.4Z" fill="#0f0"/>
<text transform="translate(595.29,750.30) scale(1.0630,1)" font-family="'Liberation Serif','Times New Roman',serif" font-size="33.10" fill="#000">0.05 mA/cm</text>
<text transform="translate(771.68,732.30) scale(1.0000,1)" font-family="'Liberation Serif','Times New Roman',serif" font-size="20.40" fill="#000">2</text>
<line x1="507" y1="788.25" x2="590" y2="788.25" stroke="#f00" stroke-width="6.5"/>
<path d="M548.5,779.25 L556.5,793.05 L540.5,793.05Z" fill="#f00"/>
<text transform="translate(595.29,799.05) scale(1.0630,1)" font-family="'Liberation Serif','Times New Roman',serif" font-size="33.10" fill="#000">0.10 mA/cm</text>
<text transform="translate(771.68,781.05) scale(1.0000,1)" font-family="'Liberation Serif','Times New Roman',serif" font-size="20.40" fill="#000">2</text>
<line x1="507" y1="835.5" x2="590" y2="835.5" stroke="#00f" stroke-width="6.5"/>
<path d="M540.3,830.7 L556.7,830.7 L548.5,845.1Z" fill="#00f"/>
<text transform="translate(595.29,846.30) scale(1.0630,1)" font-family="'Liberation Serif','Times New Roman',serif" font-size="33.10" fill="#000">0.30 mA/cm</text>
<text transform="translate(771.68,828.30) scale(1.0000,1)" font-family="'Liberation Serif','Times New Roman',serif" font-size="20.40" fill="#000">2</text>
<text transform="translate(908.48,1210.50) scale(1.0000,1)" font-family="'Liberation Serif','Times New Roman',serif" font-size="43.30" fill="#000">0</text>
<text transform="translate(886.83,1113.00) scale(1.0000,1)" font-family="'Liberation Serif','Times New Roman',serif" font-size="43.30" fill="#000">20</text>
<text transform="translate(886.83,1015.50) scale(1.0000,1)" font-family="'Liberation Serif','Times New Roman',serif" font-size="43.30" fill="#000">40</text>
<text transform="translate(886.83,918.00) scale(1.0000,1)" font-family="'Liberation Serif','Times New Roman',serif" font-size="43.30" fill="#000">60</text>
<text transform="translate(886.83,820.50) scale(1.0000,1)" font-family="'Liberation Serif','Times New Roman',serif" font-size="43.30" fill="#000">80</text>
<text transform="translate(865.18,723.00) scale(1.0000,1)" font-family="'Liberation Serif','Times New Roman',serif" font-size="43.30" fill="#000">100</text>
<text transform="translate(937.73,1243.00) scale(1.0300,1)" font-family="'Liberation Serif','Times New Roman',serif" font-size="39.50" fill="#000">0</text>
<text transform="translate(1035.58,1243.00) scale(1.0600,1)" font-family="'Liberation Serif','Times New Roman',serif" font-size="39.50" fill="#000">1000</text>
<text transform="translate(1167.23,1243.00) scale(1.0600,1)" font-family="'Liberation Serif','Times New Roman',serif" font-size="39.50" fill="#000">2000</text>
<text transform="translate(1297.62,1243.00) scale(1.0600,1)" font-family="'Liberation Serif','Times New Roman',serif" font-size="39.50" fill="#000">3000</text>
<text transform="translate(1428.85,1243.00) scale(1.0600,1)" font-family="'Liberation Serif','Times New Roman',serif" font-size="39.50" fill="#000">4000</text>
<text transform="translate(1558.61,1243.00) scale(1.0600,1)" font-family="'Liberation Serif','Times New Roman',serif" font-size="39.50" fill="#000">5000</text>
<text transform="translate(1026.48,1299.60) scale(1.0000,1)" font-family="'Liberation Sans',Arial,sans-serif" font-size="48.00" fill="#000">charge-discharge cycle</text>
<text transform="translate(856.60,1161.82) rotate(-90) scale(0.9731,1)" font-family="'Liberation Sans',Arial,sans-serif" font-size="41.50">Capacitance retention (%)</text>
<text transform="translate(1435.00,1045.22) scale(1.0864,1)" font-family="'Liberation Serif','Times New Roman',serif" font-size="71.33" fill="#000">(d)</text>
<polyline points="949.4,711.2 975.5,712.5 1001.6,713.8 1027.8,713.8 1053.9,715.0 1080.0,715.0 1106.1,714.2 1132.2,712.5 1158.4,712.5 1184.5,712.5 1210.6,712.5 1236.7,713.8 1262.8,715.0 1289.0,716.2 1315.1,720.0 1341.2,722.0 1367.3,724.5 1393.4,727.5 1419.6,730.0 1445.7,731.0 1471.8,732.5 1497.9,736.2 1524.0,735.5 1550.2,740.0 1576.3,742.0 1602.4,741.2" fill="none" stroke="#000" stroke-width="5.5" stroke-linejoin="round" stroke-linecap="round" />
<polyline points="949.4,711.2 975.5,715.0 1001.6,722.5 1027.8,720.0 1053.9,733.8 1080.0,733.8 1106.1,737.5 1132.2,733.8 1158.4,738.8 1184.5,745.0 1210.6,745.0 1236.7,740.0 1262.8,745.0 1289.0,741.2 1315.1,746.2 1341.2,747.5 1367.3,751.2 1393.4,750.0 1419.6,750.0 1445.7,751.2 1471.8,757.0 1497.9,756.2 1524.0,750.0 1550.2,756.2 1576.3,761.2 1602.4,761.2" fill="none" stroke="#f00" stroke-width="5.5" stroke-linejoin="round" stroke-linecap="round" />
<polyline points="949.4,708.8 975.5,726.2 1001.6,772.5 1027.8,781.2 1053.9,797.5 1080.0,797.5 1106.1,821.2 1132.2,838.8 1158.4,843.8 1184.5,861.2 1210.6,868.8 1236.7,872.5 1262.8,876.2 1289.0,872.5 1315.1,878.8 1341.2,876.2 1367.3,886.2 1393.4,891.2 1419.6,883.8 1445.7,888.8 1471.8,888.8 1497.9,897.5 1524.0,898.8 1550.2,901.2 1576.3,906.2 1602.4,908.8" fill="none" stroke="#00f" stroke-width="5.5" stroke-linejoin="round" stroke-linecap="round" />
<rect x="941.6" y="703.5" width="15.6" height="15.6" fill="#000"/>
<rect x="967.7" y="704.7" width="15.6" height="15.6" fill="#000"/>
<rect x="993.8" y="706.0" width="15.6" height="15.6" fill="#000"/>
<rect x="1020.0" y="706.0" width="15.6" height="15.6" fill="#000"/>
<rect x="1046.1" y="707.2" width="15.6" height="15.6" fill="#000"/>
<rect x="1072.2" y="707.2" width="15.6" height="15.6" fill="#000"/>
<rect x="1098.3" y="706.5" width="15.6" height="15.6" fill="#000"/>
<rect x="1124.4" y="704.7" width="15.6" height="15.6" fill="#000"/>
<rect x="1150.6" y="704.7" width="15.6" height="15.6" fill="#000"/>
<rect x="1176.7" y="704.7" width="15.6" height="15.6" fill="#000"/>
<rect x="1202.8" y="704.7" width="15.6" height="15.6" fill="#000"/>
<rect x="1228.9" y="706.0" width="15.6" height="15.6" fill="#000"/>
<rect x="1255.0" y="707.2" width="15.6" height="15.6" fill="#000"/>
<rect x="1281.2" y="708.5" width="15.6" height="15.6" fill="#000"/>
<rect x="1307.3" y="712.2" width="15.6" height="15.6" fill="#000"/>
<rect x="1333.4" y="714.2" width="15.6" height="15.6" fill="#000"/>
<rect x="1359.5" y="716.7" width="15.6" height="15.6" fill="#000"/>
<rect x="1385.6" y="719.7" width="15.6" height="15.6" fill="#000"/>
<rect x="1411.8" y="722.2" width="15.6" height="15.6" fill="#000"/>
<rect x="1437.9" y="723.2" width="15.6" height="15.6" fill="#000"/>
<rect x="1464.0" y="724.7" width="15.6" height="15.6" fill="#000"/>
<rect x="1490.1" y="728.5" width="15.6" height="15.6" fill="#000"/>
<rect x="1516.2" y="727.7" width="15.6" height="15.6" fill="#000"/>
<rect x="1542.4" y="732.2" width="15.6" height="15.6" fill="#000"/>
<rect x="1568.5" y="734.2" width="15.6" height="15.6" fill="#000"/>
<rect x="1594.6" y="733.5" width="15.6" height="15.6" fill="#000"/>
<ellipse cx="949.4" cy="711.2" rx="7.8" ry="8.8" fill="#f00"/>
<ellipse cx="975.5" cy="715.0" rx="7.8" ry="8.8" fill="#f00"/>
<ellipse cx="1001.6" cy="722.5" rx="7.8" ry="8.8" fill="#f00"/>
<ellipse cx="1027.8" cy="720.0" rx="7.8" ry="8.8" fill="#f00"/>
<ellipse cx="1053.9" cy="733.8" rx="7.8" ry="8.8" fill="#f00"/>
<ellipse cx="1080.0" cy="733.8" rx="7.8" ry="8.8" fill="#f00"/>
<ellipse cx="1106.1" cy="737.5" rx="7.8" ry="8.8" fill="#f00"/>
<ellipse cx="1132.2" cy="733.8" rx="7.8" ry="8.8" fill="#f00"/>
<ellipse cx="1158.4" cy="738.8" rx="7.8" ry="8.8" fill="#f00"/>
<ellipse cx="1184.5" cy="745.0" rx="7.8" ry="8.8" fill="#f00"/>
<ellipse cx="1210.6" cy="745.0" rx="7.8" ry="8.8" fill="#f00"/>
<ellipse cx="1236.7" cy="740.0" rx="7.8" ry="8.8" fill="#f00"/>
<ellipse cx="1262.8" cy="745.0" rx="7.8" ry="8.8" fill="#f00"/>
<ellipse cx="1289.0" cy="741.2" rx="7.8" ry="8.8" fill="#f00"/>
<ellipse cx="1315.1" cy="746.2" rx="7.8" ry="8.8" fill="#f00"/>
<ellipse cx="1341.2" cy="747.5" rx="7.8" ry="8.8" fill="#f00"/>
<ellipse cx="1367.3" cy="751.2" rx="7.8" ry="8.8" fill="#f00"/>
<ellipse cx="1393.4" cy="750.0" rx="7.8" ry="8.8" fill="#f00"/>
<ellipse cx="1419.6" cy="750.0" rx="7.8" ry="8.8" fill="#f00"/>
<ellipse cx="1445.7" cy="751.2" rx="7.8" ry="8.8" fill="#f00"/>
<ellipse cx="1471.8" cy="757.0" rx="7.8" ry="8.8" fill="#f00"/>
<ellipse cx="1497.9" cy="756.2" rx="7.8" ry="8.8" fill="#f00"/>
<ellipse cx="1524.0" cy="750.0" rx="7.8" ry="8.8" fill="#f00"/>
<ellipse cx="1550.2" cy="756.2" rx="7.8" ry="8.8" fill="#f00"/>
<ellipse cx="1576.3" cy="761.2" rx="7.8" ry="8.8" fill="#f00"/>
<ellipse cx="1602.4" cy="761.2" rx="7.8" ry="8.8" fill="#f00"/>
<path d="M949.4,699.2 L959.4,716.8 L939.4,716.8Z" fill="#00f"/>
<path d="M975.5,716.8 L985.5,734.2 L965.5,734.2Z" fill="#00f"/>
<path d="M1001.6,763.0 L1011.6,780.5 L991.6,780.5Z" fill="#00f"/>
<path d="M1027.8,771.8 L1037.8,789.2 L1017.8,789.2Z" fill="#00f"/>
<path d="M1053.9,788.0 L1063.9,805.5 L1043.9,805.5Z" fill="#00f"/>
<path d="M1080.0,788.0 L1090.0,805.5 L1070.0,805.5Z" fill="#00f"/>
<path d="M1106.1,811.8 L1116.1,829.2 L1096.1,829.2Z" fill="#00f"/>
<path d="M1132.2,829.2 L1142.2,846.8 L1122.2,846.8Z" fill="#00f"/>
<path d="M1158.4,834.2 L1168.4,851.8 L1148.4,851.8Z" fill="#00f"/>
<path d="M1184.5,851.8 L1194.5,869.2 L1174.5,869.2Z" fill="#00f"/>
<path d="M1210.6,859.2 L1220.6,876.8 L1200.6,876.8Z" fill="#00f"/>
<path d="M1236.7,863.0 L1246.7,880.5 L1226.7,880.5Z" fill="#00f"/>
<path d="M1262.8,866.8 L1272.8,884.2 L1252.8,884.2Z" fill="#00f"/>
<path d="M1289.0,863.0 L1299.0,880.5 L1279.0,880.5Z" fill="#00f"/>
<path d="M1315.1,869.2 L1325.1,886.8 L1305.1,886.8Z" fill="#00f"/>
<path d="M1341.2,866.8 L1351.2,884.2 L1331.2,884.2Z" fill="#00f"/>
<path d="M1367.3,876.8 L1377.3,894.2 L1357.3,894.2Z" fill="#00f"/>
<path d="M1393.4,881.8 L1403.4,899.2 L1383.4,899.2Z" fill="#00f"/>
<path d="M1419.6,874.2 L1429.6,891.8 L1409.6,891.8Z" fill="#00f"/>
<path d="M1445.7,879.2 L1455.7,896.8 L1435.7,896.8Z" fill="#00f"/>
<path d="M1471.8,879.2 L1481.8,896.8 L1461.8,896.8Z" fill="#00f"/>
<path d="M1497.9,888.0 L1507.9,905.5 L1487.9,905.5Z" fill="#00f"/>
<path d="M1524.0,889.2 L1534.0,906.8 L1514.0,906.8Z" fill="#00f"/>
<path d="M1550.2,891.8 L1560.2,909.2 L1540.2,909.2Z" fill="#00f"/>
<path d="M1576.3,896.8 L1586.3,914.2 L1566.3,914.2Z" fill="#00f"/>
<path d="M1602.4,899.2 L1612.4,916.8 L1592.4,916.8Z" fill="#00f"/>
<line x1="1010.5" y1="957.5" x2="1121" y2="957.5" stroke="#000" stroke-width="6.5"/>
<rect x="1057.7" y="949.5" width="16.6" height="16" fill="#000"/>
<line x1="1010.5" y1="1025.7" x2="1121" y2="1025.7" stroke="#f00" stroke-width="6.5"/>
<ellipse cx="1066" cy="1025.7" rx="7.2" ry="9" fill="#f00"/>
<line x1="1010.5" y1="1094.5" x2="1121" y2="1094.5" stroke="#00f" stroke-width="6.5"/>
<path d="M1066,1082.0 L1076.5,1101.0 L1055.5,1101.0Z" fill="#00f"/>
<text transform="translate(1130.24,973.11) scale(1.0128,1)" font-family="'Liberation Serif','Times New Roman',serif" font-size="54.41" fill="#000">S1</text>
<text transform="translate(1130.12,1041.17) scale(1.0109,1)" font-family="'Liberation Serif','Times New Roman',serif" font-size="56.27" fill="#000">S2</text>
<text transform="translate(1130.31,1107.92) scale(1.0014,1)" font-family="'Liberation Serif','Times New Roman',serif" font-size="54.03" fill="#000">S3</text>
<rect x="131" y="6.5" width="667.5" height="535.8" fill="none" stroke="#000" stroke-width="5"/>
<line x1="131" y1="524.0" x2="144.5" y2="524.0" stroke="#000" stroke-width="5"/>
<line x1="131" y1="428.0" x2="144.5" y2="428.0" stroke="#000" stroke-width="5"/>
<line x1="131" y1="332.0" x2="144.5" y2="332.0" stroke="#000" stroke-width="5"/>
<line x1="131" y1="236.0" x2="144.5" y2="236.0" stroke="#000" stroke-width="5"/>
<line x1="131" y1="140.0" x2="144.5" y2="140.0" stroke="#000" stroke-width="5"/>
<line x1="131" y1="44.0" x2="144.5" y2="44.0" stroke="#000" stroke-width="5"/>
<line x1="131" y1="476.0" x2="140" y2="476.0" stroke="#000" stroke-width="5"/>
<line x1="131" y1="380.0" x2="140" y2="380.0" stroke="#000" stroke-width="5"/>
<line x1="131" y1="284.0" x2="140" y2="284.0" stroke="#000" stroke-width="5"/>
<line x1="131" y1="188.0" x2="140" y2="188.0" stroke="#000" stroke-width="5"/>
<line x1="131" y1="92.0" x2="140" y2="92.0" stroke="#000" stroke-width="5"/>
<line x1="147.8" y1="542.3" x2="147.8" y2="528.8" stroke="#000" stroke-width="5"/>
<line x1="229.9" y1="542.3" x2="229.9" y2="528.8" stroke="#000" stroke-width="5"/>
<line x1="312.0" y1="542.3" x2="312.0" y2="528.8" stroke="#000" stroke-width="5"/>
<line x1="394.1" y1="542.3" x2="394.1" y2="528.8" stroke="#000" stroke-width="5"/>
<line x1="476.2" y1="542.3" x2="476.2" y2="528.8" stroke="#000" stroke-width="5"/>
<line x1="558.3" y1="542.3" x2="558.3" y2="528.8" stroke="#000" stroke-width="5"/>
<line x1="640.4" y1="542.3" x2="640.4" y2="528.8" stroke="#000" stroke-width="5"/>
<line x1="722.5" y1="542.3" x2="722.5" y2="528.8" stroke="#000" stroke-width="5"/>
<line x1="188.9" y1="542.3" x2="188.9" y2="534.8" stroke="#000" stroke-width="5"/>
<line x1="271.0" y1="542.3" x2="271.0" y2="534.8" stroke="#000" stroke-width="5"/>
<line x1="353.1" y1="542.3" x2="353.1" y2="534.8" stroke="#000" stroke-width="5"/>
<line x1="435.2" y1="542.3" x2="435.2" y2="534.8" stroke="#000" stroke-width="5"/>
<line x1="517.2" y1="542.3" x2="517.2" y2="534.8" stroke="#000" stroke-width="5"/>
<line x1="599.4" y1="542.3" x2="599.4" y2="534.8" stroke="#000" stroke-width="5"/>
<line x1="681.5" y1="542.3" x2="681.5" y2="534.8" stroke="#000" stroke-width="5"/>
<line x1="763.6" y1="542.3" x2="763.6" y2="534.8" stroke="#000" stroke-width="5"/>
<rect x="941.7" y="12.4" width="666.8" height="538.4" fill="none" stroke="#000" stroke-width="5"/>
<line x1="941.7" y1="462.4" x2="954.7" y2="462.4" stroke="#000" stroke-width="5"/>
<line x1="941.7" y1="372.4" x2="954.7" y2="372.4" stroke="#000" stroke-width="5"/>
<line x1="941.7" y1="282.4" x2="954.7" y2="282.4" stroke="#000" stroke-width="5"/>
<line x1="941.7" y1="192.4" x2="954.7" y2="192.4" stroke="#000" stroke-width="5"/>
<line x1="941.7" y1="102.4" x2="954.7" y2="102.4" stroke="#000" stroke-width="5"/>
<line x1="941.7" y1="507.4" x2="950.7" y2="507.4" stroke="#000" stroke-width="5"/>
<line x1="941.7" y1="417.4" x2="950.7" y2="417.4" stroke="#000" stroke-width="5"/>
<line x1="941.7" y1="327.4" x2="950.7" y2="327.4" stroke="#000" stroke-width="5"/>
<line x1="941.7" y1="237.4" x2="950.7" y2="237.4" stroke="#000" stroke-width="5"/>
<line x1="941.7" y1="147.4" x2="950.7" y2="147.4" stroke="#000" stroke-width="5"/>
<line x1="941.7" y1="57.4" x2="950.7" y2="57.4" stroke="#000" stroke-width="5"/>
<line x1="1003.0" y1="550.8" x2="1003.0" y2="537.8" stroke="#000" stroke-width="5"/>
<line x1="1154.2" y1="550.8" x2="1154.2" y2="537.8" stroke="#000" stroke-width="5"/>
<line x1="1305.5" y1="550.8" x2="1305.5" y2="537.8" stroke="#000" stroke-width="5"/>
<line x1="1456.8" y1="550.8" x2="1456.8" y2="537.8" stroke="#000" stroke-width="5"/>
<line x1="1078.6" y1="550.8" x2="1078.6" y2="543.8" stroke="#000" stroke-width="5"/>
<line x1="1229.9" y1="550.8" x2="1229.9" y2="543.8" stroke="#000" stroke-width="5"/>
<line x1="1381.1" y1="550.8" x2="1381.1" y2="543.8" stroke="#000" stroke-width="5"/>
<line x1="1532.4" y1="550.8" x2="1532.4" y2="543.8" stroke="#000" stroke-width="5"/>
<rect x="129" y="662" width="666.5" height="538" fill="none" stroke="#000" stroke-width="5"/>
<line x1="129" y1="1111.2" x2="142" y2="1111.2" stroke="#000" stroke-width="5"/>
<line x1="129" y1="1021.5" x2="142" y2="1021.5" stroke="#000" stroke-width="5"/>
<line x1="129" y1="931.8" x2="142" y2="931.8" stroke="#000" stroke-width="5"/>
<line x1="129" y1="842.1" x2="142" y2="842.1" stroke="#000" stroke-width="5"/>
<line x1="129" y1="752.4" x2="142" y2="752.4" stroke="#000" stroke-width="5"/>
<line x1="129" y1="1156.0" x2="138" y2="1156.0" stroke="#000" stroke-width="5"/>
<line x1="129" y1="1066.3" x2="138" y2="1066.3" stroke="#000" stroke-width="5"/>
<line x1="129" y1="976.6" x2="138" y2="976.6" stroke="#000" stroke-width="5"/>
<line x1="129" y1="887.0" x2="138" y2="887.0" stroke="#000" stroke-width="5"/>
<line x1="129" y1="797.2" x2="138" y2="797.2" stroke="#000" stroke-width="5"/>
<line x1="129" y1="707.5" x2="138" y2="707.5" stroke="#000" stroke-width="5"/>
<line x1="171.0" y1="1200" x2="171.0" y2="1187" stroke="#000" stroke-width="5"/>
<line x1="275.1" y1="1200" x2="275.1" y2="1187" stroke="#000" stroke-width="5"/>
<line x1="379.2" y1="1200" x2="379.2" y2="1187" stroke="#000" stroke-width="5"/>
<line x1="483.3" y1="1200" x2="483.3" y2="1187" stroke="#000" stroke-width="5"/>
<line x1="587.4" y1="1200" x2="587.4" y2="1187" stroke="#000" stroke-width="5"/>
<line x1="691.5" y1="1200" x2="691.5" y2="1187" stroke="#000" stroke-width="5"/>
<line x1="223.1" y1="1200" x2="223.1" y2="1193" stroke="#000" stroke-width="5"/>
<line x1="327.1" y1="1200" x2="327.1" y2="1193" stroke="#000" stroke-width="5"/>
<line x1="431.2" y1="1200" x2="431.2" y2="1193" stroke="#000" stroke-width="5"/>
<line x1="535.4" y1="1200" x2="535.4" y2="1193" stroke="#000" stroke-width="5"/>
<line x1="639.5" y1="1200" x2="639.5" y2="1193" stroke="#000" stroke-width="5"/>
<line x1="743.5" y1="1200" x2="743.5" y2="1193" stroke="#000" stroke-width="5"/>
<rect x="942" y="662" width="666.7" height="535.5999999999999" fill="none" stroke="#000" stroke-width="5"/>
<line x1="942" y1="1100.5" x2="955" y2="1100.5" stroke="#000" stroke-width="5"/>
<line x1="942" y1="1003.0" x2="955" y2="1003.0" stroke="#000" stroke-width="5"/>
<line x1="942" y1="905.5" x2="955" y2="905.5" stroke="#000" stroke-width="5"/>
<line x1="942" y1="808.0" x2="955" y2="808.0" stroke="#000" stroke-width="5"/>
<line x1="942" y1="710.5" x2="955" y2="710.5" stroke="#000" stroke-width="5"/>
<line x1="942" y1="1149.2" x2="951" y2="1149.2" stroke="#000" stroke-width="5"/>
<line x1="942" y1="1051.8" x2="951" y2="1051.8" stroke="#000" stroke-width="5"/>
<line x1="942" y1="954.2" x2="951" y2="954.2" stroke="#000" stroke-width="5"/>
<line x1="942" y1="856.8" x2="951" y2="856.8" stroke="#000" stroke-width="5"/>
<line x1="942" y1="759.2" x2="951" y2="759.2" stroke="#000" stroke-width="5"/>
<line x1="949.4" y1="1197.6" x2="949.4" y2="1184.6" stroke="#000" stroke-width="5"/>
<line x1="1080.0" y1="1197.6" x2="1080.0" y2="1184.6" stroke="#000" stroke-width="5"/>
<line x1="1210.6" y1="1197.6" x2="1210.6" y2="1184.6" stroke="#000" stroke-width="5"/>
<line x1="1341.2" y1="1197.6" x2="1341.2" y2="1184.6" stroke="#000" stroke-width="5"/>
<line x1="1471.8" y1="1197.6" x2="1471.8" y2="1184.6" stroke="#000" stroke-width="5"/>
<line x1="1602.4" y1="1197.6" x2="1602.4" y2="1184.6" stroke="#000" stroke-width="5"/>
<line x1="975.5" y1="1197.6" x2="975.5" y2="1190.6" stroke="#000" stroke-width="5"/>
<line x1="1001.6" y1="1197.6" x2="1001.6" y2="1190.6" stroke="#000" stroke-width="5"/>
<line x1="1027.8" y1="1197.6" x2="1027.8" y2="1190.6" stroke="#000" stroke-width="5"/>
<line x1="1053.9" y1="1197.6" x2="1053.9" y2="1190.6" stroke="#000" stroke-width="5"/>
<line x1="1106.1" y1="1197.6" x2="1106.1" y2="1190.6" stroke="#000" stroke-width="5"/>
<line x1="1132.2" y1="1197.6" x2="1132.2" y2="1190.6" stroke="#000" stroke-width="5"/>
<line x1="1158.4" y1="1197.6" x2="1158.4" y2="1190.6" stroke="#000" stroke-width="5"/>
<line x1="1184.5" y1="1197.6" x2="1184.5" y2="1190.6" stroke="#000" stroke-width="5"/>
<line x1="1236.7" y1="1197.6" x2="1236.7" y2="1190.6" stroke="#000" stroke-width="5"/>
<line x1="1262.8" y1="1197.6" x2="1262.8" y2="1190.6" stroke="#000" stroke-width="5"/>
<line x1="1289.0" y1="1197.6" x2="1289.0" y2="1190.6" stroke="#000" stroke-width="5"/>
<line x1="1315.1" y1="1197.6" x2="1315.1" y2="1190.6" stroke="#000" stroke-width="5"/>
<line x1="1367.3" y1="1197.6" x2="1367.3" y2="1190.6" stroke="#000" stroke-width="5"/>
<line x1="1393.4" y1="1197.6" x2="1393.4" y2="1190.6" stroke="#000" stroke-width="5"/>
<line x1="1419.6" y1="1197.6" x2="1419.6" y2="1190.6" stroke="#000" stroke-width="5"/>
<line x1="1445.7" y1="1197.6" x2="1445.7" y2="1190.6" stroke="#000" stroke-width="5"/>
<line x1="1497.9" y1="1197.6" x2="1497.9" y2="1190.6" stroke="#000" stroke-width="5"/>
<line x1="1524.0" y1="1197.6" x2="1524.0" y2="1190.6" stroke="#000" stroke-width="5"/>
<line x1="1550.2" y1="1197.6" x2="1550.2" y2="1190.6" stroke="#000" stroke-width="5"/>
<line x1="1576.3" y1="1197.6" x2="1576.3" y2="1190.6" stroke="#000" stroke-width="5"/>
</svg>
</body></html>
